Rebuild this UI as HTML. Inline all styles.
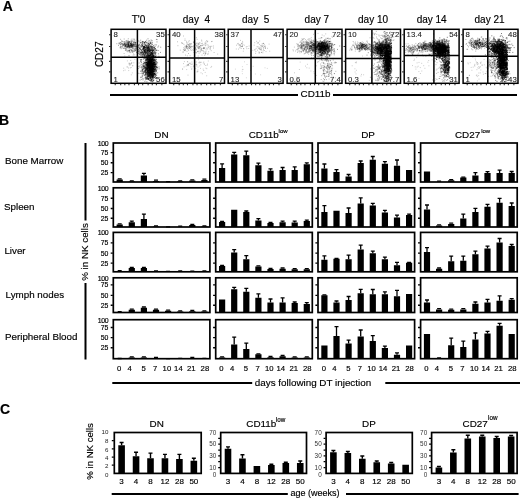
<!DOCTYPE html>
<html><head><meta charset="utf-8"><title>Figure</title>
<style>
html,body{margin:0;padding:0;background:#fff;}
body{width:520px;height:500px;overflow:hidden;}
svg{display:block;}
text{fill:#000;stroke:#000;stroke-width:.16px;}
</style></head><body>
<svg width="520" height="500" viewBox="0 0 520 500" style="font-family:'Liberation Sans',Arial,sans-serif">
<rect width="520" height="500" fill="#fff"/>
<text x="2.8" y="11.1" font-size="14" font-weight="bold">A</text>
<text x="-0.9" y="124.7" font-size="14" font-weight="bold">B</text>
<text x="0.1" y="413.6" font-size="14" font-weight="bold">C</text>
<text x="138.55" y="22.9" font-size="10" text-anchor="middle" style="white-space:pre">T'0</text>
<path transform="scale(.1)" stroke="#000" stroke-opacity="0.4" stroke-width="8" stroke-linecap="square" fill="none" d="M1279 459h0m2-18h0m-32 2h0m92 14h0m-3-4h0m-29-1h0m-93 15h0m98-8h0m-99-49h0m36 28h0m54 9h0m9-13h0m-9 23h0m-44 29h0m55-12h0m-53-42h0m13 14h0m43 7h0m-48-26h0m-3 48h0m-13-22h0m55-38h0m-17 62h0m-93-36h0m86-11h0m27 17h0m-88 19h0m96 3h0m35-13h0m-60-37h0m23 16h0m-48-15h0m-24 16h0m102-33h0m-124 50h0m131 8h0m-150-68h0m101 39h0m-66 38h0m100-19h0m-39 7h0m61 4h0m-49-2h0m-94 16h0m114-16h0m-132-26h0m127-26h0m-46 62h0m-51 13h0m84-38h0m-10 17h0m-10 11h0m-35-34h0m77 10h0m-87 20h0m106-31h0m-128 7h0m55-4h0m70-16h0m-6-5h0m-92 42h0m86 5h0m-35-16h0m-9 10h0m-15-7h0m34-6h0m8 12h0m56-5h0m-109-15h0m18 28h0m-14-12h0m98-64h0m-134 61h0m69 0h0m-37 9h0m32-25h0m96 19h0m-134-10h0m15 1h0m-113-10h0m168-15h0m-48 47h0m42 12h0m-116-41h0m62 22h0m64-73h0m0 27h0m-18-1h0m-23 59h0m-15-22h0m43-1h0m-40 31h0m51-40h0m77-19h0m-83 19h0m-35 22h0m4-2h0m-79-47h0m97 12h0m-74-11h0m103 48h0m9-37h0m-66-4h0m34 60h0m-74-1h0m84-38h0m-133 35h0m85-44h0m22 22h0m49-31h0m-16 55h0m14-37h0m-98 26h0m38-19h0m59-9h0m-167-3h0m20 27h0m97-31h0m-14 31h0m4 11h0m-7-6h0m70 12h0m-97-16h0m-54-43h0m-4 48h0m33-24h0m46-1h0m-18 6h0m108-4h0m-57 21h0m-33-50h0m-16 52h0m-49-37h0m119 30h0m-45 1h0m7-44h0m-77 12h0m112 2h0m-83-5h0m-28 14h0m16 11h0m-53-1h0m77-50h0m62 37h0m-133-13h0m113 9h0m22 26h0m-5-9h0m30 8h0m-40-61h0m20 75h0m-53-39h0m100-29h0m-66 92h0m-63-38h0m127-18h0m-60 23h0m-66-22h0m54 20h0m-15-22h0m-44-4h0m86 10h0m-78-21h0m158 44h0m-91-82h0m-1 68h0m48-2h0m-79 2h0m-84 12h0m102-38h0m45 55h0m-123-55h0m76 19h0m-31-25h0m113 44h0m-149-53h0m131 52h0m5-4h0m-121-12h0m-58-22h0m94 28h0m-30-15h0m54 11h0m8-3h0m-44 12h0m17-35h0m-30 18h0m23 3h0m5 1h0m-6-32h0m25 51h0m1-27h0m0-17h0m-105 22h0m43 15h0m-7-74h0m2 93h0m30-65h0m-17 41h0m56-7h0m45 12h0m-68-3h0m75 8h0m-28-45h0m-53 40h0m-6 8h0m40-4h0m-37 36h0m66-61h0m-52 62h0m-19-38h0m59-19h0m-97 4h0m69 21h0m19-24h0m3 11h0m-29-11h0m-20 14h0m-36-29h0m47-18h0m-20-12h0m-11 57h0m56-14h0m-35-30h0m92 42h0m-33-30h0m-57-21h0m43 61h0m-120-22h0m113-38h0m-110 16h0m54-8h0m29 36h0m28 10h0m39 11h0m-127-37h0m11-13h0m44 24h0m26-35h0m-78 34h0m47-6h0m6-10h0m35 25h0m-36-23h0m-4-45h0m-36 61h0m-24 3h0m75-34h0m-18 23h0m32 20h0m-23-32h0m-4 18h0m39 7h0m-66-36h0m16 14h0m-33 13h0m28 5h0m46-11h0m81 2h0m-55 10h0m0-55h0m-84 57h0m61 46h0m-12-23h0m19-7h0m-11-24h0m0-21h0m30 2h0m-42 69h0m-21-47h0m62 1h0m-88 5h0m62 10h0m-61 23h0m110-39h0m-63-9h0m52-7h0m-34 5h0m-61 27h0m91-16h0m-90 18h0m28-11h0m71 18h0m-92 25h0m23-33h0m-29-18h0m-50 40h0m140-66h0m-129-9h0m121 26h0m-56 3h0m-2-17h0m6-8h0m-4 39h0m24-12h0m-62 9h0m19 30h0m57-37h0m-56-12h0m-21 7h0m219 191h0m11-16h0m-52 171h0m8-126h0m-29-46h0m11 51h0m-16 70h0m36-97h0m-6 78h0m52-67h0m2 118h0m-6-77h0m-69 22h0m26-28h0m-36-27h0m52-39h0m1 153h0m-1-138h0m52-86h0m-80 150h0m8-158h0m20 183h0m-25 37h0m31-16h0m-49-70h0m76 118h0m-7-118h0m-28-37h0m23-4h0m-24-80h0m-40 225h0m38-91h0m-54-15h0m103-85h0m-108 78h0m45-3h0m-18-67h0m1 117h0m29 10h0m-25-13h0m15-30h0m34-3h0m-32-100h0m11 144h0m-17-50h0m-28-74h0m53 154h0m-18-174h0m-1 6h0m2 205h0m14-122h0m18-13h0m-17 34h0m3-98h0m6 138h0m-73-212h0m34 248h0m23-48h0m13 12h0m-30-86h0m25 70h0m5-16h0m-26 45h0m24-2h0m-74-3h0m2-48h0m44-5h0m4-25h0m17 38h0m-25-169h0m1 181h0m-2-7h0m12-81h0m38 154h0m-32-101h0m27-76h0m-46 146h0m44-96h0m-41 50h0m-16-51h0m29-116h0m21 191h0m11-130h0m-58 37h0m0 170h0m8-141h0m29 46h0m31-92h0m-14 74h0m-51 0h0m-6 87h0m17-36h0m50-97h0m-54 45h0m-4 46h0m30-99h0m-21 88h0m-19 58h0m17-113h0m-4 109h0m43-19h0m-4-73h0m26 35h0m-31-6h0m7-17h0m-22-112h0m55 17h0m-105 35h0m102 116h0m-63-57h0m14-135h0m-7 136h0m37-89h0m-85-22h0m64 99h0m-4 4h0m-13-91h0m20 105h0m3 52h0m-45-215h0m-14 268h0m22-104h0m23 20h0m80-75h0m-84-5h0m10 67h0m-30 48h0m53-52h0m-32-41h0m-38 53h0m17-69h0m49-25h0m-38 106h0m59-92h0m-18 2h0m-18 68h0m-38 33h0m73-59h0m-38-73h0m38 74h0"/>
<path transform="scale(.1)" stroke="#000" stroke-opacity="0.3" stroke-width="8" stroke-linecap="square" fill="none" d="M1334 514h0m13 35h0m-58-46h0m158-41h0m-149 45h0m30 5h0m-18-1h0m13 9h0m-87-36h0m85-4h0m-47 37h0m18 0h0m63-7h0m-11-9h0m-86 1h0m83-11h0m-24 28h0m-36-2h0m124-26h0m-77 9h0m62 10h0m-29-22h0m-41 15h0m-79 32h0m120-70h0m-7 35h0m-13 11h0m-87-13h0m134-8h0m-113-17h0m-9 37h0m131 2h0m-65 40h0m-34-64h0m47 27h0m-70-38h0m59 31h0m-72-9h0m35 14h0m19-12h0m-11 25h0m79-31h0m-25-9h0m-35 33h0m65-24h0m-71 12h0m-64-4h0m37 8h0m-21-51h0m53 49h0m-27 14h0m13-33h0m33-22h0m-51 35h0m68-4h0m-24-10h0m0 51h0m-45 15h0m2-52h0m37 23h0"/>
<path transform="scale(.1)" stroke="#000" stroke-opacity="0.25" stroke-width="8" stroke-linecap="square" fill="none" d="M1248 559h0m64 116h0m1 73h0m-15-95h0m26 5h0m25-65h0m-71-88h0m41 123h0m4 101h0m-32-96h0m-17-24h0m-5 60h0m23-23h0m-7 34h0m23-43h0m6 0h0m-63 64h0m56-96h0m22 52h0m-93 50h0m67-28h0m-5-42h0m-61 45h0m55-50h0m11 14h0m12-18h0m-25-71h0m-14 113h0m62-42h0m-51 78h0"/>
<path transform="scale(.1)" stroke="#000" stroke-opacity="0.5" stroke-width="8" stroke-linecap="square" fill="none" d="M1456 527h0m91-27h0m-21-30h0m-46 25h0m-4 48h0m103-72h0m-134 47h0m-21 0h0m73-31h0m-2-51h0m10 0h0m-65 40h0m13 56h0m22-50h0m20 79h0m-24-48h0m56-4h0m-114 89h0m157-179h0m-101 96h0m45 10h0m-55-69h0m17 83h0m-54-82h0m48-36h0m-11 60h0m32-11h0m-60 12h0m38-11h0m3 57h0m52 38h0m-88-85h0m-77 93h0m79-77h0m57-53h0m-3 53h0m-103 13h0m136-87h0m-18 83h0m-15 10h0m38-27h0m-20-7h0m-6-17h0m-38 102h0m25-75h0m-72-26h0m61 70h0m10-17h0m-21 33h0m-16-76h0m58 25h0m-53-26h0m1 48h0m28-73h0m3 55h0m-64 24h0m32-44h0m49 66h0m-67-35h0m-8 75h0m17-45h0m-7-16h0m129-134h0m-120 122h0m16-47h0m101 30h0m-171 31h0m-3 12h0m51-40h0m83-1h0m-120-73h0m116 98h0m-90 4h0m59-8h0m-124-38h0m143 41h0m-1-127h0m-32 118h0m107-58h0m-130 39h0m55-19h0m12-14h0m-40 11h0m-5-7h0m-79 72h0m86-66h0m-5 62h0m-53-44h0m68 25h0m-39-105h0m71 97h0m-55-24h0m11-6h0m-58-13h0m19 6h0m-25 49h0m-7 1h0m13-12h0m108-6h0m-95-6h0m40-71h0m-34 76h0m6-4h0m54 28h0m8-7h0m-54-25h0m1-12h0m4-56h0m-7 68h0m-29 0h0m67-6h0m70-97h0m-102 31h0m53 179h0m-157-101h0m136-17h0m2-78h0m13 105h0m-37-39h0m28 5h0m-19-1h0m-111 19h0m110 31h0m-48-31h0m67 7h0m28 74h0m-97-157h0m80 138h0m3-28h0m-70-62h0m68-7h0m-122-4h0m194 117h0m-143-106h0m41-1h0m49 27h0m-108 55h0m23-43h0m25-22h0m16-15h0m-98-60h0m26 58h0m56 32h0m26 3h0m-61-33h0m-59 21h0m117 28h0m-27-28h0m47 8h0m-9 22h0m-23 29h0m-36-66h0m-10-18h0m106 102h0m-69-47h0m52 9h0m1-83h0m-83 69h0m94-14h0m-104-18h0m9-20h0m98 9h0m-67 111h0m52-73h0m-81 3h0m101 9h0m-16-21h0m-34-12h0m-4 60h0m-83-55h0m75-20h0m-25 54h0m104-6h0m-75-87h0m72 65h0m-89-48h0m-1 1h0m6 63h0m-2-8h0m-39 46h0m9-130h0m21 42h0m-37 17h0m58-33h0m-19 104h0m37-63h0m-25 1h0m-8 34h0m-2-125h0m3 60h0m30 12h0m-22 111h0m-54-132h0m-17-51h0m-21 111h0m56-90h0m-38 100h0m32-40h0m50 69h0m72-13h0m-81-34h0m75 50h0m-95-39h0m27-16h0m-36-55h0m-1-9h0m79 83h0m-109 35h0m94-132h0m43 108h0m10-81h0m-69 66h0m-15-10h0m38-67h0m-103 4h0m31 32h0m42 35h0m-16-38h0m-21 65h0m54-34h0m-49 58h0m-12-36h0m79-37h0m-15-34h0m9 53h0m-117 19h0m31 24h0m9-58h0m44-6h0m-1-9h0m18 22h0m-21-110h0m43 111h0m-132 3h0m101 39h0m-70 19h0m42 34h0m0-69h0m-9-72h0m65 81h0m20-2h0m-95-100h0m-3 39h0m-8 50h0m52-34h0m-7 5h0m2 36h0m33-57h0m-111 84h0m73-13h0m-79-57h0m75-45h0m-24 87h0m72 35h0m-88-120h0m62 94h0m-14-90h0m26 84h0m-10-51h0m-11 51h0m-39-106h0m40 93h0m-14 17h0m-27-39h0m12 26h0m86-33h0m20 71h0m-56-38h0m44-30h0m-85-36h0m26 97h0m3-37h0m-33-10h0m-55 35h0m46-86h0m-16 11h0m72 75h0m-99-5h0m101-60h0m-107-7h0m38 44h0m13-95h0m27 20h0m30 13h0m-72 14h0m7 86h0m62-28h0m-24-86h0m-37 40h0m-21 42h0m11-48h0m-14-54h0m74 135h0m-19-92h0m-130 46h0m177 5h0m-13 47h0m9-77h0m-4 49h0m-116-47h0m5 12h0m90-39h0m-119 95h0m110 7h0m-77-17h0m153 38h0m-102-69h0m2 29h0m54-37h0m-108 27h0m40-5h0m33 40h0m39-83h0m-35 89h0m-40-54h0m78 33h0m-31-103h0m-80 63h0m74 92h0m-56-56h0m74-113h0m-72 74h0m15-13h0m43-26h0m0 7h0m-46 46h0m-1-10h0m98-10h0m-79 28h0m-9 14h0m-42-18h0m35-57h0m103-2h0m-1 60h0m-14-65h0m-11 97h0m-59-63h0m116 12h0m-130-32h0m39 38h0m-12 56h0m-23-50h0m81-59h0m-19 113h0m-108-117h0m14-30h0m67 0h0m2 132h0m-95-71h0m-13 44h0m53-42h0m35 33h0m-18-21h0m-9 4h0m-28-2h0m-34-23h0m173 23h0m-143 7h0m13-76h0m11 95h0m50-33h0m-59-39h0m103 53h0m-104-94h0m-19 183h0m10-102h0m61-3h0m-22-49h0m-34 123h0m13-34h0m-42-45h0m88 52h0m-63-17h0m68-54h0m4-6h0m-57 35h0m-86-3h0m77-55h0m26 90h0m1 20h0m-34-103h0m122 68h0m-27-49h0m-7 43h0m-7-9h0m25-27h0m-97-33h0m95 29h0m-99-8h0m27-13h0m7 26h0m-12-13h0m27 20h0m3 28h0m10-98h0m-39 56h0m59-31h0m-67 51h0m17 52h0m-5-1h0m-46-111h0m121 89h0m-33-12h0m0-54h0m21 28h0m1 25h0m-133-55h0m140 46h0m-69 15h0m-1-32h0m24 28h0m63-4h0m17 70h0m-8-30h0m-71-37h0m-12-34h0m3 3h0m77 47h0m-94-98h0m18 60h0m-47-28h0m-52 68h0m98 80h0m2-109h0m66 11h0m-57-20h0m-35 75h0m72 9h0m-61-68h0m-24 38h0m-23-16h0m112 33h0m-91-12h0m10-74h0m-28 76h0m134-70h0m-108 10h0m147 54h0m-137-112h0m-6 119h0m114-58h0m-115-9h0m-54 56h0m36 7h0m-28-94h0m90 20h0m22 31h0m-88 25h0m91-102h0m44 97h0m-48-94h0m-66 60h0m80-44h0m-88-23h0m29 95h0m-65-38h0m99 87h0m7-75h0m-83-25h0m23 43h0m28 61h0m15-110h0m56 81h0m-64-67h0m-89-12h0m125 9h0m-100 40h0m70 16h0m18 32h0m-67-17h0m-6-11h0m52-18h0m36-11h0m6 36h0m-44-58h0m-40 2h0m25 20h0m143 27h0m-99-60h0m-67 21h0m41-28h0m64 18h0m-24-70h0m-49 104h0m9 13h0m4-18h0m-98-35h0m-20 54h0m119-33h0m-51-15h0m120 92h0m-86-17h0m-68-129h0m49 42h0m-3 43h0m161-34h0m-134 37h0m-4 26h0m82-87h0m-73 39h0m7 281h0m-3-29h0m-14 42h0m87-41h0m-57 1h0m2 23h0m40-31h0m-20-16h0m21 34h0m-44 33h0m12-4h0m23 6h0m-37-32h0m23-5h0m23-10h0m-10 41h0m-59-46h0m21 8h0m26 8h0m-6-6h0m-4 19h0m17-26h0m-17 1h0m-2-14h0m23 42h0m-21-27h0m-7 1h0m-22 46h0m97-58h0m-89 37h0m35-43h0m-50 42h0m-2 17h0m30-26h0m10-13h0m-3 5h0m28 4h0m-26-9h0m-12-4h0m13 52h0m22-32h0m11 15h0m-29-23h0m-26 8h0m16-37h0m-20 71h0m30-29h0m0-19h0m5 31h0m-15-12h0m27-20h0m-18-5h0m9 8h0m11-8h0m11 9h0m-51-12h0m30 1h0m23 43h0m-26-54h0m-10 13h0m-36 24h0m80-20h0m-28 37h0m-35-33h0m24 16h0m-28-5h0m21 15h0m-30-30h0m22 5h0m24-7h0m41-1h0m-38 34h0m2-24h0m-36-1h0m30 7h0m-1 9h0m-30-30h0m47 9h0m-61 47h0m15-56h0"/>
<path transform="scale(.1)" stroke="#000" stroke-opacity="0.6" stroke-width="8" stroke-linecap="square" fill="none" d="M1516 563h0m-59-51h0m64 163h0m-13-166h0m-12 105h0m-30-11h0m60 95h0m-21-2h0m-16-28h0m18 31h0m-3-45h0m-2-33h0m67 75h0m-51 116h0m27-250h0m-20 155h0m34 32h0m-31-163h0m-46 94h0m38-83h0m-25 40h0m13 48h0m-10-102h0m43 184h0m-38-37h0m15-24h0m1-93h0m3 116h0m-41 62h0m84-10h0m-3-70h0m-65-87h0m-14 47h0m22 36h0m-56 106h0m121-152h0m-45 33h0m-11-45h0m-11-40h0m8 52h0m4-54h0m-8 59h0m16-72h0m-5 133h0m5-88h0m-31 9h0m34 116h0m-24-143h0m15 55h0m-36-61h0m22 92h0m-30-110h0m47-14h0m-11 103h0m-6-89h0m1 44h0m11-33h0m22-54h0m-36 110h0m32-41h0m-12 3h0m6 150h0m-32-84h0m-15 34h0m60-61h0m-66 24h0m64 45h0m-9-190h0m-42 211h0m-15-18h0m87-24h0m-22-72h0m-65 15h0m28 4h0m26-6h0m-15 37h0m-5 92h0m12-115h0m-18-46h0m44 51h0m-68-47h0m26 8h0m34-47h0m-16 85h0m-47-6h0m30 30h0m-10-13h0m-34-90h0m69 138h0m-22-107h0m30-97h0m-52 180h0m40-111h0m-71 161h0m57-152h0m-2 117h0m-75 13h0m94-207h0m1 19h0m10 142h0m31-66h0m-63 108h0m-18-114h0m8 41h0m-20 36h0m45-26h0m33-26h0m-11-15h0m-16-90h0m-15 115h0m-20-29h0m4-7h0m-51 8h0m46 5h0m-15 25h0m52-7h0m-36 104h0m41-28h0m5-81h0m-36 93h0m-12-80h0m27 32h0m-19 40h0m3-17h0m35-4h0m-9-118h0m-58 35h0m50 138h0m-47-78h0m10-68h0m16 93h0m14 32h0m-34-19h0m54-53h0m-13-42h0m-44 11h0m17 133h0m20-87h0m15-71h0m5 75h0m-68 15h0m57-10h0m29-56h0m-30 76h0m-39 29h0m-16-163h0m56 14h0m-18-36h0m5 33h0m8-26h0m3 83h0m-11 13h0m2-82h0m-76 88h0m46-32h0m38-99h0m-33 89h0m-9 61h0m26-74h0m-24 105h0m10-14h0m31-161h0m-43 123h0m40 51h0m12 16h0m-32-81h0m32-14h0m8-75h0m-12 92h0m-73 75h0m64-63h0m-39-31h0m72-24h0m-139-2h0m63 47h0m23-50h0m-13 127h0m-16 59h0m25-198h0m37 108h0m-51 12h0m-23-109h0m84 43h0m-68 50h0m62-34h0m-77-22h0m63 73h0m40-66h0m-66 14h0m48-59h0m3-118h0m-15 135h0m-9 89h0m-46-51h0m40 44h0m-33-102h0m21 50h0m-37 74h0m27 33h0m39-92h0m-4-73h0m-29 35h0m-27 38h0m32 92h0m-90-137h0m68 14h0m38 56h0m-11-57h0m13 54h0m-66-40h0m14-60h0m42 81h0m-1-61h0m-9-2h0m17 104h0m38 37h0m-72-112h0m-3 50h0m81 26h0m-117-128h0m26 115h0m36-14h0m50-73h0m-74 182h0m34-179h0m-67-48h0m-11 103h0m69 61h0m-5-110h0m-17 169h0m-28-113h0m50 29h0m-12-8h0m34-42h0m-36-2h0m-14-2h0m19 28h0m45 71h0m-49-46h0m20 11h0m-7-33h0m-14-68h0m37 135h0m-5-56h0m-12-57h0m-57 72h0m56-79h0m-33 119h0m-24 32h0m69 39h0m-38-155h0m6 11h0m8-59h0m36-2h0m-44 87h0m-1-64h0m25 4h0m-45 17h0m29 118h0m-25-48h0m9-86h0m13 41h0m33 96h0m-42-28h0m46-33h0m-49 6h0m18-36h0m-5 20h0m39 31h0m-37-9h0m47-126h0m0-26h0m-26 126h0m27-21h0m-55-70h0m-22 102h0m28-97h0m22-3h0m-27 20h0m58 125h0m-50-197h0m12 107h0m2 32h0m-19 23h0m32-46h0m-34-45h0m30-40h0m-23 22h0m-35 88h0m38-37h0m25-99h0m-26 116h0m25-90h0m-3 85h0m18 60h0m-23 66h0m-15-168h0m-10-33h0m9-61h0m-1 150h0m30-51h0m11-19h0m-43-80h0m-17 71h0m62 85h0m-71 0h0m43-49h0m-12-4h0m-16-94h0m13 195h0m41-100h0m-59 5h0m45 35h0m-41 1h0m10 10h0m-5-126h0m13 141h0m-32-55h0m54-17h0m-42 153h0m41-64h0m-49 38h0m-19-136h0m65 117h0m-45-126h0m30-80h0m12 157h0m-29-1h0m33-14h0m-7 76h0m-27-86h0m-1 55h0m3-35h0m15-26h0m43-9h0m-9 57h0m-2-62h0m-11 58h0m-42-31h0m14-19h0m38-43h0m-81-64h0m34 69h0m12 76h0m48-17h0m-35-65h0m3 131h0m20-208h0m-12 222h0m-2-193h0m-30 131h0m19-88h0m-35 111h0m-12 30h0m37-71h0m-37-56h0m55-55h0m37 4h0m-89 91h0m46 43h0m-23-59h0m4-23h0m-63 96h0m76-50h0m-24 6h0m17-21h0m30-103h0m-23 41h0m-16 161h0m-20-100h0m13 65h0m-10-164h0m40 83h0m-23 89h0m-15-90h0m28 49h0m-18 39h0m74-91h0m-10-106h0m-12 111h0m-34 0h0m-21-59h0m6 161h0m42-103h0m-45-22h0m-18 157h0m50-106h0m-31-71h0m48 113h0m-61 13h0m-4-22h0m4-66h0m39 53h0m14-79h0m15 136h0m-42-55h0m-21-39h0m-15 16h0m41 78h0m20-33h0m-35-65h0m1 28h0m-43 34h0m10-80h0m43 0h0m44 26h0m-3 79h0m-55-48h0m48-46h0m-33-14h0m0 13h0m0 85h0m35-55h0m-32 45h0m-13-119h0m38 8h0m-5-2h0m24-5h0m-26 159h0m-49-1h0m4-203h0m41 154h0m-24-202h0m4 139h0m-9 1h0m-38-17h0m96 132h0m-58-141h0m21 110h0m8-139h0m-15 82h0m35 66h0m-25 1h0m-25 20h0m0-71h0m36-82h0m-44-53h0m23 107h0m-13 34h0m-48-32h0m59-16h0m19 126h0m-33-168h0m-4 65h0m32-60h0m11-10h0m-5 91h0m-10 108h0m-19-145h0m20 64h0m-49-37h0m16 22h0m57-36h0m-40 8h0m-76 37h0m94-38h0m-26-56h0m6 122h0m2 8h0m-66-113h0m76 28h0m-52-40h0m79-40h0m-61 13h0m12 108h0m31-167h0m23 90h0m-55 141h0m14-181h0m-15 32h0m-10 24h0m51 43h0m-51-15h0m28 41h0m-10-20h0m66-22h0m-86 14h0m7-43h0m27 44h0m-13 32h0m3-134h0m29 58h0m9-18h0m-18 61h0m-87-113h0m42 181h0m-21-31h0m80-26h0m-11-62h0m-18 45h0m11 30h0m-17-88h0m-9 70h0m-30-104h0m34 43h0m4-131h0m-2 150h0m30-108h0m-29 154h0m21 45h0m15-141h0m-11 45h0m-39 117h0m5-149h0m6 0h0m38 77h0m11 2h0m-55 39h0m-1-94h0m13 31h0m37-40h0m-23 36h0m-43-66h0m28 93h0m15 5h0m-8-58h0m10-35h0m-47 42h0m-3-11h0m19-3h0m19-15h0m-10-57h0m15 52h0m7-122h0m-33 192h0m-44-38h0m69 29h0m-43 8h0m44-75h0m16 58h0m-19-25h0m14 34h0m16 22h0m-48-42h0m42-9h0m-15 56h0m-15-179h0m9 159h0m0-61h0m29 40h0m-50-37h0m27-24h0m-37 195h0m62-60h0m2-29h0m-83 38h0m80-44h0m-87 47h0m90-109h0m-34 80h0m-5 20h0m4-25h0m0-137h0m6 176h0m23 25h0m-16-146h0m-14-83h0m-6 178h0m-54-45h0m81 72h0m-47-125h0m-26-23h0m66 195h0m-46-44h0m43-118h0m48-128h0m-62 173h0m60 99h0m4-105h0m-35 78h0m-13-63h0m-19-49h0m-28 149h0m21-254h0m19 129h0m-2 117h0m-8-132h0m-17 16h0m8 14h0m97 12h0m-108 97h0m47-70h0m-5 0h0m-1 37h0m9-4h0m-41-85h0m-6 61h0m43-90h0m11-42h0m-37 111h0m2-16h0m33-3h0m-62 24h0m27-38h0m-12-95h0m-19 66h0m5-150h0m60 98h0m-51 108h0m-46 51h0m45-43h0m8-23h0m16-19h0m-53-93h0m49 182h0m-14-55h0m19-3h0m23-126h0m-20 84h0m-16-43h0m-12-11h0m67 66h0m-26-63h0m-96-53h0m80 206h0m-5-154h0m-6 0h0m-31 48h0m27-36h0m-13-8h0m30 147h0m-12 54h0m-38-125h0m12-27h0m35 45h0m28-70h0m-65 23h0m42-32h0m16 151h0m-63-84h0m67-145h0m-22 108h0m-45 97h0m45-113h0m6 71h0m9-4h0m-10-112h0m-22 83h0m-65 127h0m66-202h0m-40 83h0m51-53h0m-12-19h0m-9 50h0m2 49h0m14-35h0m15 73h0m5-67h0m-20-65h0m-5 94h0m15-68h0m-42-72h0m45 162h0m1-152h0m-16 101h0m-19 8h0m20-75h0m-29 104h0m44-107h0m-38 112h0m44-75h0m27 1h0m-72 87h0m24-47h0m6-85h0m-33 51h0m70-52h0m-1 78h0m-67 3h0m45-74h0m-73 80h0m28 5h0m-22-37h0m30-85h0m15 105h0m-8-86h0m21-36h0m9 142h0m31 25h0m-36-39h0m-9-101h0m39 117h0m-48-105h0m48 106h0m-72 8h0m84-43h0m-41-25h0m-28 94h0m101-61h0m-87 43h0m-5-4h0m31-110h0m-52 59h0m52 22h0m11-104h0m-21 48h0m-10 59h0m-29-34h0m-6 31h0m9-48h0m29-10h0m25 1h0m-8 58h0m-51-32h0m5-9h0m16 138h0m-4-16h0m23-181h0m-75 125h0m9 2h0m82-20h0m-34-41h0m13-3h0m-22-4h0m47-16h0m-22-33h0m-29-15h0m14 130h0m13-74h0m9 9h0m-7 39h0m5-173h0m-50 205h0m32 92h0m-3-176h0m46 70h0m11-3h0m-57 14h0m-15-74h0m6 14h0m36-16h0m-12-1h0m15-142h0m-30 184h0m-23 53h0m35 17h0m20-41h0m-30-108h0m-2 39h0m13 0h0m76-71h0m-51 70h0m-39 88h0m7-134h0m11 64h0m-67 24h0m27-59h0m42 66h0m-21 117h0m19-175h0m-5 31h0m-66-91h0m22 229h0m33-147h0m-10 79h0m16 45h0m20-4h0m-24-79h0m-9-35h0m-35-25h0m21-5h0m59 57h0m0 38h0m-8 9h0m-41-13h0m7-83h0m41 169h0m-58-27h0m48-162h0m-15 76h0m3-45h0m-45 24h0m58 47h0m-5 20h0m-45-72h0m36 66h0m-5-31h0m0 99h0m-63-133h0m126 17h0m-116-7h0m10-51h0m45 150h0m6-65h0m15-29h0m-50-19h0m32-11h0m-27-5h0m-22-42h0m38 41h0m3 111h0m7-90h0m-40-65h0m42 12h0m2-12h0m-8 62h0m23-20h0m-37 40h0m11 91h0m-8-140h0m-2 64h0m15 13h0m-43 112h0m87-157h0m-83 12h0m44-150h0m-11 48h0m12 178h0m16-180h0m9 151h0m-47-26h0m51-52h0m-41-14h0m31-100h0m7 74h0m-13-41h0m-50 65h0m47-64h0m-6 61h0m17 21h0m-20 8h0m35-12h0m-49 147h0m3-81h0m-22-31h0m-41-5h0m44-101h0m-21 165h0m49-166h0m38 51h0m-59 59h0m-21-116h0m11 175h0m46-173h0m6 101h0m-19 1h0m-2-66h0m-35 19h0m14 83h0m-23 61h0m16-137h0m36 64h0m-28-94h0m-18-33h0m58 168h0m19-37h0m-41 16h0m17-63h0m-17 151h0m-55-223h0m20 135h0m58-68h0m-14 18h0m-10-31h0m-9 34h0m31 140h0m-79-107h0m49 28h0m29-12h0m-7-108h0m-68 163h0m79-164h0m2 102h0m-101 14h0m39 17h0m9-120h0m-24 33h0m69-28h0m-77 176h0m100-91h0m-64-119h0m-30 111h0m79-101h0m-35 49h0m-7 48h0m63-71h0m-33 108h0m-31-77h0m-28 77h0m22-109h0m16-13h0m-30 35h0m68 6h0m-26-79h0m-67 206h0m42-210h0m8 134h0m-44-93h0m54-3h0m15 118h0m-10-87h0m-13-13h0m-3 60h0m-4 41h0m78-95h0m-61 86h0m8-67h0m-30 78h0m30-31h0m-39 8h0m43-52h0m-4 148h0m-68-98h0m19-124h0m26 120h0m7-107h0m-40 38h0m39-17h0m-41 162h0m18-120h0m8-27h0m16 18h0m16-55h0m-57 197h0m38-75h0m34-13h0m-31-133h0m-44 160h0m61-26h0m-63-170h0m16 60h0m33 10h0m39 25h0m-58 93h0m24-111h0m13 178h0m-55-137h0m4-106h0m46 166h0m9-17h0m-81-29h0m37-72h0m-12 122h0m22 76h0m21-244h0m11 199h0m-23-156h0m47-6h0m-50-37h0m-32 13h0m64 182h0m-41-161h0m9 110h0m-40-97h0m39 118h0m5-17h0m-36-186h0m43 100h0m-12 34h0m16-25h0m26 51h0m-25 38h0m14-14h0m-76-66h0m99 70h0m-36 0h0m-33-73h0m0 117h0m28 39h0m4 7h0m-1-195h0m35 96h0m-15-7h0m-42-3h0m-22-87h0m7 43h0m-13 26h0m45 136h0m43-132h0m-27-11h0m-13 12h0m-26 7h0m-26 23h0m33-97h0m-2 104h0m-9-5h0m35 70h0m-46-107h0m44 103h0m-7-48h0m-47-85h0m86 19h0m14-29h0m-68-55h0m26 119h0m38-6h0m-63-101h0m5 151h0m22 18h0m4-82h0m-7 14h0m-54 99h0m47-177h0m1 85h0m17 75h0m-112-57h0m126-97h0m-93 79h0m60 5h0m-40-53h0m36 78h0m56-29h0m-78-171h0m47 144h0m-33-56h0m23-51h0m-17 123h0m5 76h0m-11-78h0m27-106h0m-32 104h0m35-56h0m-5 77h0m-63-120h0m1 104h0m46 38h0m17-83h0m7 89h0m-17-22h0m-49-8h0m7-100h0m19 86h0m9-30h0m-27 33h0m7-103h0m24 185h0m-14-163h0m50 180h0m-47-125h0m12 78h0m8-182h0m-43 38h0m43 87h0m38-24h0m-41 22h0m-5 145h0m4-55h0m28-134h0m-17 14h0m-16 35h0m-2-40h0m42 13h0m-23 126h0m-3-43h0m22 5h0m9-164h0m7 95h0m-104-44h0m10 41h0m-3-64h0m50 75h0m-30-25h0m19 20h0m3-19h0m25-90h0m-39 113h0m3-45h0m-1 50h0m47-26h0m-42 35h0m0-149h0m15 101h0m-24 66h0m17-78h0m-62-75h0m61 104h0m12 22h0m-25-96h0m-18 73h0m-1 58h0m-5-165h0m32 1h0m51 51h0m-47 48h0m-22-99h0m-29 171h0m81 85h0m-70-105h0m41 19h0m-14-8h0m39-8h0m16-50h0m2-35h0m4-133h0m-47 127h0m0 119h0m20-61h0m28-102h0m-71 194h0m32-233h0m1 58h0m31 151h0m-56 10h0m-8-24h0m39-68h0m-56-10h0m-24-19h0m12 116h0m25-237h0m43 182h0m-30 114h0m36-134h0m-40-196h0m31 254h0m-30-154h0m16-17h0m1 159h0m42-33h0m-36 32h0m33-70h0m-73-30h0m-1-7h0m32 80h0m7-17h0m-14 23h0m35 21h0m17-68h0m-49 129h0m13-83h0m-15 36h0m-2-128h0m9 36h0m25 4h0m-20 11h0m7-27h0m21-52h0m-42 47h0m29 49h0m-4-24h0m-34-52h0m11 38h0m17 58h0m19-30h0m-48-62h0m23 92h0m53-11h0m-6 110h0m-78-43h0m61 8h0m-32-25h0m-13-67h0m14 121h0m-7-54h0m8-108h0m5 89h0m-27-2h0m0-98h0m26 42h0m-34-91h0m29 122h0m-14-4h0m-30 14h0m55-8h0m-29-13h0m21 65h0m4-54h0m-28 40h0m53-88h0m-15 52h0m-19-104h0m50-37h0m-41 97h0m24-3h0m-31 67h0m12-74h0m6 59h0m9-58h0m-29 8h0m-22 42h0m34 75h0m-20-67h0m41-32h0m-30 16h0m-21-73h0m50 75h0m-33-92h0m5 157h0m-35-134h0m63 151h0m12-129h0m-26-13h0m-2 25h0m-10 111h0m4-103h0m-7 33h0m-16-4h0m31 88h0m-74-178h0m23 134h0m102-44h0m-65 61h0m-71-86h0m-19 22h0m73-41h0m23-7h0m22 38h0m-43 60h0m-11 21h0m50-72h0m1 95h0m10-104h0m-40 71h0m-39-110h0m54 76h0m39 76h0m-43-85h0m-46-40h0m44-3h0m-5 54h0m-28-76h0m-23 111h0m20-184h0m50 96h0m6-10h0m32 70h0m-55-39h0m-10 45h0m61-79h0m-85 65h0m60-134h0m-49 32h0m35 96h0m-36-104h0m39-60h0m-1 122h0m35 74h0m-69-82h0m8-29h0m10 109h0m-44-77h0m83 63h0m-63-100h0m-2-51h0m56 107h0m-51-96h0m8 59h0m58 4h0m-44 98h0m15-81h0m-78 102h0m76-118h0m-18-33h0m-23-34h0m39 128h0m-9 17h0m10-42h0m-39 30h0m57 2h0m1-70h0m-61 110h0m11-64h0m11-15h0m-2-35h0m-42 156h0m55-245h0m-31 51h0m5-91h0m36 268h0m-23-58h0m24-126h0m16-28h0m-49 84h0m50 31h0m-37-59h0m5 54h0m18 86h0m0-88h0m-24 101h0m10-103h0m43 101h0m-33-107h0m-33 75h0m5-7h0m-9-54h0m32 2h0m-5 15h0m-37-95h0m27 186h0m1-174h0m-15 61h0m50-38h0m-17 48h0m-25-72h0m6 14h0m19-66h0m16 160h0m-15 47h0m0-203h0m-15 137h0m-20-101h0m31 104h0m-24-47h0m-2-21h0m12 104h0m-42-90h0m88 42h0m-40 33h0m-31-130h0m-18-15h0m52 146h0m-18-97h0m22 82h0m-4-160h0m-22-39h0m22 106h0m-25 149h0m54-64h0m-28-20h0m-24-14h0m68-52h0m-70 65h0m42 43h0m-50-61h0m19-70h0m9 48h0m23 57h0m-46-22h0m11-45h0m-3 107h0m2-175h0m-10 159h0m80-118h0m-69 46h0m-28 46h0m37-7h0m62-35h0m-39 70h0m-39-90h0m59 82h0m-38-114h0m20 102h0m36 60h0m-38-76h0m-20-52h0m6 50h0m10 54h0m-10-103h0m14 132h0m-45-71h0m38 7h0m-1-40h0m-17 113h0m50-196h0m-116 117h0m51-61h0m-25 55h0m42-56h0m25 188h0m16-80h0m-51-32h0m10 31h0m17-75h0m-1-43h0m7 140h0m-32-60h0m-35 24h0m69-123h0m23 71h0m-94-93h0m71 69h0m6-81h0m-33 160h0m-15-19h0m8-21h0m19 119h0m-43-92h0m70-120h0m-34 217h0m27-333h0m-35 79h0m14 62h0m-23-7h0m23 24h0m-33 15h0m36-40h0m19-51h0m-19 80h0m32-16h0m-61-44h0m72 124h0m-84-60h0m4 117h0m37-225h0m-5 187h0m-6-28h0m-3-17h0m9-58h0m3 55h0m-10-53h0m-27 59h0m50-169h0m-37 239h0"/>
<rect x="111.1" y="29.3" width="54.9" height="54" fill="none" stroke="#000" stroke-width="1.5"/>
<path d="M137.4 29.3V83.3M111.1 57.3H166" stroke="#000" stroke-width="1.5"/>
<path d="M110.5 71.9h-1.5M110.5 61.4h-1.5M110.5 46.5h-1.5M110.5 34.7h-1.5M115.23 83.9v1.3M120.69 83.9v1.3M124.82 83.9v1.3M128.96 83.9v1.3M134.42 83.9v1.3M138.55 83.9v1.3M142.68 83.9v1.3M148.14 83.9v1.3M152.27 83.9v1.3M156.41 83.9v1.3M161.87 83.9v1.3" stroke="#000" stroke-width="1.1" stroke-opacity=".8"/>
<text x="113.5" y="36.8" font-size="7.8" style="stroke:#222;stroke-width:.08px;fill:#222">8</text>
<text x="164.8" y="36.8" font-size="7.8" text-anchor="end" style="stroke:#222;stroke-width:.08px;fill:#222">35</text>
<text x="113.5" y="81.6" font-size="7.8" style="stroke:#222;stroke-width:.08px;fill:#222">1</text>
<text x="164.8" y="81.6" font-size="7.8" text-anchor="end" style="stroke:#222;stroke-width:.08px;fill:#222">56</text>
<text x="196.45" y="22.9" font-size="10" text-anchor="middle" style="white-space:pre">day  4</text>
<path transform="scale(.1)" stroke="#000" stroke-opacity="0.3" stroke-width="8" stroke-linecap="square" fill="none" d="M1944 423h0m-92 77h0m3 51h0m46 6h0m1-92h0m-38-10h0m7 7h0m64-43h0m-85-29h0m121 70h0m-76 1h0m51 13h0m-7-17h0m-49 4h0m-87 40h0m14-73h0m113 37h0m7 58h0m52-12h0m-104 24h0m-33-75h0m94-4h0m-56-5h0m74-74h0m-4 123h0m-68-17h0m-44 19h0m201-71h0m-83 30h0m-87-15h0m8-27h0m-59 102h0m67-39h0m17-2h0m-92-50h0m108 68h0m-89-55h0m4 43h0m70-22h0m-49 11h0m34-38h0m15 3h0m31 45h0m-82-1h0m37-46h0m-49-33h0m-11 70h0m117-34h0m-52 34h0m31 4h0m22 11h0m-99-13h0m-79-20h0m118 26h0m-16 9h0m81-58h0m-93 38h0m52-4h0m17-46h0m-3 82h0m17-26h0m-68-1h0m8-70h0m-26 55h0m4-32h0m14 20h0m15 11h0m6 37h0m-2-21h0m-68-117h0m41 127h0m3-46h0m-45 53h0m36-22h0m83 10h0m55-24h0m-64 29h0m-81-22h0m5-38h0m43 9h0m69 1h0m-111 29h0m1-1h0m-4-52h0m-91 5h0m197 61h0m-68-32h0m-15 26h0m-62-38h0m24 72h0m-8-3h0m30 54h0m19-94h0m72 30h0m-21-68h0m10 96h0m-62-76h0m-50 53h0m70-36h0m-77 57h0m106-58h0m30-32h0m-30-2h0m27 25h0m-10-5h0m-41 55h0m-65-37h0m3 27h0m12-43h0m20 54h0m98-32h0m42-18h0m-27 13h0m59-48h0m2 13h0m-13 121h0m-59-82h0m43 36h0m-13-96h0m-69 68h0m112 31h0m-47-14h0m-32 22h0m60-69h0m15 85h0m-62-104h0m-10 3h0m58 52h0m-7-5h0m81-17h0m-146-70h0m90 56h0m-30 38h0m43-69h0m-85 58h0m48 37h0m-21-112h0m100 15h0m-128 71h0m-6 73h0m78-68h0m-40 59h0m58-103h0m43-34h0m-110 69h0m43-44h0m87 86h0m-151-39h0m18-28h0m97 19h0m-66 0h0m-63 39h0m25 3h0m18-62h0m116 23h0m-127-26h0m74 84h0m1-79h0m-104-10h0m60 33h0m-32 36h0m-18-70h0m87 42h0m-53 17h0m-61 23h0m215 11h0m-124 1h0m-4-22h0m-15-40h0m43-68h0m-43 121h0m-163-47h0m230-2h0m-43 38h0m8-115h0m-77 56h0m66-6h0m-15 74h0m-170-18h0m232-19h0m-55-19h0m21 6h0m-65 19h0m-7-28h0m29-39h0m57 38h0m-106-1h0m-13 53h0m114 19h0m-65-44h0m-24-55h0m53 44h0m60-23h0m11 43h0m-118-40h0m-3 66h0m22-29h0m88-40h0m-84 21h0m-17-56h0m-12 56h0m69 49h0m-120-43h0m40 22h0m111-36h0m46-17h0m-120-24h0m-7 41h0m79 41h0m-56-70h0"/>
<path transform="scale(.1)" stroke="#000" stroke-opacity="0.25" stroke-width="8" stroke-linecap="square" fill="none" d="M1883 646h0m-6 1h0m-16 14h0m15-5h0m-35 13h0m78 20h0m-45-71h0m-30-2h0m26 35h0m-44 39h0m9-54h0m32 60h0m102-47h0m-84-2h0m3 9h0m106-36h0m-102 12h0m18 10h0m9-22h0m61 51h0m-154 20h0m51-74h0m36 26h0m12-2h0m7 28h0m-22 0h0m-28-20h0m32 42h0m-34 60h0m83-133h0m-24 42h0m-34-28h0m56-2h0m-68 4h0m79 79h0m-11-68h0m83 1h0m-35-25h0m29-1h0m29 138h0m-57-30h0m34-91h0m-35-12h0m23 66h0m40-39h0m-105 8h0m142 14h0m-86-93h0m-18 103h0m-26 32h0m19-87h0m-1 30h0m78-18h0m-137 19h0m114 64h0m-81-3h0m88-40h0m-71-53h0m-9 72h0m58 5h0m79-41h0m-92 74h0m-62-92h0m46 2h0m25-18h0m50-20h0m-97-13h0m-29 89h0m100-31h0m11 32h0"/>
<rect x="169.6" y="29.3" width="54.9" height="54" fill="none" stroke="#000" stroke-width="1.5"/>
<path d="M194.6 29.3V83.3M169.6 58H224.5" stroke="#000" stroke-width="1.5"/>
<path d="M169 71.9h-1.5M169 61.4h-1.5M169 46.5h-1.5M169 34.7h-1.5M173.73 83.9v1.3M179.19 83.9v1.3M183.32 83.9v1.3M187.46 83.9v1.3M192.92 83.9v1.3M197.05 83.9v1.3M201.18 83.9v1.3M206.64 83.9v1.3M210.77 83.9v1.3M214.91 83.9v1.3M220.37 83.9v1.3" stroke="#000" stroke-width="1.1" stroke-opacity=".8"/>
<text x="172" y="36.8" font-size="7.8" style="stroke:#222;stroke-width:.08px;fill:#222">40</text>
<text x="223.3" y="36.8" font-size="7.8" text-anchor="end" style="stroke:#222;stroke-width:.08px;fill:#222">38</text>
<text x="172" y="81.6" font-size="7.8" style="stroke:#222;stroke-width:.08px;fill:#222">15</text>
<text x="223.3" y="81.6" font-size="7.8" text-anchor="end" style="stroke:#222;stroke-width:.08px;fill:#222">7</text>
<text x="255.65" y="22.9" font-size="10" text-anchor="middle" style="white-space:pre">day  5</text>
<path transform="scale(.1)" stroke="#000" stroke-opacity="0.28" stroke-width="8" stroke-linecap="square" fill="none" d="M2405 452h0m28 60h0m-24-48h0m29 25h0m-3-4h0m-44-40h0m-26 7h0m126 8h0m-66 1h0m1-47h0m-24 34h0m25-20h0m-8 4h0m-36 2h0m15 44h0m64-8h0m-46-33h0m-40 1h0m92 49h0m-39-41h0m-7 20h0m0 0h0m-23-11h0m13 30h0m-27 6h0m34-53h0m4 19h0m-8 9h0m-10-62h0m38 48h0m28 13h0m-108 25h0m39-21h0m85 16h0m-97-34h0m159 48h0m85-66h0m-4 77h0m14-63h0m-59-17h0m-24 56h0m53 38h0m9-63h0m-67 72h0m62-61h0m-45-40h0m64 3h0m-2 63h0m-38-88h0m31 118h0m-48-104h0m75 55h0m-67 42h0m13-30h0m-5-47h0m25-4h0m-79 12h0m118 64h0m37-4h0m-22-29h0m-80 8h0m-20 11h0m19-19h0m-15-15h0m71-3h0m-64 19h0m61-18h0m-81-53h0m-7 102h0m50-23h0m45-8h0m-23-30h0m-82 44h0m59-2h0m-38-28h0m121-27h0m-75 83h0m-13-46h0m-75 25h0m67 20h0m13-64h0m21 5h0m-37 69h0m59-55h0m-7 27h0m-9-30h0m-20 14h0m19-2h0m-44-16h0m40-35h0m-18 67h0m7-40h0m-8-8h0m40 4h0m-104-32h0"/>
<path transform="scale(.1)" stroke="#000" stroke-opacity="0.2" stroke-width="8" stroke-linecap="square" fill="none" d="M2505 706h0m-60-88h0m25 27h0m-39 49h0m-9 18h0m2-45h0m40 111h0m142-30h0m-182-54h0m130 46h0m-200-49h0m70 46h0m108-74h0m118 15h0m23 6h0"/>
<rect x="228.2" y="29.3" width="54.9" height="54" fill="none" stroke="#000" stroke-width="1.5"/>
<path d="M251 29.3V83.3M228.2 57.6H283.1" stroke="#000" stroke-width="1.5"/>
<path d="M227.6 71.9h-1.5M227.6 61.4h-1.5M227.6 46.5h-1.5M227.6 34.7h-1.5M232.33 83.9v1.3M237.79 83.9v1.3M241.92 83.9v1.3M246.06 83.9v1.3M251.52 83.9v1.3M255.65 83.9v1.3M259.78 83.9v1.3M265.24 83.9v1.3M269.38 83.9v1.3M273.51 83.9v1.3M278.97 83.9v1.3" stroke="#000" stroke-width="1.1" stroke-opacity=".8"/>
<text x="230.6" y="36.8" font-size="7.8" style="stroke:#222;stroke-width:.08px;fill:#222">37</text>
<text x="281.9" y="36.8" font-size="7.8" text-anchor="end" style="stroke:#222;stroke-width:.08px;fill:#222">47</text>
<text x="230.6" y="81.6" font-size="7.8" style="stroke:#222;stroke-width:.08px;fill:#222">13</text>
<text x="281.9" y="81.6" font-size="7.8" text-anchor="end" style="stroke:#222;stroke-width:.08px;fill:#222">3</text>
<text x="316.85" y="22.9" font-size="10" text-anchor="middle" style="white-space:pre">day 7</text>
<path transform="scale(.1)" stroke="#000" stroke-opacity="0.3" stroke-width="8" stroke-linecap="square" fill="none" d="M3057 527h0m-22-73h0m98 13h0m-49-37h0m65 69h0m-71-9h0m-41-36h0m-53 26h0m138 15h0m-16-5h0m-90-61h0m76 45h0m17-14h0m-91 22h0m16-64h0m-3 24h0m-25 10h0m101 88h0m39-84h0m-29 10h0m-36-18h0m-24-31h0m92 28h0m-59 6h0m-16-18h0m-31 63h0m47-87h0m13 20h0m-28 55h0m-45-25h0m19 22h0m57 29h0m-29 19h0m-62-6h0m33-31h0m7-21h0m-39 9h0m144-7h0m-100-4h0m36-7h0m-35 13h0m64 22h0m-116-48h0m53 45h0m46-32h0m57 2h0m-35 48h0m9-37h0m-50-53h0m-115 28h0m122 51h0m-40-1h0m33 15h0m-106-72h0m31-6h0m128 3h0m-122 16h0m84-1h0m-7 30h0m-67-88h0m-14 34h0m125 16h0m-132 33h0m55-40h0m51 56h0m-40-51h0m-57-39h0m62 74h0m-64-11h0m206-35h0m-245 53h0m63-34h0m51 12h0m19 19h0m8-12h0m-163 38h0m23-10h0m95-74h0m-9 69h0m-53-25h0m14-32h0m6 69h0m64-39h0m-38 4h0m18 2h0m-98 22h0m42-107h0m76 43h0m-41 34h0m-22 19h0m16-25h0m-34 0h0m-4 10h0m116 29h0m-44-72h0m29 70h0m51-97h0m-100 58h0m52-23h0m-72 104h0m68-131h0m-48 102h0m-31-24h0m35-62h0m-36 79h0m89-53h0m-3-3h0m-43 21h0m-73 10h0m42-93h0m-22 57h0m0-4h0m7-44h0m78 76h0m-31-10h0m-10 0h0m-57-38h0m58 77h0m8 18h0m-79-57h0m37 46h0m113-54h0m-47 9h0m-85 4h0m-2 51h0m80-12h0m-11-110h0m21 77h0m-156 0h0m167 49h0m-100-28h0m66-29h0m-30 21h0m42 4h0m-48-60h0m85 80h0m-93-41h0m68-53h0m-15 128h0m-12-95h0m87 21h0m-90-13h0m-1-42h0m-72 10h0m107 42h0m13-59h0m-86 107h0m-10-102h0m2 47h0m36 50h0m66 8h0m-36-63h0m-53-30h0m87 83h0m-59-65h0m29 42h0m-25-51h0m4 19h0m24 35h0m-14-31h0m53 37h0m-13 2h0m-29-14h0m-86-68h0m7 75h0m91-13h0m-41 50h0m-24-111h0m-56 45h0m110 33h0m-45 2h0m9-47h0m-17 45h0m66-57h0m-96 38h0m153-40h0m-165 49h0m86-32h0m-26 34h0m-85-16h0m115 29h0m28-30h0m-128 43h0m109-60h0m13 51h0m-58-104h0m-16 49h0m-18 21h0m-12 14h0m146-48h0m-42 20h0m-24 12h0m36-18h0m-27-2h0m-25 24h0m42-48h0m-119 91h0m85 9h0m-69-46h0m80 48h0m-33-68h0m38 11h0m-72 26h0m-56-54h0m160 16h0m-83 26h0m71 5h0m-102-33h0m98 13h0m-82 31h0m87 40h0m-109-89h0m19 33h0m11 23h0m-108-4h0m100-38h0m59 14h0m-77 40h0m77-61h0m-18-19h0m-70 25h0m78 12h0m-56-45h0m-44 91h0m100-74h0m40 42h0m-78-36h0m76 29h0m24 1h0m-109-29h0m-5 26h0m46 11h0m10-51h0m-32 3h0m34-11h0m-52 14h0m-2 18h0m104 0h0m-144-1h0m106 26h0m-24 44h0m42-58h0m5-44h0m-67 14h0m17 77h0m-33-1h0m-26-5h0m-32-70h0m131 23h0m-42 3h0m2-5h0m-57-4h0m53-19h0m18 82h0m-103-71h0m66 18h0m19-23h0m-7 22h0m-2 47h0m10-92h0m-82 63h0m59-37h0m-49 10h0m62-12h0m-13 48h0m55-10h0m-46-59h0m46 88h0m24-10h0m-49-24h0m-14 26h0m-12 28h0m51-76h0m-38-39h0m-36 40h0m155-16h0m-74 27h0m-59 17h0m-83 10h0m191-20h0m-97-4h0m35-20h0m-26 30h0m-23-3h0m33 10h0m-64-38h0m27 53h0m33-88h0m-74 111h0m78-100h0m-60 44h0m113 46h0m-87-59h0m111-21h0m-17 40h0m-71 30h0m18-66h0m-97 26h0m99 42h0m-152-1h0m306-27h0m-127-85h0m30 31h0m137-49h0m-39-20h0m-177 49h0m259-34h0m-174-45h0m215 18h0m-251 30h0m176 8h0m-99-1h0m70-2h0m-56-1h0m-102 42h0m33-80h0m21 41h0m101-45h0m-168 49h0m133-38h0m-122 38h0m80-54h0m-59 94h0m-15-13h0m-38 13h0m252-64h0m-184 38h0m-45-2h0m198-9h0m-72-13h0"/>
<path transform="scale(.1)" stroke="#000" stroke-opacity="0.35" stroke-width="8" stroke-linecap="square" fill="none" d="M3169 507h0m5-38h0m-10 5h0m-31-14h0m22-10h0m-47-29h0m58 57h0m-12-49h0m22 23h0m-85 56h0m17 20h0m59-78h0m-84-7h0m111 59h0m-35-88h0m-19 41h0m24 4h0m-3-43h0m-29 89h0m-23-15h0m109-8h0m-107 17h0m-14-26h0m42 26h0m46-31h0m18 23h0m-66-56h0m86 16h0m-60 9h0m-26-43h0m10 43h0m33-12h0m-75-16h0m45 38h0m22-18h0m-5 15h0m33-6h0m-45 18h0m32-43h0m-50 19h0m-48 46h0m93-37h0m67 36h0m-39 8h0m-33-86h0m19 53h0m-80-10h0m57 26h0m-17-43h0m17-7h0m-24 44h0m-40-11h0m-15-38h0m21 24h0m57 2h0m6 4h0m-33 11h0m-1-10h0m37-20h0m4-16h0m-40-18h0m-9 96h0m25-9h0m-53-66h0m57 53h0m10-72h0m-9 46h0m-11 16h0m-12-63h0m-23 7h0m-7 38h0m76-17h0m-60-12h0m-28 35h0m36-9h0m-14 21h0m-7 2h0m16 7h0m-7-10h0m39-15h0m35 7h0m-74 15h0m2-36h0m24 21h0m50-56h0m-58 84h0m3-24h0m50-45h0m-44 59h0m-18-74h0m-12 57h0m35 47h0m33-98h0m-9 72h0m17-31h0m-63 8h0m61 14h0m5 5h0m-67-52h0m71-15h0m-64 35h0m-17-8h0m27 86h0m-2-84h0m6 42h0m-28-39h0m-27 32h0m71 24h0m-55 19h0m61-71h0m-37-1h0m-24 31h0m17-43h0m33 24h0m-32-10h0m3 46h0m43-60h0m-30 61h0m-7 12h0m21-33h0m-74 6h0m71-8h0m4-2h0m-29 11h0m17-56h0m-32 35h0m40-69h0m-70 95h0m60 52h0m-45-90h0m27 23h0m59 31h0m-71-11h0m-6-27h0m41 9h0m-28 21h0m21-40h0m-6-30h0m29 41h0m-8 44h0m-38-62h0m25 33h0m-5 2h0m18-78h0m-33-8h0m12 47h0m25 17h0m-19 32h0m19-73h0m-37 46h0m107 209h0m44-9h0m-5 25h0m-90-81h0m87 22h0m-35 18h0m86 0h0m-75-17h0m-18 66h0m6 29h0m64-23h0m4-45h0m-94 2h0m81-102h0m-63 181h0m56 17h0m8-87h0m-8 53h0m-16-72h0m12-8h0m70-30h0m-131-36h0m86 60h0m-30 13h0m4-84h0m-7 60h0m34 82h0m-79-109h0m62 148h0m6-92h0m12-151h0m-56 94h0m-16 106h0m44-20h0m-14 23h0m31-81h0m5-25h0m28-25h0m-69 15h0m11 164h0m-27 32h0m73-96h0m-67 36h0m-77-114h0m129 49h0m51-43h0m-128 31h0m64 132h0m-79-106h0m102-57h0m-58-37h0m41 140h0m-6-40h0m14-25h0m-9 64h0m19-21h0m-41 14h0m-55-170h0m107 130h0m-90-49h0m30 45h0m-20 63h0m-11 46h0m59-230h0m-64 120h0m51-33h0m-9 40h0m-39-7h0m116-48h0m-112 90h0m80 26h0m-67-77h0m28-9h0m7 89h0m5-76h0m-25 124h0m-36 15h0m68-132h0m-51 120h0m67-63h0m30-187h0m-68 103h0m-28 26h0m43 31h0m-23-127h0m24 133h0m53 22h0m-72-143h0m93 32h0m-87 99h0m11 40h0m-53-140h0m41-37h0m-27 181h0m32-103h0m-30 10h0m18-77h0m29-14h0m17 65h0m-123-84h0m88 47h0m53 156h0m10-34h0m-26-104h0m-2 12h0m-46-64h0m3 122h0m-4-105h0m34 140h0m-35-9h0m38-122h0m-36-61h0m-34 159h0m5-3h0m43-170h0m-29 248h0m17-96h0m-25-120h0m18 51h0m10-75h0m45 254h0m-75-97h0m-5 38h0m2-70h0m75 46h0m-57-142h0m-44 190h0m73-80h0m26 6h0m-69-17h0m22 6h0m90 41h0m-77-57h0m-33-52h0m-42 37h0m12-97h0m21-12h0m80 228h0m-81 56h0m57-319h0m-23 106h0m-61 52h0m101 49h0m-92-77h0m25 126h0m23-148h0m-29-70h0m3 201h0m-38-50h0m63 44h0m-36 7h0m-17-66h0m50 11h0m-27 51h0m117 45h0m-116-145h0m59 49h0m-52 78h0m45-15h0m-25 18h0m-10-168h0m16-20h0m44 149h0m-103-39h0m89-37h0m-15-16h0m-17 35h0m19-62h0m-56 91h0m21 13h0m1-128h0m43 111h0m0-43h0m-38 113h0m-47 33h0m77-126h0m-15 46h0"/>
<path transform="scale(.1)" stroke="#000" stroke-opacity="0.5" stroke-width="8" stroke-linecap="square" fill="none" d="M3306 462h0m-82 14h0m41-11h0m-21-10h0m-37-12h0m53 8h0m-5 30h0m19-96h0m-85 45h0m35 63h0m118 23h0m-51-36h0m-77 5h0m-79 12h0m96-10h0m-45-53h0m17 33h0m43-10h0m0 32h0m-66-24h0m-17-14h0m108-5h0m42 38h0m-43-13h0m-1 31h0m-33-50h0m-29 76h0m16-74h0m-23-38h0m9 62h0m1-34h0m39 38h0m-37-4h0m-24 17h0m0-37h0m49-3h0m-56 78h0m117-119h0m-62 15h0m9-2h0m12 58h0m49 21h0m-95-9h0m0-33h0m-2-51h0m49-8h0m-37 79h0m15-65h0m-34 70h0m77 29h0m-128-36h0m59 10h0m-53-28h0m105-16h0m-47-11h0m65-10h0m-89 31h0m26 76h0m26-92h0m14 37h0m-14-13h0m8-35h0m-73 24h0m4 35h0m134 17h0m-65-28h0m-50-51h0m54-6h0m-11 42h0m20 6h0m-28-20h0m-81 7h0m107 44h0m30-64h0m-102 53h0m21 58h0m34-127h0m-38 96h0m-56-44h0m19 45h0m41-82h0m-55 10h0m-37 7h0m208 18h0m-108-39h0m27 21h0m-52 58h0m56-71h0m46 26h0m-43 7h0m30 14h0m-67 3h0m-2-18h0m89-37h0m-118 21h0m24 53h0m-48 31h0m140-86h0m-62 3h0m22 32h0m3 3h0m52-29h0m-54-1h0m-29 13h0m-4 4h0m-35-16h0m10-31h0m-4 20h0m24-33h0m-4 14h0m-25 41h0m85 3h0m-71-23h0m81-37h0m-9 4h0m-78 48h0m18 51h0m32-53h0m20 2h0m-77 34h0m101 5h0m-118 20h0m34-36h0m71 50h0m-124-106h0m123 47h0m-66-106h0m33 85h0m-134 90h0m5-101h0m110 24h0m33-15h0m-73-3h0m-53-24h0m180 14h0m-91 80h0m50-55h0m-14-12h0m-72 39h0m46 19h0m-18-62h0m27 6h0m-29-22h0m25 38h0m70-11h0m-158 16h0m178-29h0m-136 9h0m-91-5h0m118-37h0m33 20h0m-107 4h0m110 83h0m27-54h0m-78-14h0m66-8h0m-25 46h0m-58-48h0m60 18h0m-25-17h0m2 75h0m63-109h0m-58 54h0m0-46h0m-8 48h0m-24 5h0m-78-57h0m112 59h0m-11-26h0m15 48h0m32-36h0m-61 35h0m45-5h0m-36-55h0m20 7h0m43 47h0m-147-6h0m155 12h0m-80-60h0m64 59h0m-40-68h0m-70 44h0m31-29h0m56 54h0m-111-54h0m148 20h0m-72 21h0m-35-58h0m51 87h0m44-49h0m0-13h0m-97-39h0m64 80h0m4-29h0m-34 35h0m16-79h0m63 25h0m-44 20h0m30 8h0m7-1h0m-74-23h0m49-10h0m12 18h0m-82-19h0m35 82h0m40-54h0m-74 59h0m28-60h0m-7 42h0m27-56h0m0-17h0m-55 26h0m-80 42h0m215-72h0m-94-14h0m14 56h0m25-49h0m-60 22h0m16 92h0m2-73h0m-13 26h0m135 11h0m-45-70h0m-21 35h0m8 32h0m-26-86h0m-23 37h0m14 17h0m26-51h0m-79 48h0m47-11h0m-15 15h0m47-6h0m-35-53h0m-127 11h0m132-26h0m2 69h0m-18-20h0m-19 49h0m35-27h0m-38 8h0m75-8h0m-69-36h0m20 8h0m-68 56h0m36-91h0m-4 122h0m27-100h0m-44 65h0m67-16h0m-27 8h0m77 0h0m-75-59h0m27 93h0m9-89h0m-21 81h0m-36-25h0m82 35h0m-124-106h0m87 77h0m-33-23h0m-2 39h0m-80-30h0m41-29h0m-11-8h0m67 30h0m80-8h0m-64 18h0m-4 35h0m-5-41h0m-11-5h0m3 31h0m3-29h0m-3 22h0m-19 6h0m-4-8h0m110-15h0m-89-44h0m37 37h0m7-21h0m-17 78h0m-5-67h0m-76 10h0m87 19h0m-79-51h0m7 0h0m31 40h0m97-2h0m-20-58h0m3 77h0m-48 1h0m7 34h0m9-115h0m-114 106h0m74-9h0m-11-63h0m0 31h0m23-30h0m16 39h0m-65-54h0m-46 25h0m87-12h0m-27 18h0m28 22h0m36-4h0m13-45h0m-23 43h0m-73-33h0m66 23h0m-76-19h0m124 44h0m-64 16h0m-44-48h0m83-6h0m-93 30h0m121-99h0m-64 40h0m-20-5h0m129 23h0m-114 0h0m-46 8h0m53 69h0m4-5h0m-60-48h0m28-52h0m185 42h0m-155-16h0m-37-9h0m72 20h0m-52 19h0m-49 1h0m47 7h0m-9-13h0m40 30h0m-54 0h0m-13-37h0m50 11h0m-117-36h0m103 60h0m-23 19h0m-49-46h0m104-1h0m-12 29h0m-48-11h0m83-26h0m-150-31h0m65 5h0m57 8h0m91 43h0m-168-27h0m126 31h0m-113 11h0m24 37h0m-4-51h0m50-33h0m-32 51h0m29-39h0m-2 57h0m21-40h0m-26-64h0m-9 34h0m27-4h0m-13-14h0m20 10h0m-41 41h0m-13-18h0m61 56h0m-127-85h0m110 59h0m-51-27h0m12 69h0m0-110h0m-60-2h0m127 28h0m29 32h0m-70 0h0m18 9h0m-78-47h0m19 21h0m13-42h0m-20 95h0m125-83h0m-77 26h0m-55 24h0m35 30h0m23-63h0m-138 7h0m156-20h0m1 45h0m-118-28h0m93 30h0m-7-24h0m-22-9h0m15-25h0m29 24h0m-6-6h0m-5 20h0m22 11h0m1-20h0m-43-3h0m-54 4h0m104 28h0m-86-15h0m71-52h0m-17 53h0m17-2h0m-110-72h0m165 52h0m-31 52h0m-53-76h0m57 35h0m-38 16h0m19 17h0m-105-76h0m69 44h0m29-4h0m-43 68h0m69-27h0m-15-62h0m-50 23h0m-45-25h0m56-11h0m17 53h0m-34-26h0m37 26h0m-11-54h0m-88 104h0m43-77h0m-52-13h0m48 50h0m-84-69h0m99 29h0m-16 1h0m-36 22h0m123-3h0m-77 35h0m46-72h0m-47 13h0m23 57h0m-29-43h0m36-32h0m-26 56h0m71-78h0m-19 50h0m26 29h0m31-10h0m-106-36h0m-46 43h0m87 9h0m-7-73h0m-34 39h0m25 32h0m56-15h0m-155-41h0m-3 8h0m42 32h0m43 27h0m58-49h0m-6 14h0m-22 42h0m-71-44h0m119-22h0m-58 28h0m-28-45h0m-13 10h0m79 39h0m-17-45h0m-9 42h0m25-28h0m-11 66h0m44-72h0m-130-17h0m93 65h0m-28-46h0m41 77h0m-58-54h0m55 20h0m7-29h0m-45 2h0m-40 2h0m12 25h0m0-14h0m-23-40h0m100 7h0m17 60h0m-183-49h0m83 21h0m11-20h0m64 15h0m-13-17h0m-74 63h0m19-76h0m4 67h0m1-55h0m35 53h0m-37-41h0m-7 95h0m8-30h0m1-42h0m-83-7h0m92-16h0m-20-33h0m-48 48h0m38-8h0m20-13h0m-24 74h0m-17-74h0m36-20h0m-30 63h0m84-23h0m103 22h0m-89-51h0m-7 78h0m-65 4h0m-19-92h0m34 10h0m30-10h0m-24-26h0m-5 94h0m-11-23h0m61-44h0m-105 37h0m68-11h0m-55 46h0m-9-46h0m50 31h0m-18-49h0m110 0h0m-54 21h0m-57 4h0m10 11h0m-102-11h0m116-29h0m-20 103h0m99-53h0m-72-30h0m52-4h0m-98 36h0m-7-47h0m107-25h0m-67 54h0m15-49h0m-22 35h0m96 41h0m-119-4h0m62-31h0m-40-5h0m-57-11h0m110 65h0m41-57h0m-55-63h0m-40 36h0m49-13h0m-83 18h0m64 60h0m-59 30h0m48-82h0m9 26h0m21 11h0m60 26h0m-125-12h0m62-56h0m-67 6h0m-76 45h0m100 18h0m-16-36h0m57 28h0m-18-62h0m84 59h0m-37 24h0m2-38h0m-42 7h0m-88 5h0m24-12h0m-2 9h0m24 56h0m30-62h0m-49-25h0m38 0h0m-17-18h0m53 15h0m-70 23h0m0-16h0m14-24h0m12 3h0m-45 37h0m42-57h0m-4 52h0m36 6h0m-7 7h0m-34-44h0m50 12h0m-27 33h0m41 18h0m-72-50h0m55-33h0m-80 64h0m28-48h0m63 46h0m5-27h0m-53-1h0m26-52h0m-44 85h0m-4-24h0m40 18h0m-27-51h0m132 13h0m-35-33h0m-71 49h0m79 70h0m-40-96h0m-79 9h0m13 31h0m-12-16h0m100 53h0m-148-75h0m66 70h0m2 19h0m31-14h0m-55-55h0m84 28h0m-128-27h0m90 29h0m-36 34h0m35-9h0m11-42h0m-32-39h0m53 60h0m3-36h0m-86 0h0m31 12h0m57-28h0m-65 49h0m61 48h0m-16-95h0m-69 2h0m49 32h0m-6-27h0m-6 17h0m35 5h0m-62-39h0m101 33h0m-73 2h0m57-9h0m-42 3h0m18-24h0m-16 63h0m43-13h0m-39 30h0m18-6h0"/>
<path transform="scale(.1)" stroke="#000" stroke-opacity="0.4" stroke-width="8" stroke-linecap="square" fill="none" d="M3163 476h0m98 28h0m-61-23h0m94-8h0m-67-7h0m-14 123h0m128-93h0m-169 72h0m8-115h0m59 24h0m-88 74h0m35-74h0m44 30h0m47 9h0m23 36h0m9-1h0m-84-19h0m-2-72h0m-59 78h0m-58-53h0m53 26h0m12 11h0m41-25h0m-32-59h0m45 31h0m-18 57h0m66 11h0m21-72h0m-39 101h0m-14-90h0m0 20h0m-51 53h0m23-74h0m-24 105h0m-9-44h0m50 17h0m-22-72h0m-18-3h0m159 42h0m-143 36h0m48-49h0m-2 15h0m25 47h0m-71-57h0m7 42h0m28-14h0m25-48h0m-38 68h0m39-19h0m-59-40h0m-28 3h0m39-39h0m60 22h0m-45 46h0m-39-81h0m74 75h0m-60 24h0m57-70h0m-48-28h0m-9 108h0m-28-20h0m-33-38h0m120 68h0m-24-32h0m62-109h0m-168 147h0m204-44h0m-117-11h0m-2-30h0m-2 17h0m33 27h0m16-3h0m-95 27h0m-83-43h0m146-22h0m75-19h0m-148 20h0m77 44h0m-15-4h0m-39-43h0m40-25h0m3 32h0m24-21h0m-59 15h0m8-15h0m5-12h0m39 69h0m-27-29h0m-42-26h0m32 2h0m-46 36h0m56-20h0m-39 12h0m6-12h0m43 38h0m28-44h0m21-19h0m-67 83h0m124-40h0m-133-17h0m-41 8h0m38-20h0m79-1h0m24 55h0m-51-49h0m-56-47h0m38 58h0m6-14h0m4-28h0m-129 67h0m158-122h0m10 94h0m-70-40h0m-41 76h0m13-25h0m28 68h0m51-112h0m-66 6h0m-44 16h0m120 25h0m-21-6h0m-53 7h0m17 62h0m91-52h0m-58-80h0m-35 148h0m-33-53h0m98-41h0m-70-2h0m49 16h0m34 39h0m-73 48h0m-14-109h0m3-9h0m-9 28h0m64-51h0m-111 27h0m53 41h0m-23 36h0m12-58h0m28 47h0m12-39h0m-40 5h0m45-18h0m-20-50h0m-25 102h0m94-42h0m-173 64h0m96 25h0m-11-53h0m-10 13h0m85-83h0m7 133h0m-73-138h0m24 27h0m-86-22h0m84-16h0m41 67h0m-61 33h0m-36-25h0m-21-34h0m96-7h0m-36 40h0m79 22h0m-51-53h0m-92 67h0m160-131h0m-49 72h0m-7 12h0m-44-11h0m8 40h0m-11-58h0m44 40h0m-11-12h0m50 28h0m-60-45h0m21-57h0m-57 40h0m34 11h0m110 38h0m-99 52h0m-20-88h0m60 39h0m-15 13h0m-62-63h0m-17 26h0m83-40h0m-74-9h0m122 72h0m-86-68h0m-60 19h0m51-21h0m-12 85h0m11-39h0m-101-12h0m93-15h0m-59 22h0m17-17h0m-27 16h0m120-26h0m-28-23h0m12 71h0m-46 11h0m-24-28h0m123-3h0m-135 40h0m80-48h0m-113-55h0m14 115h0m88-80h0m41 79h0m-96-34h0m-39-3h0m167-61h0m-85 26h0m-7 25h0m18 27h0m11 6h0m24 2h0m-81-24h0m15-43h0m111 39h0m-91-82h0m-14 98h0m2-45h0m80 8h0m-87 8h0m5 39h0m39-38h0m-45-6h0m99-2h0m-50-44h0m-16 78h0m45-13h0m-33 0h0m24 59h0m-42-98h0m19 24h0m2 30h0m-23-41h0m7-28h0m-1 13h0m8 34h0m-32-45h0m13 18h0m-9 47h0m52-68h0m-1 91h0m9-38h0m-58 50h0m-11-111h0m20 62h0m-54-52h0m144 46h0m-57-24h0m-110 14h0m137-17h0m-150 17h0m72 7h0m-36-12h0m23 41h0m34 0h0m-10-103h0m-91 91h0m135 12h0m-45-91h0m-20 75h0m89-26h0m-92-14h0m75 56h0m-136 11h0m43-91h0m-32 25h0m187 112h0m-170-110h0m67 37h0m-30-68h0m3 31h0m-66 28h0m15-64h0m143 91h0m-3-28h0m-89-7h0m-46 28h0m78-35h0m-102 6h0m167 54h0m-36-62h0m-35 31h0m3 17h0m-41-115h0m-84 48h0m49 54h0m118-23h0m-26 3h0m-17-19h0m-28 57h0m7-42h0m70 35h0m-76-25h0"/>
<path transform="scale(.1)" stroke="#000" stroke-opacity="0.25" stroke-width="8" stroke-linecap="square" fill="none" d="M2994 695h0m-18-170h0m116 156h0m45 37h0m5 18h0m-176 35h0m375-143h0m-396 100h0m219 26h0m62-192h0m-117 148h0m88-109h0m-123 42h0m-19 18h0m1-130h0m12 147h0m-35-290h0m-31 233h0m-18 181h0m180-144h0"/>
<rect x="287.1" y="29.3" width="54.9" height="54" fill="none" stroke="#000" stroke-width="1.5"/>
<path d="M315.3 29.3V83.3M287.1 58.4H342" stroke="#000" stroke-width="1.5"/>
<path d="M286.5 71.9h-1.5M286.5 61.4h-1.5M286.5 46.5h-1.5M286.5 34.7h-1.5M291.23 83.9v1.3M296.69 83.9v1.3M300.83 83.9v1.3M304.96 83.9v1.3M310.42 83.9v1.3M314.55 83.9v1.3M318.68 83.9v1.3M324.14 83.9v1.3M328.28 83.9v1.3M332.41 83.9v1.3M337.87 83.9v1.3" stroke="#000" stroke-width="1.1" stroke-opacity=".8"/>
<text x="289.5" y="36.8" font-size="7.8" style="stroke:#222;stroke-width:.08px;fill:#222">20</text>
<text x="340.8" y="36.8" font-size="7.8" text-anchor="end" style="stroke:#222;stroke-width:.08px;fill:#222">72</text>
<text x="289.5" y="81.6" font-size="7.8" style="stroke:#222;stroke-width:.08px;fill:#222">0.6</text>
<text x="340.8" y="81.6" font-size="7.8" text-anchor="end" style="stroke:#222;stroke-width:.08px;fill:#222">7.4</text>
<text x="373.05" y="22.9" font-size="10" text-anchor="middle" style="white-space:pre">day 10</text>
<path transform="scale(.1)" stroke="#000" stroke-opacity="0.33" stroke-width="8" stroke-linecap="square" fill="none" d="M3671 452h0m27 16h0m-87-33h0m-5 38h0m76-37h0m-62 18h0m-48 14h0m20 17h0m-88-2h0m36-54h0m110 32h0m-18-12h0m-53 4h0m45-2h0m-17 0h0m30-6h0m-105-30h0m93 55h0m45-17h0m-95-15h0m85 17h0m11 11h0m-57-35h0m-19 53h0m3-2h0m-46 6h0m200 2h0m-111-47h0m-39 12h0m32-28h0m-47 57h0m46-1h0m32-38h0m-100 32h0m63-7h0m-39 18h0m59 3h0m-38-9h0m13-33h0m-1-14h0m-4 37h0m39-25h0m-91 6h0m-34 2h0m212 16h0m-152-17h0m114-9h0m-85 21h0m-28-12h0m-43-3h0m135 45h0m-72-14h0m34-12h0m-27 22h0m32-29h0m-37 24h0m-16-33h0m15 4h0m69 17h0m-61-18h0m68 20h0m30 9h0m-104-29h0m-3 15h0m49 6h0m35-41h0m-70 3h0m-47 16h0m17-7h0m-40 42h0m55-4h0m-36-66h0m23 65h0m2-10h0m-24 20h0m69-7h0m-33 5h0m16-36h0m-32 11h0m-12-25h0m47 38h0m-19 3h0m85-42h0m-60 6h0m-41 23h0m-78 8h0m145-1h0m-9 25h0m-46-14h0m82-12h0m-146-13h0m68-29h0m10 47h0m-9-19h0m78-8h0m-109 13h0m94 11h0m-48-22h0m53 28h0m-134-11h0m-31 23h0m137-43h0m-86 7h0m-21 17h0m56-46h0m22 59h0m-56-31h0m139 11h0m-107 0h0m60-24h0m-39-13h0m-68 2h0m110 37h0m-5 18h0m-31-19h0m16 4h0m-66-15h0m41 7h0m-27-4h0m47 7h0m14 12h0m-2 3h0m13 9h0m-10-40h0m77 35h0m-49-8h0m-54-38h0m18 16h0m-38-36h0m88 20h0m-120 32h0m76-25h0m-26 21h0m7 6h0m28-18h0m-108 50h0m56-63h0m51 32h0m-62 35h0m-78-21h0m104-20h0m16-11h0m0-21h0m-32 63h0m-98-12h0m15-42h0m141 9h0m-66-22h0m21 26h0m-24-27h0m36 39h0m44 2h0m18 14h0m-197 9h0m123-54h0m25 40h0m-90-44h0m101 14h0m35 15h0m-91-31h0m52-8h0m-86 9h0m136 60h0m-87-42h0m42 33h0m-69 19h0m28-21h0m-98-24h0m75 41h0m22-66h0m98 12h0m-88-11h0m31 29h0m-44-12h0m-13-6h0m-38 38h0m104-52h0m-93 36h0m155-12h0m-116-1h0m25 1h0m38 24h0m-24 12h0m-36-43h0m145-28h0m-205-8h0m87 26h0m32-21h0m-54 34h0m-43 30h0m31-13h0m-6-6h0m4-2h0m15-15h0m25 10h0m-64-17h0m64 48h0m-79-35h0m79 29h0m12-45h0m-30 42h0m9-23h0m-64 8h0m50-2h0m71 23h0m-104-19h0m22-3h0m88 16h0m-72-31h0m-9 20h0m-16 15h0m24-46h0m91-34h0m-104 56h0m57 24h0m21 9h0m-52-29h0m32-3h0m-103-8h0m87 21h0m-80 12h0m64-54h0m7 50h0m3-26h0m-60 28h0m46-22h0m-28-21h0m-67 14h0m135 22h0m-81 16h0m21-51h0m54 48h0m-62-53h0m15-24h0m5 80h0m10-46h0m20 5h0m25 3h0m35 0h0m-83-12h0m-67 26h0m74-27h0m9 12h0m-50 7h0m43 16h0m38-7h0m-89-22h0m50-10h0m-25 16h0m4 12h0m51 29h0m-7-13h0m-88 1h0m107-48h0m55 16h0m-222 46h0m111-51h0m-29 37h0m38-29h0m40-11h0m-90 8h0m4 25h0m24-35h0m-11-19h0m28 42h0m21-7h0m-10-14h0m-17 22h0m-56 9h0m61-11h0m-28 39h0m22-55h0m-38 27h0m29-28h0m-24 35h0m37 2h0m-5-45h0m40 30h0m-69-12h0m-14 23h0m25-7h0m31-15h0m5 0h0m-70-3h0m0 23h0m82-27h0m-1 17h0m16-24h0m-43-1h0m-32 47h0m-60-45h0m113 34h0m-57-57h0m-42 48h0m127 11h0m-83 9h0m25-15h0m-1 20h0m-14-75h0m9 47h0"/>
<path transform="scale(.1)" stroke="#000" stroke-opacity="0.55" stroke-width="8" stroke-linecap="square" fill="none" d="M3830 466h0m-26-16h0m0 46h0m24 59h0m-112-42h0m122-64h0m-18 44h0m-54 27h0m145-1h0m-56 14h0m-45-3h0m-34-30h0m75 43h0m-49-61h0m37 8h0m-16 33h0m-45 3h0m57-43h0m-81-14h0m60 60h0m-96-9h0m108-70h0m33 58h0m-21-52h0m-77 71h0m125-20h0m-80-31h0m-75 54h0m80 10h0m-31-7h0m0-18h0m104-49h0m-23 27h0m-92 8h0m79-35h0m-45 6h0m-25 13h0m79-11h0m21 5h0m-96 54h0m104-65h0m-41-19h0m-49 30h0m55-33h0m-60 21h0m30-20h0m-71 152h0m77-163h0m30 7h0m-134 113h0m155-95h0m-116 50h0m142 5h0m-134-47h0m49 17h0m-34 24h0m-5-39h0m-47-29h0m62 61h0m116-4h0m-148 2h0m76-5h0m76-3h0m-124 39h0m-7-51h0m-11-31h0m65 41h0m-29 19h0m-2 9h0m98-13h0m-102 49h0m48-124h0m31 70h0m-24-51h0m-84 19h0m69-18h0m-62 78h0m3-32h0m-12-68h0m40 59h0m-67 41h0m111-3h0m-65-76h0m21 49h0m-5-28h0m-40-6h0m45 10h0m86 8h0m-60-7h0m-31-19h0m-15-20h0m-78 106h0m50-34h0m46-37h0m42 0h0m-15 7h0m27 50h0m-45 5h0m22 17h0m-31-116h0m16 67h0m-28-17h0m5-39h0m97 18h0m-137-30h0m12 58h0m113 23h0m-108-68h0m-19 43h0m97-15h0m36 90h0m-70-153h0m45 77h0m-20 41h0m-82-35h0m58-30h0m25 23h0m-54 75h0m28-9h0m-16-22h0m-29-34h0m90-86h0m-27 71h0m27 17h0m-57-55h0m94 20h0m-94 66h0m50-23h0m-46-48h0m25 76h0m32-76h0m-16 59h0m-29 43h0m-59-49h0m77-42h0m-163 56h0m111 10h0m-5-72h0m-9-1h0m67-13h0m-41-7h0m-6 13h0m44 65h0m-32-23h0m11-52h0m-84 53h0m101 1h0m-27-19h0m43-22h0m57 17h0m-135 35h0m-40 7h0m0-12h0m161-18h0m-165-1h0m16 7h0m-37 41h0m168-47h0m-87-2h0m-83-29h0m109 101h0m-6-6h0m-11-10h0m15-60h0m31-29h0m-31 72h0m-79-54h0m85 34h0m0 41h0m-78-17h0m63-73h0m-17 25h0m-32-24h0m62 91h0m80 22h0m-194-103h0m91 2h0m9-29h0m-47 92h0m60-97h0m21 154h0m19-119h0m50-32h0m-81 81h0m-42-26h0m34 60h0m62-55h0m-134 27h0m63 10h0m5-36h0m29-34h0m-64 112h0m-10-50h0m76-5h0m33-80h0m-20-27h0m-44 89h0m48 28h0m-96-50h0m38-16h0m-32 1h0m95 75h0m-19 12h0m-32-103h0m-36 48h0m81 38h0m-93-10h0m17-13h0m71 33h0m-70-46h0m46-25h0m-16 38h0m-85-46h0m170 41h0m-63-52h0m-46 42h0m12 70h0m-15 3h0m79-154h0m-23 105h0m-11-59h0m-22 36h0m-62-18h0m71 39h0m-30-46h0m44-58h0m-46 85h0m-15-24h0m100 51h0m-99-48h0m38 72h0m39-79h0m-70 4h0m-34 25h0m41 38h0m9-52h0m52 30h0m0 11h0m-96-67h0m109-5h0m-48 15h0m77-44h0m-159 24h0m28 26h0m82 50h0m-51-103h0m67 38h0m-2 16h0m7 17h0m-135-22h0m84 26h0m-7-33h0m45-15h0m1 74h0m-35-62h0m11 23h0m24 45h0m-70-87h0m60 34h0m30 25h0m-90 18h0m-52 17h0m65 9h0m-20-70h0m70-2h0m-43 39h0m-13-80h0m6 70h0m-20-33h0m-32 2h0m84 17h0m27-69h0m-12 83h0m-115 18h0m40 57h0m136-44h0m-27-27h0m15-29h0m-39-7h0m56-5h0m-81-61h0m-4 121h0m-3-86h0m38 29h0m-75 27h0m13 70h0m8 4h0m29-128h0m-22 49h0m70 46h0m27-73h0m-46 9h0m-124 77h0m106-113h0m-37 70h0m21 9h0m7 19h0m-37-22h0m48-49h0m-27 25h0m-19-3h0m1 0h0m-57 13h0m34-17h0m105-80h0m-26 6h0m2 75h0m-97-5h0m57-11h0m1 63h0m-155-73h0m145 35h0m-76 47h0m128-24h0m-127-69h0m45 89h0m124-76h0m-130 77h0m29-104h0m-13 24h0m12-2h0m13 52h0m-32-25h0m21 39h0m-28-3h0m96-35h0m-108-5h0m-40-9h0m29 15h0m40 26h0m24-4h0m-8-5h0m-53 14h0m119 17h0m-130-26h0m-14 13h0m70-46h0m-26 8h0m36-28h0m3 47h0m23-12h0m-26 90h0m50-76h0m-118 12h0m96-125h0m-36 116h0m10-11h0m-9 49h0m26-64h0m-30 90h0m-31-99h0m58 26h0m-1 45h0m41-35h0m-54-18h0m-13 40h0m-51-77h0m40 2h0m-14 82h0m-74-23h0m46-31h0m36-29h0m-45 41h0m-72-84h0m126 123h0m111-53h0m-131 0h0m62 47h0m-70-18h0m46 25h0m-19-51h0m-22-42h0m56 77h0m42-17h0m-78-45h0m-35 8h0m74 30h0m-130-7h0m99-36h0m13 60h0m-50-71h0m35 61h0m4 49h0m20-97h0m31 13h0m-5 29h0m27-42h0m-25 54h0m-80 11h0m137-13h0m-93-4h0m-104-48h0m86-36h0m71 34h0m-12 52h0m-85-31h0m49 33h0m45-56h0m-66 83h0m36-56h0m-44-5h0m99-18h0m-27 26h0m-91 10h0m-30 78h0m160-99h0m-159 27h0m117-26h0m34-11h0m-88 68h0m-1-56h0m10 46h0m87 27h0m7-53h0m-176-1h0m62-36h0m-5 35h0m28 38h0m-48 9h0m48-16h0m60-75h0m17 20h0m-59 68h0m26-100h0m-38 102h0m-14-46h0m9 65h0m-30-98h0m-28 16h0m43 33h0m8-78h0m-75 91h0m115-78h0m10-40h0m47 114h0m-79-83h0m40 90h0m15 4h0m-95-2h0m13 38h0m-14-94h0m25 1h0m24-25h0m-15-3h0m70 47h0m-142 16h0m28-24h0m6 77h0m85-154h0m-77 49h0m-39 77h0m-9-109h0m70 36h0m-2 48h0m13-50h0m-23 47h0m-94-6h0m93 60h0m18-118h0m-35 40h0m1-29h0m89 36h0m-125 74h0m34-89h0m15 6h0m56 91h0m-127-57h0m100 26h0m-5 26h0m-48-90h0m15 39h0m45 39h0m-28-39h0m-32 10h0m90-30h0m-159 61h0m100-99h0m-19 57h0m61 19h0m-47-49h0m-16 17h0m-6-24h0m-7-36h0m3 78h0m71-9h0m-95-60h0m153 127h0m-47-98h0m-113 5h0m49 46h0m13-75h0m-49 62h0m101 10h0m-50-7h0m-69-31h0m19 2h0m33-28h0m59 32h0m31 6h0m-82-38h0m-20 56h0m41 46h0m22-90h0m-77 6h0m106 62h0m-205-68h0m241-21h0m-93 62h0m11-35h0m-21-5h0m7 10h0m91 52h0m-140-44h0m140-8h0m-74 71h0m-54-31h0m28-3h0m1 4h0m51 43h0m-84-38h0m74-87h0m40 131h0m19-108h0m-132 93h0m37-70h0m-48 48h0m-61-66h0m141-45h0m21 66h0m-42 3h0m3-15h0m-60 16h0m118 24h0m-56-50h0m-5 91h0m-12-66h0m-33 86h0m35-54h0m-92-7h0m117-59h0m-24 27h0m50 23h0m-62-31h0m112 36h0m-87-8h0m10-4h0m-32 41h0m-8-75h0m-22 23h0m24-6h0m20 8h0m31-11h0m-60 4h0m-7 18h0m-18-61h0m131-34h0m-137 98h0m36 12h0m-109-30h0m212 27h0m-108 24h0m22 14h0m-35-59h0m38 0h0m94 47h0m-45-29h0m-51-28h0m38-2h0m21 1h0m-110-17h0m108 51h0m-50-91h0m-7 10h0m43 85h0m-50-29h0m16-17h0m-38 6h0m100 92h0m-123-122h0m8 12h0m64 20h0m-38 28h0m-16-40h0m73 9h0m-45 97h0m3-124h0m-47 84h0m105 5h0m-35 19h0m86-30h0m-92-44h0m53 77h0m-43-100h0m4-19h0m-20 106h0m-25-47h0m71-60h0m-45 89h0m-22-73h0m17 79h0m24-51h0m-22 49h0m101-55h0m-117-5h0m24 36h0m-166-20h0m206-8h0m14-27h0m35 72h0m-116 67h0m92-44h0m-132-64h0m84 44h0m-20-88h0m57 42h0m-39-6h0m-28-39h0m40 28h0m-123 39h0m87 21h0m43-82h0m-50 45h0m13-39h0m0 76h0m58 18h0m-24-149h0m-52 74h0m-132 78h0m192-58h0m-28 19h0m-29 33h0m103-21h0m-120-21h0m77 18h0m-83 8h0m70-14h0m-57-23h0m-75 0h0m74-10h0m8-1h0m18 16h0m-35-9h0m26 24h0m27-32h0m-63-48h0m-22 77h0m17 45h0m38-75h0m0-6h0m-24 23h0m-41 2h0m68-39h0m57 48h0m2-39h0m-116-19h0m-17-27h0m158 54h0m-69-3h0m-17 80h0m-80-97h0m94 3h0m28 83h0m10-20h0m-53 9h0m-32-82h0m27 35h0m74-28h0m-4 8h0m-120-34h0m61 9h0m13 56h0m-31-74h0m-6 89h0m-63 9h0m90-46h0m9 45h0m-11-54h0m40 4h0m-21 62h0m48 23h0m-15-54h0m-61 1h0m36 105h0m7-143h0m43-28h0m-26 11h0m-105 29h0m41-31h0m45 46h0m36-34h0m-158 64h0m80 11h0m-106-84h0m122 121h0m-67-145h0m39 124h0m102-104h0m-110-18h0m-11 33h0m63 79h0m78-56h0m-111 40h0m29-47h0m-14-5h0m-75 111h0m119-50h0m-60 27h0m82-40h0m-75 72h0m-29-45h0m125-34h0m-19-48h0m6 55h0m-102-6h0m82-53h0m-68 48h0m1-23h0m11 23h0m38 44h0m-55 55h0m0-44h0m10-121h0m-16 41h0m76-63h0m-86 71h0m65 20h0m10-21h0m-55 52h0m98-32h0m-78-46h0m80 47h0m-85-41h0m66 11h0m21 36h0m-48 52h0m-100-104h0m92 36h0m-32-11h0m5 20h0m-31-24h0m36-31h0m10-41h0m10 78h0m-91 55h0m1 27h0m22-32h0m33 15h0m-8-22h0m-5-109h0m36 88h0m0 45h0m-57-117h0m50 28h0m-18 26h0m-36 41h0m35 27h0m19-28h0m-27-65h0m-12-8h0m49 38h0m-77-63h0m11-11h0m-1 12h0m79 14h0m-64 39h0m31 20h0m36 8h0m-55 23h0m36-74h0m56-17h0m-51 91h0m-18-34h0m0 12h0m5-25h0m24-71h0m-22 60h0m85 22h0m-130 14h0m13-70h0m5 64h0m73 21h0m-47-46h0m-2 52h0m-16-2h0m-33-44h0m78 27h0m-29-46h0m-99 3h0m47 1h0m120-14h0m-36 28h0m-96 5h0m91-49h0m-94 31h0m93-8h0m-15 39h0m-20 0h0m62-24h0m-47-33h0m-51 36h0m75-21h0m-108 60h0m161-132h0m-176 130h0m53-21h0m-12-8h0m38 61h0m-37-22h0m33-25h0m25-82h0m-36 14h0m46 90h0m17-98h0m-103 29h0m67 40h0m-3-17h0m-6 44h0m-23-94h0m101-9h0m-82 93h0m37-4h0m59 34h0m-108-57h0m49-16h0m-28-11h0m-8 46h0m-36-27h0m-31-19h0m75 46h0m-54-24h0m5 16h0m58 5h0m-23-70h0m-17 3h0m-6 48h0m86-22h0m-91 32h0m-63 67h0m26-37h0m123-2h0m-53-9h0m-12 9h0m-15-67h0m51 14h0m14-15h0m-20-5h0m-18 118h0m-47-127h0m-26 38h0m157-9h0m-34 10h0m-76 82h0m84-144h0m-100 84h0m79-23h0m-17 28h0m-32 17h0m-24-9h0m86-20h0m-62-9h0m-91 11h0m39-85h0m106 41h0m-20 36h0m-102-36h0m72 52h0m17-65h0m-30 51h0m-36-20h0m36-63h0m110 112h0m-106 2h0m-29 22h0m33-52h0m-10-2h0m44-2h0m-56 27h0m67-28h0m24-28h0m11 22h0m12-11h0m-86 25h0m65 46h0m-75-81h0m59 73h0m-3-58h0m28 11h0m-54 24h0m-35-108h0m38 112h0m10-7h0m-13 19h0m-2 17h0m-3-26h0m-30-19h0m48-6h0m54-3h0m-21 11h0m-1-47h0m-71 70h0"/>
<path transform="scale(.1)" stroke="#000" stroke-opacity="0.62" stroke-width="8" stroke-linecap="square" fill="none" d="M3859 642h0m29-20h0m-3 34h0m-14-12h0m-5-85h0m-22 34h0m-3 13h0m39-110h0m-3 136h0m-8-119h0m5 130h0m21 151h0m-59-157h0m49-97h0m-2 269h0m-5-71h0m20-179h0m-69 158h0m78-287h0m-35 104h0m8 75h0m19-64h0m16-110h0m-41 230h0m20-96h0m-57 55h0m54-222h0m-25 256h0m-39-74h0m17-113h0m40 244h0m16-177h0m-14-110h0m-40 229h0m22-155h0m-30 78h0m72-176h0m-46 86h0m21 54h0m-25 75h0m27-165h0m-1 151h0m8 102h0m-15-195h0m21 155h0m-41-134h0m14 162h0m7 90h0m-28-75h0m10-129h0m8 168h0m37-315h0m-22 233h0m2-26h0m-36 66h0m49-171h0m-12 144h0m-1-13h0m-33-117h0m30 124h0m16-157h0m-39 34h0m4 213h0m41-147h0m-1-53h0m-24 47h0m-2-70h0m-30 130h0m19-141h0m-11-129h0m-2 222h0m4-207h0m-2-24h0m29-35h0m-10 396h0m3-102h0m-31 155h0m23-120h0m34-209h0m-52 275h0m26-143h0m14 29h0m-15 163h0m-41-134h0m19-57h0m17 19h0m-47 43h0m89-110h0m-76 108h0m41-37h0m-2 10h0m-4-198h0m9 156h0m-18-168h0m15 207h0m33-59h0m-25 49h0m-19-78h0m-4 73h0m31 41h0m-59-114h0m59 53h0m4 53h0m-14 22h0m20-105h0m-44-91h0m24 264h0m-1-153h0m1-70h0m-1 217h0m-1-188h0m0 160h0m-1 3h0m-2-115h0m-18 30h0m27 86h0m8-152h0m-52-19h0m65-146h0m-42 256h0m32-122h0m-16 30h0m-6-11h0m4 86h0m-21 42h0m-13-276h0m2 253h0m8-4h0m17-42h0m-1 150h0m11-305h0m-30 182h0m26 32h0m22-71h0m-49 72h0m3-66h0m-1 48h0m55-177h0m-42 232h0m22-20h0m7-79h0m-26-4h0m17 92h0m-32-82h0m36 16h0m-24 8h0m-6-79h0m-20 10h0m57 42h0m-54-172h0m14-16h0m7 116h0m22-94h0m-62 174h0m83 47h0m-71-113h0m48 149h0m-6-99h0m8-22h0m-24 41h0m33-71h0m-13-14h0m-25 80h0m-13-101h0m3 25h0m38 66h0m-41-240h0m37 171h0m13 24h0m-49-24h0m-5-76h0m47 86h0m-1-3h0m-19 1h0m-7-10h0m43 59h0m-72 171h0m67-56h0m-28-125h0m-8 27h0m20-12h0m-27-94h0m52 259h0m-61-227h0m25 120h0m-2-34h0m10 88h0m-34-5h0m36-54h0m-41-75h0m26 85h0m20 4h0m-41 56h0m28-32h0m-1-159h0m26 132h0m-33 11h0m-7-58h0m24-220h0m-15 105h0m31-100h0m-13 334h0m-7-234h0m-7 15h0m24 130h0m-2 3h0m-4-155h0m-18 174h0m-22-112h0m34 8h0m-33 58h0m12 22h0m-10 39h0m26-1h0m-55-123h0m30 50h0m44 16h0m-31 15h0m-23-19h0m9 109h0m15-158h0m29 64h0m-45-115h0m24 169h0m-7-189h0m-11 85h0m-2-70h0m52 86h0m-15-281h0m11 223h0m-47 71h0m10-116h0m1 145h0m-21-142h0m27 40h0m7 194h0m22 15h0m-3-214h0m-29 190h0m4-220h0m-19-17h0m48 15h0m-44-16h0m35 23h0m-29 7h0m28 160h0m-13 129h0m-15-153h0m-9-97h0m45 36h0m-14 56h0m4 24h0m-37-90h0m7-81h0m24-41h0m-15 325h0m17-174h0m17 30h0m3-299h0m3 372h0m-6-97h0m-26-115h0m22-14h0m-45 110h0m22 33h0m-30-65h0m35 145h0m6-73h0m-22-91h0m-5 42h0m22-39h0m15-46h0m-32 241h0m36-34h0m-19-101h0m4 44h0m19-125h0m-52 230h0m44-154h0m-32 17h0m33-96h0m3 67h0m-38-32h0m-36 68h0m16-83h0m9 75h0m34-19h0m-11 35h0m29 16h0m-1-60h0m-25-56h0m5-19h0m-3 21h0m-17 175h0m11-41h0m-8-251h0m35 159h0m-44 107h0m-10-160h0m48 5h0m-1 37h0m-28 35h0m-6 95h0m34-95h0m-11 45h0m23-201h0m-14 236h0m-28-85h0m-1 115h0m-16-59h0m50-3h0m-36-98h0m-35-53h0m68 7h0m-58 66h0m3 67h0m13 46h0m16-223h0m-14 73h0m-1 177h0m-3-82h0m8 21h0m-17-203h0m40 282h0m-39-164h0m18-58h0m31 92h0m-49-25h0m57-46h0m-39-11h0m14 25h0m15-26h0m-49 121h0m-36-132h0m73 113h0m-18-65h0m-5 25h0m7 69h0m10 0h0m34-78h0m-40 61h0m45-69h0m-21-61h0m5 83h0m-26 15h0m-11-39h0m25-14h0m3-12h0m-2-88h0m13 95h0m-35 113h0m11-14h0m-7 37h0m7-94h0m-26 9h0m43 131h0m-9 30h0m12 21h0m-25-139h0m12 14h0m4 9h0m8-82h0m-48 122h0m36-85h0m5-84h0m-7 122h0m-8-332h0m-25 369h0m13-78h0m6 68h0m8 94h0m17-125h0m-18-79h0m29-5h0m-36-22h0m20 237h0m-8-187h0m2-58h0m19 124h0m8 45h0m-23-176h0m5 163h0m-15-123h0m-3-21h0m-6 91h0m32 18h0m-37 149h0m42-300h0m-58 80h0m18 109h0m-9-129h0m-18 98h0m73-78h0m-23-55h0m2 98h0m-49-32h0m31-221h0m8 138h0m20 122h0m-43 138h0m42-246h0m-17-90h0m-28 146h0m59-39h0m-92-75h0m77 265h0m-39-165h0m37 121h0m-10-140h0m28-129h0m-60 138h0m18 80h0m33-251h0m-53 209h0m46 39h0m-79-195h0m86 213h0m9 19h0m-47-210h0m16 240h0m-18-78h0m6-7h0m-9-279h0m-5 231h0m8 21h0m10-148h0m18 212h0m7 49h0m16-89h0m-32-75h0m-40 27h0m73-47h0m-21 206h0m-31-104h0m-36 30h0m80-37h0m-74-73h0m26 66h0m22-51h0m-13-38h0m19 97h0m-5-67h0m3 19h0m-4 14h0m-20-90h0m-25-26h0m4 53h0m31-34h0m13 312h0m-68-312h0m85 0h0m-28 51h0m18-79h0m-9 161h0m5 20h0m-9-212h0m-10 80h0m18 68h0m-8 129h0m-5 56h0m20-305h0m-30 260h0m1-2h0m-1-127h0m34-140h0m-20 108h0m2 208h0m6-295h0m10 87h0m-17 155h0m-10-19h0m11-180h0m-11-43h0m32 146h0m-5-123h0m-2-8h0m-12 114h0m-18 31h0m13-113h0m-17-43h0m45 141h0m-37 52h0m-10-179h0m25 265h0m-1-138h0m31-164h0m-8 43h0m-52 55h0m-26-1h0m71 30h0m-14 141h0m-42-35h0m60-149h0m-3 126h0m-5 29h0m-5-226h0m-25 148h0m51-97h0m-46 87h0m-2-93h0m-7 150h0m14-5h0m-13-152h0m-17 168h0m20-71h0m9 128h0m-12-250h0m14 29h0m4-38h0m-3 184h0m-29-190h0m66 82h0m-25-64h0m-11 204h0m10-145h0m-37 74h0m36-8h0m2 165h0m-10-212h0m17 197h0m-55-260h0m35 60h0m5-112h0m32 219h0m-61-35h0m-1-71h0m64 123h0m-47-86h0m-5 6h0m-16 67h0m30-125h0m-9 13h0m-3-2h0m39 114h0m-18-30h0m-33-271h0m56 305h0m-27-43h0m-1-25h0m-9-219h0m17 222h0m9 25h0m-27 29h0m10-102h0m-12 2h0m2-2h0m4 152h0m-8-124h0m-6-117h0m-2 82h0m21 17h0m-28-3h0m57-50h0m-31 184h0m-18-153h0m50 175h0m-25-76h0m30-23h0m-85-115h0m50-39h0m-10 279h0m12-210h0m-2 166h0m-39-224h0m22 79h0m12-13h0m4 65h0m-26-70h0m-2 89h0m31 36h0m-23-116h0m-29 53h0m13 33h0m57 9h0m-10-21h0m-5 69h0m19 105h0m-33-115h0m24-40h0m-12-164h0m17 37h0m-37 3h0m26-11h0m-2 149h0m-8-88h0m10 160h0m-22-229h0m-3 17h0m8 70h0m-43 157h0m31-184h0m-24-149h0m20 213h0m39-198h0m-13 323h0m-11-58h0m13-179h0m14 31h0m-14 20h0m-12 54h0m33-178h0m-51 173h0m43-28h0m-24 69h0m37-139h0m-66 61h0m49-101h0m8 219h0m-7-173h0m-44 146h0m32 3h0m-33-354h0m51 384h0m-29-98h0m15 73h0m-13-122h0m-16 149h0m27-154h0m-34 5h0m0 6h0m16 93h0m-10-225h0m8 43h0m29 113h0m-51-65h0m34 81h0m-38-9h0m45 109h0m17-108h0m-50-24h0m41-53h0m12-4h0m-50 173h0m22-49h0m-4-28h0m-6 180h0m26-195h0m-4 93h0m-21-64h0m15-72h0m-20 35h0m10-20h0m-35 47h0m55 0h0m22 76h0m-43-148h0m17 29h0m-44 48h0m28-34h0m19 41h0m22-91h0m-7 114h0m-14 158h0m18-285h0m-26-86h0m4 86h0m-11 69h0m-7-86h0m45 85h0m-68 63h0m6-117h0m40 75h0m-17 152h0m28-227h0m-24-71h0m8 203h0m-41-143h0m3 157h0m19 0h0m20 15h0m-20-113h0m11 17h0m-4-86h0m18 61h0m16 56h0m-60 103h0m17-221h0m-6-35h0m10 186h0m-9-165h0m28 125h0m-20 0h0m-13-33h0m11 175h0m9-197h0m-53-142h0m6-1h0m50 250h0m-9-5h0m16 0h0m-47-66h0m39-27h0m2-114h0m-3 154h0m7-53h0m-7 126h0m15-316h0m20 133h0m-22 5h0m1 118h0m-7 13h0m5 28h0m5-40h0m-7-85h0m-51 48h0m75 27h0m-39-23h0m34-106h0m2 265h0m-41-204h0m42 82h0m-35-92h0m30 90h0m-34 58h0m25-181h0m6 200h0m-29-232h0m28 94h0m-27 6h0m-2 107h0m-17-29h0m47 50h0m-9-75h0m-19-37h0m-14 171h0m16-256h0m19 240h0m-11-174h0m-29 92h0m18-125h0m18-60h0m2-109h0m-28 96h0m8 212h0m-22 54h0m13-176h0m35-23h0m9 50h0m-32-73h0m26 86h0m-34-84h0m-3 81h0m-2 85h0m14-135h0m11 195h0m-53-102h0m66-21h0m-6-159h0m-32 242h0m13-90h0m15 29h0m-3-82h0m-16 172h0m-4-262h0m3 222h0m44-71h0m-49 44h0m19 54h0m4-40h0m0-32h0m-29-55h0m51 142h0m-13-89h0m-22-5h0m-4 70h0m0-175h0m-27 220h0m18-229h0m24 252h0m5-202h0m-2-47h0m-17 81h0m6 71h0m10 105h0m7-206h0m-12-53h0m-18 48h0m33-33h0m-52-31h0m7 79h0m18-93h0m-10 71h0m25 97h0m19-82h0m-15 31h0m-35-67h0m61 45h0m-18-253h0m-22 21h0m-21 343h0m7-260h0m7-17h0m-12 333h0m-24-298h0m31 270h0m36-254h0m-27 77h0m14 126h0m-13-94h0m-3-22h0m12 119h0m-38-124h0m46 24h0m22 125h0m-76-221h0m38 68h0m-8 106h0m-6-29h0m45-188h0m-9 140h0m16-149h0m-38 77h0m-23-29h0m12 220h0m23-65h0m-5-113h0m-12-19h0m3 21h0m31 157h0m-28-9h0m-23-41h0m49-125h0m-46 140h0m12-73h0m0 161h0m35-180h0m-22-18h0m-8 87h0m5-89h0m14-71h0m-11 14h0m-4 154h0m-3-36h0m-33-12h0m50 104h0m-26-98h0m21 146h0m-3-80h0m2-80h0m-27-17h0m35 61h0m-18-31h0m19-5h0m-47 220h0m37-158h0m-25-26h0m6 105h0m33-152h0m-1 58h0m-7-111h0m2 113h0m-12 64h0m-16 44h0m12-166h0m25 177h0m2-271h0m-12 262h0m14-70h0m-21 120h0m6-281h0m-21-145h0m32 148h0m-39 27h0m10 13h0m-4 61h0m35 70h0m-39-50h0m30-57h0m-41-2h0m26-183h0m-16 420h0m51-337h0m-32 163h0m23 48h0m-6-48h0m-43 93h0m53-82h0m-15-68h0m-45 116h0m14 88h0m29-184h0m-27 12h0m-8-45h0m53 7h0m5 19h0m-29-79h0m-14 46h0m-22 226h0m40-192h0m-34 11h0m0-95h0m18 297h0m-32-152h0m25-329h0m-18 263h0m30-59h0m35 123h0m-49-207h0m16 92h0m18-35h0m3 55h0m-20 18h0m8 135h0m-23-195h0m49 177h0m1 0h0m-36 65h0m-17-197h0m6 106h0m-10-82h0m1-5h0m40 128h0m-38-62h0m5-255h0m-14 329h0m21-92h0m28-23h0m-38-61h0m-6 111h0m9-4h0m-21-90h0m66 76h0m-51-24h0m5-101h0m-9 40h0m10 48h0m31-10h0m-42 181h0m10 1h0m1-147h0m-6-60h0m37-7h0m-11-95h0m-15 189h0m-8-82h0m13-102h0m6 304h0m17-193h0m-1 2h0m0 33h0m-51 167h0m-25-215h0m64 120h0m-4-81h0m-8-28h0m5 130h0m10-140h0m19 39h0m-37-56h0m42-36h0m-2 15h0m-67 28h0m52 146h0m-33-29h0m9-34h0m16-196h0m12 165h0m1 11h0m-37 93h0m8 105h0m21-212h0m-13 160h0m-34-21h0m24-97h0m-4-34h0m24 87h0m-28-130h0m24 141h0m-34-71h0m17-87h0m14 51h0m1-153h0m2 224h0m-28 138h0m-11-129h0m33-68h0m0 127h0m-45-76h0m54-199h0m13 128h0m-9 59h0m0 55h0m-27-110h0m30 55h0m-36-126h0m-14 97h0m18-174h0m0 180h0m15-52h0m0 84h0m-28-141h0m44 149h0m-49-140h0m59 141h0m-33 26h0m32 37h0m-57-259h0m18 120h0m3 28h0m38 81h0m-10-105h0m13 44h0m-29-46h0m-43 208h0m38-120h0m34-104h0m-52-138h0m17 161h0m-22 104h0m45-133h0m-39 76h0m14-65h0m43-116h0m-22 132h0m4 133h0m-4-228h0m-4 67h0m-7 118h0m-20-73h0m44-99h0m-35 149h0m0 28h0m-17-241h0m29 130h0m-1 105h0m15-125h0m-30-151h0m-12 208h0m25-165h0m12 137h0m6-29h0m-3-72h0m-58 28h0m53 116h0m-54-25h0m53 146h0m3-111h0m-49-13h0m-8-64h0m33-64h0m-14 79h0m33-48h0m-5 129h0m-7 114h0m-6-251h0m-33 171h0m53-119h0m-7 5h0m11 11h0m-13-6h0m-23-203h0m30 92h0m-3 179h0m30-131h0m-36 160h0m-17-145h0m24 251h0m13-105h0m-43-28h0m44-183h0m-23 102h0m13-147h0m1 165h0m-20-200h0m-38 149h0m57 92h0m2-202h0m-11 289h0m-37-66h0m17-10h0m17-206h0m-23 275h0m19-3h0m9-33h0m-15-64h0m1 65h0m-5 19h0m45-220h0m-36 167h0m40 57h0m-35-273h0m16 109h0m-14 93h0m-33 63h0m48-46h0m-6-21h0m-42-82h0m46 17h0m-16 66h0m1-10h0m8-25h0m-33-25h0m43-39h0m-10 93h0m-28-295h0m18 193h0m-13 162h0m-3-56h0m19-14h0m22-205h0m-48 290h0m26-57h0m16-46h0m-11-118h0m-6 231h0m-15-131h0m-33 91h0m-14 24h0m58-150h0m30-23h0m-41 98h0m6-78h0m-5 69h0m-35 121h0m26-204h0m-2-30h0m9 50h0m21 182h0m31-220h0m-56 93h0m12-22h0m-31 20h0m46-13h0m-2 118h0m-49-272h0m51 196h0m-46-16h0m57 1h0m-25-119h0m8 136h0m-1-154h0m-33 83h0m33-65h0m-33 269h0m63-89h0m-57-49h0m19 53h0m34-6h0m-17-59h0m-12 5h0m-40-20h0m36-119h0m23 105h0m-25 83h0m-12-139h0m36 149h0m14-125h0m-15-45h0m-48 91h0m40 125h0m-26-129h0m5 2h0m7-40h0m-1 50h0m-2-22h0m11-6h0m4-62h0m12 54h0m1 142h0m-17 66h0m-18-172h0m3-49h0m12 79h0m2 29h0m11 17h0m-39-45h0m-3-90h0m12-26h0m25 30h0m-8 59h0m37-126h0m-70 216h0m-11-193h0m60 36h0m-19 154h0m27-133h0m-26 48h0m-33 134h0m3-64h0m72-229h0m-42 25h0m15-38h0m17 205h0m-33-100h0m-7 148h0m11-50h0m13 42h0m24-75h0m-52 25h0m15 47h0m-27-179h0m-3 159h0m-4-148h0m29-88h0m24 183h0m11 111h0m-5 70h0m-32-147h0m3-109h0m-11 142h0m-2-171h0m-2-62h0m48 124h0m-51 80h0m-1 103h0m-8-199h0m45-96h0m3 68h0m-31-125h0m-25 211h0m37 44h0m18-159h0m12 69h0m-29 83h0m14-96h0m0 151h0m-19-234h0m41 179h0m-43-130h0m30 24h0m-21 12h0m-13 200h0m-1-299h0m11 120h0m6-1h0m-3 108h0m-10-85h0m-1 24h0m0 55h0m39 39h0m-15-105h0m3-77h0m0 35h0m-43 15h0m-26 184h0m21-67h0m12-107h0m46-183h0m1 200h0m-27-132h0m-29 209h0m41 5h0m0 95h0m-8-288h0m1-24h0m-15 61h0m13-82h0m12 141h0m-46 102h0m28 70h0m9-219h0m-9-33h0m-1 174h0m8-232h0m-29 241h0m29-162h0m12-30h0m-44-58h0m32 258h0m-6-126h0m-19 96h0m-4-42h0m29-79h0m-8-38h0m23 136h0m-4 24h0m-5 15h0m-38-48h0m22-94h0m17-32h0m7 132h0m-33-119h0m12-20h0m22-127h0"/>
<path transform="scale(.1)" stroke="#000" stroke-opacity="0.35" stroke-width="8" stroke-linecap="square" fill="none" d="M3845 352h0m-74 32h0m36-6h0m3-24h0m57 41h0m28-33h0m29-10h0m-173-18h0m-20 40h0m107-12h0m12-3h0m-29-6h0m17-27h0m74 88h0m-74 24h0m-59-45h0m-39-10h0m52 13h0m51-2h0m29-14h0m-52 36h0m37-37h0m64-24h0m18 44h0m-98-84h0m67 38h0m-66 14h0m50 17h0m-163-43h0m128 28h0m26 13h0m49-43h0m-19 37h0m-59 10h0m-38 1h0m8 0h0m-33 15h0m-45-61h0m87 30h0m-44-21h0m62 48h0m62-51h0m-81 6h0m-86-5h0m157-29h0m35 50h0m-238 9h0m230-34h0m-19 44h0m-28 0h0m-12-3h0m36-8h0m-33 0h0m-29-43h0m-114-4h0m32-16h0m114 38h0m34 115h0m-29-119h0m-23 8h0m-6 76h0m78-27h0m-78 17h0m32-29h0m-117-50h0m78 13h0m-54 4h0m63-32h0m-26 95h0m-3-60h0m85 7h0m6 4h0m-11 34h0m21-38h0m-53 123h0m-109-123h0"/>
<path transform="scale(.1)" stroke="#000" stroke-opacity="0.4" stroke-width="8" stroke-linecap="square" fill="none" d="M3835 660h0m14 33h0m-1 22h0m-68 53h0m115-8h0m-68-163h0m2 104h0m-44-116h0m49 178h0m-92-38h0m73 66h0m0-147h0m-1 86h0m-26-75h0m39 102h0m-20-24h0m-10-51h0m27 81h0m55-67h0m-30-15h0m-16-66h0m-99 41h0m54-36h0m69 55h0m-37 33h0m-12-77h0m84-50h0m-77 165h0m-6-49h0m20 21h0m-26 52h0m33 26h0m-16-216h0m-68 92h0m82-70h0m-40 179h0m36-122h0m-18 51h0m-12-26h0m-8 33h0m87 76h0m-67-176h0m-54 95h0m68-48h0m-41 26h0m42 55h0m11-189h0m-45 164h0m38 33h0m-72 47h0m11-109h0m28-17h0m-12 80h0m61-29h0m-80-60h0m47 63h0m-19-41h0m124 20h0m-114-156h0m-18 253h0m63-174h0m-3 84h0m-61 39h0m7-68h0m24 32h0m-17 5h0m17-6h0m15-52h0m-68 35h0m101 25h0m-40-66h0m-53-32h0m9 54h0m-24 16h0m-1 48h0m60-149h0m-21 123h0m36 33h0m-28-57h0m5 43h0m-18-44h0m32-11h0m-47 105h0m61-140h0m57 9h0m-110 25h0m54 115h0m33-58h0m-51 6h0m-33-84h0m51 56h0m-11-75h0m0-27h0m27 90h0m-61-30h0m-2 114h0m-86-15h0m113-54h0m-37-97h0m46 54h0m10 93h0m-24-32h0m12-19h0m-27 0h0m37-10h0m-35-95h0m-24 187h0m81-78h0m-28-28h0m15 69h0m-36-40h0m47-117h0m-74 62h0m-8 8h0m12 3h0m51-48h0m-14 158h0m3-161h0m-31 148h0m14-111h0m40-6h0m-73 82h0m43-78h0m18 109h0m24-62h0m-25 24h0m-74 72h0m31-137h0m-6-25h0m74 60h0m-64-114h0m28 110h0m-46-3h0m-31 47h0m24-10h0m51-162h0m-47 91h0m73 77h0m-6 67h0m-35-135h0m-62-32h0m94 11h0m-55 112h0m-61 27h0m145-197h0m-32 110h0m17-20h0m-40 108h0m-18-62h0m47-32h0m10 39h0m-2-138h0m-72 124h0m85 70h0m-45-135h0m-42-74h0m23 156h0m16-127h0m-1 95h0m-25 87h0m46-22h0m-13-129h0m37 129h0m-64-151h0m54 48h0m-76 29h0m66-41h0m-20 108h0m28-158h0m-2 207h0m8-116h0m-21-92h0m-37 65h0m103 33h0m-118 104h0m85-207h0m-55-2h0m48-36h0m31 75h0m-51 88h0m13-84h0m0 44h0m-13 32h0m33-94h0m-106 120h0m144-7h0m-98 8h0m-39-36h0m-19 2h0m93 98h0m-47-48h0m70-122h0m-62-50h0m-23 142h0m-44-46h0"/>
<path transform="scale(.1)" stroke="#000" stroke-opacity="0.25" stroke-width="8" stroke-linecap="square" fill="none" d="M3693 804h0m-102-286h0m-31 221h0m76 9h0m-21-4h0m-52-125h0m62-59h0m107 115h0m-169-47h0m1 75h0m46 57h0m-61-72h0m-27-30h0m220 27h0m-36 4h0m-152-63h0m-3 94h0m214 39h0"/>
<rect x="345.6" y="29.3" width="54.9" height="54" fill="none" stroke="#000" stroke-width="1.5"/>
<path d="M371.9 29.3V83.3M345.6 58.4H400.5" stroke="#000" stroke-width="1.5"/>
<path d="M345 71.9h-1.5M345 61.4h-1.5M345 46.5h-1.5M345 34.7h-1.5M349.73 83.9v1.3M355.19 83.9v1.3M359.33 83.9v1.3M363.46 83.9v1.3M368.92 83.9v1.3M373.05 83.9v1.3M377.18 83.9v1.3M382.64 83.9v1.3M386.78 83.9v1.3M390.91 83.9v1.3M396.37 83.9v1.3" stroke="#000" stroke-width="1.1" stroke-opacity=".8"/>
<text x="348" y="36.8" font-size="7.8" style="stroke:#222;stroke-width:.08px;fill:#222">10</text>
<text x="399.3" y="36.8" font-size="7.8" text-anchor="end" style="stroke:#222;stroke-width:.08px;fill:#222">72</text>
<text x="348" y="81.6" font-size="7.8" style="stroke:#222;stroke-width:.08px;fill:#222">0.3</text>
<text x="399.3" y="81.6" font-size="7.8" text-anchor="end" style="stroke:#222;stroke-width:.08px;fill:#222">17.7</text>
<text x="431.65" y="22.9" font-size="10" text-anchor="middle" style="white-space:pre">day 14</text>
<path transform="scale(.1)" stroke="#000" stroke-opacity="0.3" stroke-width="8" stroke-linecap="square" fill="none" d="M4076 496h0m4 47h0m8-25h0m-30-9h0m6-26h0m67 13h0m-11-4h0m-38-1h0m38-17h0m30 23h0m-63 24h0m9-68h0m87 32h0m10 17h0m-113 15h0m65-4h0m-20 13h0m42-40h0m-41-14h0m-12 53h0m-14-8h0m-22-44h0m90 17h0m-35 25h0m68-48h0m-50 31h0m-21 33h0m-19-50h0m36-31h0m-7 24h0m-2 3h0m9 11h0m-58 17h0m70-46h0m-98 29h0m44 33h0m94-18h0m-24-17h0m-118 14h0m78 18h0m-43-59h0m21 45h0m-1-22h0m14 7h0m63-24h0m-53-4h0m-15 42h0m18-3h0m-52-37h0m81 23h0m-111 40h0m101-92h0m88 62h0m-108 24h0m-15-62h0m-8 26h0m21 5h0m13-22h0m-53 15h0m46-25h0m-19 87h0m4-30h0m-2-15h0m15 4h0m-75-13h0m145 33h0m-128-50h0m32 43h0m52-35h0m27 26h0m-42-2h0m60 11h0m-19-47h0m-94 24h0m23-1h0m122-3h0m-130 2h0m-7-28h0m70 31h0m-36 0h0m-55-35h0m24 45h0m8 5h0m-32-22h0m45 4h0m1 33h0m-29-28h0m-11 9h0m42-28h0m-59-9h0m35 28h0m-10-5h0m30 52h0m50-1h0m-50-44h0m87 3h0m-62-19h0m-58 28h0m-2-31h0m24 26h0m-37-38h0m94 27h0m-15-25h0m-100-30h0m77 75h0m49 17h0m-89-55h0m15 0h0m16 1h0m-4-12h0m-18 21h0m-6 5h0m-39-26h0m21 44h0m-5-36h0m140 15h0m-113-14h0m89 30h0m-58 23h0m-70-70h0m110 45h0m-78 8h0m21 25h0m-57-34h0m108 11h0m-64-27h0m-4 23h0m2-18h0m68 1h0m-37-1h0m-12-44h0m-45 55h0m14-21h0m34 62h0m-39-69h0m33 2h0m-17 39h0m69-13h0"/>
<path transform="scale(.1)" stroke="#000" stroke-opacity="0.38" stroke-width="8" stroke-linecap="square" fill="none" d="M4292 490h0m-70-5h0m27-1h0m5 29h0m-66-37h0m7 41h0m25-57h0m21 7h0m75 0h0m-63 24h0m54-43h0m-52-8h0m8 58h0m-44-36h0m75 15h0m-17-19h0m-49 2h0m82-24h0m-90 65h0m19-56h0m13 18h0m-15 16h0m39-43h0m-25 64h0m-67-34h0m8 16h0m13-21h0m19 17h0m-39-40h0m65 59h0m-30-20h0m33-7h0m-12-14h0m-10 38h0m30 1h0m-51-24h0m4-31h0m67 22h0m-29-24h0m-21 27h0m-6 25h0m37-19h0m-10-13h0m-41 4h0m-13 2h0m39 28h0m-14 28h0m-4-49h0m22-16h0m-2-25h0m51 26h0m-49-27h0m25 11h0m35 6h0m-91 36h0m87-57h0m-128 78h0m92-68h0m-38 48h0m2 17h0m-14-28h0m81 28h0m-40-19h0m-25-14h0m-10 9h0m61-30h0m-87 23h0m137 4h0m-81-6h0m-78-14h0m138-30h0m12 19h0m11 83h0m-24-60h0m-39-9h0m-45 16h0m-116 8h0m122-35h0m2 37h0m-22-6h0m-24-6h0m8 15h0m5-4h0m-41-9h0m133-22h0m-45-1h0m18 35h0m29 13h0m7-45h0m-51 27h0m3-39h0m79 83h0m-85-111h0m76 52h0m19-19h0m-75 40h0m-84-24h0m83 21h0m-5-71h0m-119 65h0m171-41h0m-51 53h0m-60-54h0m54 24h0m-16 6h0m0 11h0m-18-8h0m-2-18h0m40 1h0m8 17h0m23 14h0m-133-14h0m115 3h0m-27 21h0m28-52h0m-25 51h0m2-50h0m27 41h0m16-9h0m-45 15h0m-52 18h0m65-32h0m15 12h0m-127 3h0m90-37h0m43 37h0m-22-34h0m-12-7h0m104 7h0m-71 49h0m-75-47h0m-59 7h0m39 8h0m48-3h0m11-10h0m3 8h0m-35-5h0m6-21h0m23-13h0m24 40h0m-15 26h0m34-35h0m-27 36h0m-21-18h0m25-31h0m-6 14h0m-24 18h0m40-29h0m-39 16h0m-31 12h0m33-23h0m49 13h0m-91 0h0m42 8h0m106 6h0m-35-16h0m-42 15h0m-25-6h0m-15 10h0m-20 22h0m-121-67h0m155 38h0m12-43h0m12 16h0m-10 10h0m-20-24h0m-45 21h0m11 17h0m-15 0h0m84-21h0m-65 8h0m75 38h0m59-28h0m-66 2h0m-27-27h0m-15 47h0m75-37h0m-129 54h0m71-31h0m-9-49h0m21 18h0m-26 7h0m1 66h0m76-95h0m-131 32h0m38 28h0m96-33h0m-43 11h0m-110 31h0m161-44h0m-48 7h0m-32 1h0m-2 11h0m-20 5h0m-29 12h0m14-59h0m77 33h0m-59 28h0m22 22h0m20-73h0m-40 16h0m9 52h0m130 0h0m-98-25h0m-12-60h0m52 91h0m-82-44h0m-8-4h0m-7-20h0m89-18h0m-7 18h0m-56-19h0m39 22h0m80 2h0m-97 34h0m-53-32h0m-4 30h0m59 10h0m-75-42h0m57 10h0m19 34h0m-8-42h0m-7 2h0m-27 57h0m58-1h0m-39-42h0m-45 7h0m86 10h0m-82-13h0m90-12h0m-9-1h0m-31-2h0m-64-5h0m72 12h0m-8-7h0m38 9h0m-21-6h0m40 8h0m-38 50h0m0-82h0m-47 41h0m-28-39h0m51-3h0m52 44h0m-60 17h0m-16-52h0m69 26h0m-49 22h0m4-8h0m15 11h0"/>
<path transform="scale(.1)" stroke="#000" stroke-opacity="0.45" stroke-width="8" stroke-linecap="square" fill="none" d="M4347 448h0m28 2h0m7-20h0m-49-21h0m14 78h0m-27-19h0m5 21h0m16-23h0m22-41h0m-11 36h0m17-2h0m-20-2h0m-46-10h0m24-18h0m3 19h0m54 5h0m-49 7h0m17-37h0m-70 70h0m26-54h0m57 25h0m-56 10h0m-10 19h0m24-28h0m9 35h0m-28-44h0m89-43h0m-75 51h0m8 4h0m39-35h0m-52 54h0m75-87h0m-41 80h0m-35-41h0m-13 15h0m0 19h0m13-4h0m-25 8h0m64 2h0m-11 29h0m20-49h0m18-9h0m-42 44h0m-17-36h0m20 4h0m-14 18h0m69-30h0m-104-2h0m2-18h0m10 51h0m34-8h0m-7 7h0m-9 6h0m37-23h0m-67-29h0m49 1h0m-12 19h0m45-11h0m-36 5h0m-26 20h0m50-41h0m15 80h0m-39-38h0m-34-20h0m39 7h0m31-17h0m-47 30h0m5-16h0m-1 14h0m-52 48h0m76-80h0m-47-2h0m39-15h0m57 28h0m-110 57h0m40-34h0m-5-17h0m64-37h0m-52 27h0m-17 15h0m-43 15h0m59-2h0m-23 4h0m4 1h0m52-3h0m-80-12h0m11 40h0m36-70h0m-50 57h0m15-20h0m20-12h0m-4 3h0m59-19h0m-31 30h0m-34-35h0m-6 37h0m30 9h0m6-19h0m-10 2h0m0 10h0m-26 8h0m72-25h0m-31-23h0m-13-6h0m26 32h0m2 24h0m-52-7h0m66 30h0m-48-36h0m-15 2h0m35 17h0m-21-30h0m18-5h0m46-44h0m-109 37h0m69 12h0m-8-34h0m5 45h0m30 6h0m-65-34h0m-14 6h0m29 37h0m51-25h0m-31-5h0m-54 15h0m16-47h0m-3 67h0m-9-2h0m-6-31h0m54-7h0m-43 8h0m76 14h0m-42-2h0m28 17h0m-42-48h0m-20 20h0m20-1h0m-10 54h0m-2-23h0m-5-48h0m-9-6h0m-13 5h0m40 33h0m-44-5h0m48-10h0m-59 11h0m81 14h0m-27 2h0m10-47h0m13 41h0m-8-22h0m-14 16h0m-45-8h0m15-18h0m43 38h0m-6-47h0m79 27h0m-157-9h0m57-11h0m52 59h0m-28-75h0m22 31h0m-37 3h0m-21-1h0m43 22h0m48-39h0m-47-4h0m-7 42h0m15-31h0m33 25h0m-16-17h0m3-5h0m-14 4h0m-25-34h0m29 46h0m-47-11h0m36 12h0m-78 18h0m30 9h0m63-38h0m-27 3h0m-18 27h0m-7-44h0m12-23h0m37 9h0m14 46h0m15-34h0m-68 3h0m32-9h0m-32-31h0m11 55h0m56-23h0m-30 30h0m-2-36h0m-127 14h0m129 14h0m15 43h0m-63-56h0m65-27h0m-118 42h0"/>
<path transform="scale(.1)" stroke="#000" stroke-opacity="0.65" stroke-width="8" stroke-linecap="square" fill="none" d="M4426 555h0m16-58h0m-53-67h0m45 45h0m-37 35h0m-69-15h0m59 78h0m20-32h0m-35-102h0m77 46h0m-92 54h0m76-105h0m-30 139h0m14-126h0m-39 104h0m97-27h0m-125 6h0m28-51h0m14 60h0m41-19h0m-39-41h0m63-4h0m-56 44h0m4 17h0m31-13h0m42-45h0m-4 1h0m-3 7h0m-81 24h0m-40-92h0m135 41h0m-149-119h0m62 84h0m51 39h0m-9 10h0m-8-11h0m-3 106h0m-1-122h0m-48 57h0m66-52h0m-72-15h0m112 73h0m-60-28h0m62 39h0m-171-41h0m112 61h0m62-14h0m-50-59h0m-23 10h0m21-44h0m-28 55h0m-17 63h0m42-91h0m-42-1h0m-12 24h0m56 88h0m-61-84h0m24 44h0m-13-36h0m-13 14h0m7 13h0m105-2h0m-76-114h0m-27 116h0m-17-105h0m-14 70h0m87 32h0m-87-5h0m8 26h0m68-66h0m-36 21h0m-5 48h0m37-67h0m6-31h0m-12 40h0m-30 11h0m33-55h0m6 171h0m17-137h0m-18 87h0m-59 0h0m30 9h0m-20-33h0m11 9h0m60-36h0m-71 27h0m50-82h0m7 35h0m-27-31h0m13 71h0m-43-2h0m-40-27h0m85-41h0m-4-14h0m70 66h0m-32-51h0m-137 33h0m147-3h0m-7 21h0m-34 26h0m-38-57h0m69 34h0m-67-60h0m83-83h0m-24 119h0m-89 22h0m72 72h0m-8-186h0m-49 127h0m18-31h0m16 57h0m17-61h0m-40 45h0m-2-23h0m45 13h0m15-18h0m48 19h0m-110-65h0m2 86h0m-16 10h0m61-84h0m-57 19h0m71 1h0m-2 9h0m26-25h0m-60-25h0m-7 5h0m-48 30h0m87-78h0m-78 33h0m66 76h0m-2-29h0m-43 14h0m-4-16h0m50-1h0m32-74h0m-111 123h0m41-57h0m0 16h0m16 16h0m43 58h0m-121-76h0m49 12h0m-5-5h0m51-5h0m-2 27h0m-51-27h0m84 38h0m-3-68h0m-65 70h0m26-27h0m-14 24h0m21-73h0m8 24h0m-25 36h0m16-44h0m-52 5h0m41-29h0m-19 136h0m-1-88h0m-23-15h0m58 19h0m-77-5h0m29 41h0m34 19h0m18-106h0m24 26h0m-42 23h0m-47 41h0m57-85h0m-60 58h0m102-2h0m-36-32h0m31 37h0m-74-45h0m-54 68h0m162-49h0m-91 32h0m63-56h0m-66 23h0m49-94h0m-27 131h0m71-26h0m-35 62h0m-62-104h0m26 132h0m-43-43h0m12-81h0m69 22h0m-45 34h0m47-18h0m17-35h0m-82 52h0m46-93h0m-38 94h0m6 42h0m-56-61h0m29-69h0m24 59h0m-7-22h0m50-16h0m-58-14h0m70-2h0m22 21h0m-70 98h0m-40-12h0m-9-68h0m73 30h0m-9-1h0m49-74h0m-89 96h0m-31-60h0m138 78h0m-29-12h0m-80 8h0m-16-64h0m-32 8h0m18 44h0m-15-78h0m102 62h0m-18-19h0m-55-12h0m55 31h0m17 56h0m-67-91h0m-1-2h0m25 18h0m71-6h0m-69-75h0m26 88h0m-8 15h0m10 13h0m13-81h0m-36 1h0m86 9h0m-34 76h0m31-62h0m-114 9h0m68 28h0m-15-8h0m-4-52h0m-53 88h0m5 32h0m42-51h0m16 68h0m2-110h0m-11 13h0m-25-36h0m23 91h0m0-5h0m-9-86h0m74-7h0m-61 71h0m27-22h0m-7 13h0m3 15h0m-40 57h0m16-121h0m-28 30h0m89 30h0m-38-7h0m-32 7h0m4 0h0m22-37h0m-46-12h0m90-11h0m-8 13h0m-23-7h0m-26 35h0m42-89h0m-134 121h0m107-57h0m-26-48h0m-19 42h0m51 35h0m-42 35h0m-20-15h0m17-12h0m-2 36h0m-6 24h0m49-109h0m-49 83h0m76-98h0m-52 71h0m69 1h0m-132 13h0m39 19h0m60-55h0m34 8h0m-94 56h0m18-86h0m-24 82h0m5-100h0m35 53h0m-45 19h0m-20-99h0m29 18h0m-38 36h0m69 13h0m-55-15h0m63-10h0m-38 45h0m-25-80h0m77 78h0m-63-78h0m32 33h0m-11-18h0m29 25h0m29-56h0m-70 57h0m-3 45h0m42-46h0m-54 35h0m-31-31h0m96 17h0m13 17h0m-87-75h0m40 31h0m12 22h0m12 50h0m-46-80h0m7-8h0m5 68h0m-4-22h0m12-31h0m-78-19h0m114-23h0m0 128h0m0-61h0m-40 55h0m39-60h0m-64 3h0m34-5h0m31-13h0m4 82h0m-44-130h0m43 37h0m-100 58h0m36-28h0m-3-28h0m41-50h0m-3 63h0m-47 1h0m76 22h0m33-6h0m-60 20h0m16-45h0m-46-30h0m13 41h0m27 80h0m-43-48h0m16-21h0m-7-63h0m54 56h0m-72-76h0m66 50h0m20 20h0m-101-7h0m67 55h0m-90-37h0m38-11h0m53 10h0m0 35h0m30-37h0m-110 46h0m72 27h0m41-45h0m3-42h0m-52 45h0m10-54h0m29 11h0m15 53h0m-59-92h0m44 58h0m-133 3h0m130 18h0m-72 20h0m0-33h0m-17-5h0m88 3h0m-37 23h0m-20-7h0m-22 19h0m54 50h0m20-78h0m-40-70h0m-3 84h0m3-65h0m40-42h0m5 124h0m-30 3h0m41-82h0m-20 9h0m-38 70h0m-22-10h0m32-10h0m-15-38h0m18 28h0m-11-37h0m-3 95h0m-35-80h0m23 46h0m31-75h0m10 53h0m-32-59h0m42 30h0m-36-26h0m-4 96h0m0-35h0m-29-11h0m116 43h0m-88-41h0m30 4h0m32 2h0m-98-80h0m44 127h0m6-81h0m9 37h0m39-70h0m-19 57h0m2 34h0m-122-6h0m109-66h0m-25 71h0m-55-6h0m92 33h0m-66-91h0m74 13h0m-24-90h0m59 29h0m-61-3h0m-26 111h0m78-72h0m-89 94h0m56-37h0m-63-39h0m87 17h0m-102-40h0m55 50h0m43 0h0m-23-7h0m-69-6h0m32-19h0m-35 15h0m75 82h0m45-118h0m-12 49h0m-32-29h0m-54 86h0m-31-83h0m41-28h0m35 1h0m-23 38h0m-90 15h0m26-4h0m-32-22h0m126 31h0m13 53h0m-16-71h0m-34 32h0m-45-65h0m49 108h0m-44-58h0m16 18h0m43-29h0m22-8h0m-103 91h0m62-69h0m36-44h0m-50 2h0m42 45h0m-15-66h0m-41-6h0m-22 28h0m66 48h0m-83 5h0m86 37h0m20-120h0m-15 68h0m-6-38h0m44 32h0m-81-74h0m13 17h0m-48 117h0m56-26h0m47-9h0m-62-74h0m11 50h0m1-16h0m11-45h0m37 10h0m-38 12h0m50 13h0m-91 7h0m72-34h0m-88 28h0m83-94h0m7 203h0m-44-52h0m1-109h0m-12 96h0m-27-35h0m18 27h0m104-13h0m-24-33h0m-31 42h0m-40 3h0m77 22h0m-81-39h0m-39-7h0m86-29h0m-20 45h0m-46-35h0m75 24h0m17 16h0m-59-41h0m6 50h0m35-65h0m-37 76h0m6-27h0m35-65h0m-50 89h0m45-45h0m-58-68h0m3 144h0m-23 34h0m64-78h0m-29-52h0m-67 53h0m96 3h0m-39-42h0m-5 27h0m-12-50h0m111 62h0m-38-32h0m-25-20h0m61-24h0m-102 75h0m68 53h0m25-97h0m-27 8h0m9 38h0m14-21h0m-24-47h0m-73 70h0m43 15h0m69-59h0m-81-11h0m-46-32h0m133 112h0m-68-46h0m-66 33h0m63 56h0m-4-112h0m4-5h0m-9 14h0m15-22h0m-18 21h0m-36 13h0m69 32h0m-16-34h0m26-6h0m-11-58h0m-77 40h0m96 18h0m-28-33h0m-80 155h0m129-42h0m-67-96h0m10 17h0m-29-88h0m28 10h0m-30 27h0m96 10h0m-55 81h0m53 17h0m-176-5h0m140-18h0m-68-49h0m24-7h0m80 44h0m-106 44h0m62-39h0m-111-17h0m43-25h0m-28-41h0m49 80h0m-3-22h0m24 61h0m-27-49h0m92-6h0m-102-38h0m-74 51h0m179-19h0m-123-68h0m59 117h0m-40-58h0m-13-13h0m89 7h0m-86 46h0m54-26h0m57 14h0m-66-43h0m-19 15h0m-32 3h0m41-6h0m59-5h0m-31 22h0m-30-69h0m42 68h0m-72 72h0m35-89h0m-22-2h0m34 3h0m-13-21h0m24 62h0m14-112h0m-19 86h0m32-34h0m-53 43h0m-2-53h0m22 92h0m56-2h0m-81-163h0m35 158h0m49-62h0m-32 51h0m-87-43h0m42 41h0m-3 1h0m35-32h0m7 109h0m-24-97h0m-50 23h0m-4-94h0m52 61h0m3-22h0m-69-20h0m98 78h0m1-49h0m-85-34h0m33 64h0m10-22h0m46-11h0m-65 12h0m-22-2h0m33-5h0m-1 60h0m21-101h0m65 70h0m-153-98h0m100 52h0m-23 76h0m-21-45h0m-39-47h0m87 94h0m-53-53h0m42-10h0m-11 1h0m23-4h0m-46-34h0m-13-5h0m27 99h0m-49-74h0m22 52h0m20-31h0m-28 2h0m26-21h0m76 51h0m-68-7h0m79 12h0m-62-14h0m-52-25h0m92 28h0m-105-16h0m59 5h0m-6-5h0m-40 0h0m76-33h0m-20 52h0m-1-42h0m-45 5h0m18 54h0m-15-59h0m9 56h0m87-115h0m-62 20h0m-55 106h0m-8-142h0m58 102h0m-66-6h0m20 97h0m65-41h0m54-140h0m-124 128h0m82-5h0m17 14h0m-62-52h0m62-4h0m9-60h0m-95 46h0m17-19h0m22 42h0m7-86h0m-19 38h0m31 17h0m-34 94h0m54-97h0m-97 23h0m23 35h0m85-5h0m-38-54h0m-33-26h0m10 37h0m-44 39h0m60-22h0m16 20h0m-16-36h0m-41 14h0m20-31h0m8 84h0m72-94h0m-130 35h0m124-15h0m-112-16h0m94 76h0m-45 13h0m34-29h0m-107-23h0m148-6h0m-56-22h0m11 57h0m-50-66h0m46 61h0m-61-100h0m-9 99h0m103-54h0m-79-4h0m39 11h0m57 54h0m-80-39h0m52 1h0m-60 19h0m61 51h0m-60-103h0m-24 41h0m67-95h0m0 118h0m-19-74h0m-4 38h0m-45 43h0m94-16h0m-29 31h0m-23-55h0m62-7h0m-76 37h0m-5-50h0m64 36h0m-76-22h0m55 54h0m-17 13h0m-9 17h0m39-106h0m-42 57h0m3-50h0m21 35h0m-83-47h0m47 85h0m15-28h0m41-16h0m-39 6h0m38-23h0m-23-2h0m-12 70h0m-37-24h0m37-10h0m18-5h0m-1 66h0m-50-111h0m61 57h0m34-39h0m-106 66h0m39 12h0m-55-64h0m84 19h0m-39 36h0m-5-11h0m-39-33h0m30 26h0m-29-50h0m49-30h0m33 77h0m-72-70h0m100 12h0m-104 4h0m40 79h0m-18-23h0m44 68h0m16-101h0m-51 6h0m32-25h0m2 4h0m-82 17h0m-11-42h0m70 4h0m-28 67h0m-42-4h0m110-14h0m-41-23h0m18-17h0m11 15h0m-11-55h0m-37 118h0m41-134h0m-96 54h0m157-28h0m-133 78h0m41-25h0m-69-28h0m58 33h0m-7 84h0m18-70h0m3 40h0m37-10h0m-87-32h0m57 18h0m-21-19h0m-13-19h0m55-6h0m-49 14h0m48 22h0m-62-33h0m0-22h0m113 85h0m-68-23h0m7-38h0m-28-10h0m45 21h0m-44 5h0m68 43h0m-40-65h0m18 20h0m-33 29h0m8 23h0m77-46h0m-34-92h0m-55 71h0m8 36h0m57-41h0m-67-42h0m15-37h0m16 133h0m-73-24h0m25-9h0m7 52h0m95-19h0m-32-12h0m-19-38h0m-48 14h0m73 37h0m-9-57h0m-3 6h0m-69-52h0m67 124h0m-38-18h0m64 27h0m-66-27h0m34-69h0m-74 9h0m61-17h0m12 22h0m-17 18h0m14-42h0m-2 26h0m43 51h0m-90-19h0m61-58h0m-18 90h0m-25-55h0m-45 0h0m91 82h0m-73-41h0m20 3h0m59-42h0m-73 11h0m3 11h0m107-39h0m-66-58h0m-60 1h0m35 162h0m26-139h0m-79 70h0m91-22h0m34 17h0m8 23h0m-45-32h0m-36 6h0m8-24h0m28 34h0m23 49h0m12-93h0m-71-10h0m22 62h0m8-16h0m-27 39h0m60-26h0m-85-21h0m74 18h0m3-68h0m-50 19h0m43 88h0m6-35h0m-57-3h0m51-9h0m-78-30h0m68-30h0m5 44h0m-42 39h0m34-9h0m-63-24h0m23 64h0m6-149h0m-40 71h0m-25-35h0m39 114h0m-33-68h0m79-28h0m-45 8h0m59 55h0m16-42h0m7 52h0m-101-33h0m93 24h0m-88-17h0m-1-8h0m74-9h0m16 13h0m-29-5h0m-9-79h0m28 73h0m-17 35h0m7-37h0m-56 31h0m50 3h0m-29-88h0m36-1h0m-30 74h0m74-12h0m-43-63h0m-53 33h0m78 36h0m-17 9h0m-22-71h0m60 3h0m-82-41h0m57 139h0m-76-87h0m72 67h0m19-65h0m11 6h0m-27 43h0m-1-65h0m-84 53h0m15 20h0m2 11h0m9-46h0m49 59h0m-73-67h0m5 15h0m74 5h0m-70-6h0m6-13h0m17 25h0m-13 29h0m-29-79h0m89 54h0m-33 32h0m67-90h0m-24 30h0m-62 4h0m12-15h0m-24 20h0m-13 6h0m79-29h0m-34 3h0m-54 28h0m35 37h0m40-33h0m-55 47h0m-27-79h0m83 43h0m-5-23h0m5 52h0m-108-24h0m118-58h0m-78 52h0m63-15h0m-91 9h0m62-22h0m46-66h0m-38 58h0m20 10h0m46 19h0m-91-68h0m10 59h0m75 16h0m-56-48h0m1-2h0m-66 53h0m39-67h0m64 95h0m-28-106h0m-52 25h0m44 162h0m27-130h0m-71-48h0m5 58h0m19 13h0m32-61h0m12 43h0m31-6h0m-79 0h0m64 24h0m-2 19h0m-34 48h0m-17-95h0m49-34h0m-32 80h0m-49-108h0m-22 113h0m133-75h0m-64 20h0m-26-58h0m-28 133h0m0-3h0m21-16h0m11-55h0m49 31h0m-89 5h0m133-45h0m-83 4h0m23 25h0m34-44h0m-107 31h0m41-7h0m-77 25h0m156 0h0m-18 9h0m-40-8h0m34 3h0m-18-20h0m-56 16h0m13 8h0m-74 44h0m144-9h0m-37-96h0m-32-4h0m33 44h0m-10-69h0m-68-13h0m119 100h0m-55-32h0m-76 0h0m56-18h0m58-44h0m-34 106h0m27-86h0m-148 107h0m173-57h0m-69 18h0m55-8h0m-58 4h0m30 68h0m-15-111h0m78 90h0m-18-91h0m-85-16h0m19 101h0m44-48h0m-29 17h0m-15-58h0m-23 101h0m-10-104h0m62 30h0m-37 19h0m8-68h0m45 70h0m32 23h0m-95-48h0m-5-66h0m59 57h0m11 32h0m-46 54h0m-34 5h0m24 15h0m63-100h0m25 36h0m-58-31h0m-17-1h0m-11 46h0m47 16h0m17-49h0m-19-6h0m-7 32h0m-8-53h0m-65 94h0m16-87h0m49 9h0m2 65h0m-82-47h0m89-56h0m6 107h0m-29-37h0m-14 19h0m-9-37h0m-6-27h0m75 25h0m-11-57h0m-86 26h0m128 77h0m0-60h0m-71 49h0m7-6h0m31 3h0m-20-54h0m17-41h0m-118 32h0m74 86h0m-1-55h0m35 1h0m-107-6h0m52 11h0m95-8h0m-75 9h0m-43 94h0m46-119h0m-12 8h0m-93 18h0m153 3h0m-30-11h0m-91 24h0m101-60h0m-75 17h0m-8-71h0m38 70h0m21 67h0m-42-103h0m33 83h0m64 10h0m-54-33h0m-77 24h0m104-29h0m-45 19h0m31 4h0m-1-77h0m-41-4h0m56 157h0m-65-101h0m43-21h0m60 34h0m-4 77h0m-123 1h0m12-111h0m25 106h0m-7-100h0m13 50h0m-34 49h0m-5-104h0m51 11h0m-57-26h0m131 83h0m1-32h0m-20-105h0m-21 100h0m-68-4h0m25-37h0m-33 40h0m52-52h0m-73 98h0m-58-7h0m135-32h0m-42-87h0m65 86h0m-45-71h0m-51 41h0m98-17h0m-59 54h0m-18 43h0m64-89h0m-14 133h0m28-92h0m-93 19h0m115-18h0m-33-8h0m-95 17h0m89 29h0m2-49h0m-30 11h0m25-61h0m3 9h0m-31 35h0m42-10h0m-84-45h0m19 77h0m38-87h0m30 47h0m-62 59h0m-26-70h0m80-15h0m-29 113h0m14-137h0m21 93h0m-9-52h0m-19 39h0m-9-18h0m-23 44h0m48 2h0m-23-52h0m-27 65h0m-11-83h0m31 68h0m52-53h0m-55 60h0m52-9h0m16-53h0m20 22h0m-44 5h0m-36-8h0m46-2h0m21 6h0m-55-4h0m2 17h0m-38 12h0m95-9h0m-80 33h0m-63-43h0m81 86h0m-13-148h0m-49 31h0m129 33h0m-60 23h0m-26-100h0m22 103h0m6-38h0m-97 59h0m73-103h0m-6 50h0m16-40h0m78 80h0m-142-34h0m22-21h0m39-18h0m-11-10h0m90 22h0m-42-10h0m-48 44h0m18-9h0m3 28h0m-45-112h0m-3-16h0m120 65h0m-83 37h0m-31-31h0m43 19h0m23-9h0m-61-45h0m-43 63h0m84-24h0m37-85h0m-24 56h0m-41 35h0m-17-2h0m43 99h0m-11-62h0m34-61h0m-14 20h0m17-7h0m7-12h0m-64 65h0m62 1h0m35 6h0m-94-3h0m-77-22h0m130 5h0m-84-29h0m86-22h0m-68-15h0m-1 78h0m37-11h0m56-32h0m-1 63h0m-97-28h0m46-52h0m-39-30h0m18 41h0m63 64h0m-82-67h0m80 4h0m-22 17h0m31-94h0"/>
<path transform="scale(.1)" stroke="#000" stroke-opacity="0.5" stroke-width="8" stroke-linecap="square" fill="none" d="M4469 691h0m-26-28h0m10-26h0m19 22h0m5 32h0m-8-121h0m8 158h0m18-91h0m-36-10h0m16-18h0m-46-62h0m15 124h0m49 16h0m-47-121h0m33 117h0m-19 7h0m14-7h0m16-130h0m-43 64h0m-7 159h0m29-98h0m10-42h0m1 2h0m-2 48h0m12-132h0m-49 48h0m2 73h0m39-47h0m3 79h0m-37-14h0m45-73h0m-80 66h0m55 4h0m5-42h0m-12-48h0m25 150h0m-31-57h0m-1-146h0m6 123h0m-15 48h0m4 40h0m-2-97h0m3-18h0m-3-161h0m17 211h0m-16-63h0m34 73h0m-7 40h0m-29-91h0m39-44h0m-13-65h0m-11 156h0m-5 29h0m5-108h0m1 45h0m16-154h0m-40 95h0m6 72h0m17-23h0m4 72h0m-19 2h0m29-24h0m1-72h0m-13 20h0m20-33h0m6 29h0m-22-34h0m1 2h0m18-50h0m-39-17h0m-4 208h0m47-149h0m-35 1h0m-21 103h0m4-103h0m27 51h0m-44 6h0m53-16h0m6-5h0m4-3h0m-13-70h0m-14 61h0m37 124h0m-4-74h0m2-59h0m-61-18h0m35-6h0m10 89h0m-25-70h0m-4 91h0m-2 21h0m42-109h0m-20-15h0m29-35h0m-31 88h0m-17 16h0m27-22h0m-2-70h0m-28 10h0m38 175h0m-75-62h0m43-115h0m45 189h0m-51-101h0m14-92h0m24 86h0m8-7h0m1-54h0m-3 18h0m-54-8h0m46 37h0m-46 9h0m55-77h0m-61 221h0m26-177h0m-11 9h0m-6 60h0m43-141h0m8 61h0m-5 83h0m-8-97h0m-6 37h0m-20-26h0m-2 5h0m0 17h0m41-59h0m-14 139h0m1 70h0m-8-170h0m13 102h0m-19-41h0m3-17h0m5-43h0m8 50h0m8-4h0m-85-57h0m87-2h0m-6 131h0m3-85h0m-28-36h0m18-77h0m9 82h0m-53 120h0m2-50h0m29-89h0m-37-3h0m54 41h0m-30 68h0m14-58h0m-20-95h0m9 109h0m1 1h0m3-36h0m5 38h0m-48-23h0m44-28h0m26 103h0m4-27h0m-15-39h0m6-51h0m-19 63h0m0-101h0m1 53h0m-12 67h0m37-34h0m-48-17h0m21-57h0m-10 77h0m1 19h0m-16 14h0m13-34h0m16-41h0m23-82h0m-19 156h0m-10-45h0m-19 1h0m28-36h0m-3 15h0m-23 18h0m5 62h0m0 33h0m17-91h0m-16 29h0m-6-127h0m32-35h0m16 100h0m9 49h0m-5-109h0m-10 150h0m-9-8h0m8 68h0m8-139h0m3-72h0m-42 136h0m27 74h0m-24-52h0m29-127h0m11 89h0m-9 22h0m-20 69h0m-23-142h0m24-112h0m-32 191h0m61 80h0m-3-85h0m-36-26h0m23 28h0m1 17h0m6-68h0m-35 16h0m41 9h0m-56 32h0m21-4h0m-24-157h0m-5 142h0m62-22h0m-23-23h0m1-58h0m23 117h0m-6-57h0m-3 68h0m8 6h0m-35-61h0m9-4h0m17 56h0m-24 15h0m4-89h0m32-15h0m-35 27h0m27-12h0m-19 119h0m-17-96h0m38 74h0m10-98h0m-78 79h0m67-29h0m-4-91h0m-7-48h0m-26 265h0m50-135h0m-31-10h0m7 65h0m-36-35h0m41-76h0m4 90h0m7-86h0m-6 120h0m-30-59h0m30-9h0m-19 37h0m-24 38h0m11-76h0m-10-63h0m43 75h0m-26 15h0m32-207h0m-10 116h0m-1-16h0m-24 112h0m28-129h0m-6 54h0m18 40h0m-50-49h0m18 136h0m1-141h0m-11 87h0m2 57h0m27-101h0m-18-31h0m-55 96h0m87-88h0m-28-73h0m-11 98h0m3-8h0m24 41h0m-4-81h0m-30 36h0m-24-91h0m43 92h0m-5 75h0m-50-50h0m43-109h0m20 173h0m-48-87h0m55 0h0m-32 59h0m-29-64h0m24-2h0m-13 16h0m56 17h0m-57-61h0m12-62h0m33 126h0m-20 62h0m20-131h0m-15 29h0m-1 92h0m28-145h0m3-40h0m-19 89h0m-25-5h0m28 56h0m-25-131h0m21 146h0m18-70h0m4-225h0m-10 282h0m-39 71h0m9-164h0m-7-51h0m-13 101h0m30 29h0m17 21h0m-4-166h0m-26 127h0m34-47h0m-54-13h0m36 205h0m-34-186h0m12 105h0m29-82h0m-6 111h0m-13-172h0m7-7h0m4 134h0m-13 3h0m35 59h0m-35-80h0m26 14h0m4-20h0m-6 27h0m-5-21h0m-4-41h0m-48-1h0m42-30h0m-11 115h0m4-223h0m-6 135h0m40 27h0m-16-53h0m-25-67h0m27 103h0m-30 2h0m41 55h0m-7 14h0m-12-73h0m-6 31h0m-38-13h0m39-74h0m-13 130h0m3-80h0m43-55h0m-35 35h0m-10 15h0m24-6h0m8 64h0m-45-43h0m20-86h0m-36 146h0m47 14h0m25-29h0m-63-89h0m39 55h0m-38-16h0m37 58h0m23-89h0m-16 112h0m-15-62h0m22-10h0m-18 98h0m-2-143h0m33 5h0m-32 138h0m-11-83h0m30 5h0m-55 7h0m1-214h0m26 251h0m-34-167h0m74 39h0m-53 46h0m41-2h0m-26 84h0m-17-53h0m41-68h0m-21-27h0m36 8h0m-10-22h0m-34 27h0m16 87h0m-25 48h0m34-116h0m-24-39h0m44-1h0m-36 31h0m9 45h0m-12 22h0m-1-26h0m30 56h0m-23-36h0m28-93h0m-73 86h0m5-69h0m43 80h0m-13-61h0m-25 3h0m15 43h0m39-16h0m-46 45h0m52-7h0m-37-44h0m3-42h0m27 47h0m11 95h0m0-99h0m-46 88h0m29-189h0m-2 167h0m10 2h0m-25 9h0m-29-197h0m40 221h0m-34-38h0m19-2h0m-6 104h0m-41-135h0m68 0h0m-5-20h0m-21-5h0m29 75h0m3-115h0m-5 64h0m12-10h0m-36 57h0m25-40h0m-4-62h0m21-80h0m-41 82h0m-2 62h0m12 47h0m25-29h0m-46 41h0m1-56h0m0 31h0m11 11h0m-36-31h0m58-149h0m-68 154h0m78 13h0"/>
<path transform="scale(.1)" stroke="#000" stroke-opacity="0.35" stroke-width="8" stroke-linecap="square" fill="none" d="M4489 712h0m-90 53h0m71-42h0m-66-77h0m-13 139h0m33-94h0m-15 72h0m0-21h0m-49-95h0m74-10h0m55-63h0m-53 149h0m2-34h0m-7-32h0m-104 143h0m94-3h0m0-41h0m49-96h0m-129 101h0m148-155h0m-85 82h0m9 40h0m5-1h0m-24-126h0m92 107h0m-50-82h0m2 64h0m1 10h0m20 74h0m-49-103h0m37-62h0m-50 63h0m-48 132h0m64-124h0m-32 44h0m25-100h0m28 157h0m-64-90h0m128-10h0m-101 104h0m33-38h0m50-17h0m-47 74h0m-63-177h0m44 30h0m2-73h0m-50 150h0m49-17h0m-7-25h0m-39 103h0m90-180h0m-53 99h0m1-24h0m22-104h0m19 134h0m-60-38h0m31-4h0m5-73h0m0 112h0"/>
<path transform="scale(.1)" stroke="#000" stroke-opacity="0.25" stroke-width="8" stroke-linecap="square" fill="none" d="M4249 683h0m-67-21h0m107-4h0m-52-1h0m22-91h0m-41 144h0m-59-19h0m31-67h0m-46-32h0m160-38h0m-72 7h0m131 140h0m-196-125h0m36 100h0m135 76h0m-185-83h0m134-64h0m-98 111h0m-64-60h0m92-23h0m7-90h0m55 79h0m80 165h0m-169-3h0m131-186h0m-117 137h0m-33-106h0m-31-24h0m31 66h0"/>
<rect x="404.2" y="29.3" width="54.9" height="54" fill="none" stroke="#000" stroke-width="1.5"/>
<path d="M433.9 29.3V83.3M404.2 55.6H459.1" stroke="#000" stroke-width="1.5"/>
<path d="M403.6 71.9h-1.5M403.6 61.4h-1.5M403.6 46.5h-1.5M403.6 34.7h-1.5M408.33 83.9v1.3M413.79 83.9v1.3M417.93 83.9v1.3M422.06 83.9v1.3M427.52 83.9v1.3M431.65 83.9v1.3M435.78 83.9v1.3M441.24 83.9v1.3M445.38 83.9v1.3M449.51 83.9v1.3M454.97 83.9v1.3" stroke="#000" stroke-width="1.1" stroke-opacity=".8"/>
<text x="406.6" y="36.8" font-size="7.8" style="stroke:#222;stroke-width:.08px;fill:#222">13.4</text>
<text x="457.9" y="36.8" font-size="7.8" text-anchor="end" style="stroke:#222;stroke-width:.08px;fill:#222">54</text>
<text x="406.6" y="81.6" font-size="7.8" style="stroke:#222;stroke-width:.08px;fill:#222">1.6</text>
<text x="457.9" y="81.6" font-size="7.8" text-anchor="end" style="stroke:#222;stroke-width:.08px;fill:#222">31</text>
<text x="489.55" y="22.9" font-size="10" text-anchor="middle" style="white-space:pre">day 21</text>
<path transform="scale(.1)" stroke="#000" stroke-opacity="0.4" stroke-width="8" stroke-linecap="square" fill="none" d="M4794 428h0m-81 17h0m99-8h0m38-11h0m-27 19h0m24 37h0m-124-93h0m109 58h0m-34-21h0m-54 45h0m61-48h0m-22 23h0m-67-25h0m90 21h0m-94 4h0m168 9h0m-165-29h0m35-9h0m-10 5h0m37-18h0m50 43h0m51 14h0m-49-9h0m-53-43h0m38 32h0m-65 8h0m48-28h0m56 4h0m-66 42h0m-32-37h0m49-1h0m-48-21h0m36 20h0m30 38h0m-42-7h0m-34 23h0m8-47h0m9-10h0m58 13h0m-84 21h0m46-5h0m9-28h0m-101 4h0m46 41h0m33 7h0m125-8h0m5-57h0m-144-3h0m-41-6h0m110 13h0m-60 37h0m-4 26h0m79-22h0m24-5h0m-73 15h0m42-66h0m3 64h0m-167 27h0m120-17h0m-66-32h0m24-28h0m48-16h0m-15 57h0m-36-48h0m65 54h0m18-39h0m-66 51h0m64-28h0m-32-13h0m19 24h0m-28-12h0m-71-11h0m147 10h0m-146-19h0m72 51h0m101-39h0m-113 4h0m-47 32h0m-5-16h0m37-47h0m39 73h0m-77-39h0m26 23h0m-39-63h0m54-1h0m68-5h0m-46 26h0m46 0h0m-58 59h0m41-11h0m39-21h0m-55-58h0m-101 34h0m100 41h0m-53-39h0m141-21h0m-112 27h0m-25 43h0m-45-48h0m-4-11h0m160-35h0m-160 54h0m101-20h0m4 15h0m-41 7h0m80-34h0m-18 39h0m-53-27h0m27 41h0m-63-1h0m48 2h0m12-27h0m-3 22h0m-83-17h0m-48 5h0m96-5h0m73 25h0m22 0h0m-81-47h0m138 4h0m-146 29h0m-22-7h0m51-19h0m-62 16h0m72-28h0m-14 30h0m-51 8h0m-24 13h0m33 3h0m40-26h0m-71 19h0m12 39h0m76-54h0m-20 13h0m21-8h0m20-14h0m37-37h0m-161 56h0m80-56h0m-59 22h0m123 36h0m-145-53h0m89 3h0m-37 17h0m33 31h0m-38-29h0m48 57h0m8-53h0m26 6h0m-115 21h0m149-47h0m-43-3h0m-42 30h0m-13 0h0m51-11h0m-45 6h0m25-10h0m25 26h0m-68-43h0m16 62h0m45-27h0m68 41h0m-74-4h0m-38-47h0m23-41h0m-9 37h0m65 29h0m11-27h0m-4 16h0m-47 7h0m-89 13h0m40-7h0m20-44h0m-13 34h0m1 38h0m74-43h0m-78 37h0m20-8h0m-69-85h0m105 78h0m-46-29h0m31 19h0m-26-14h0m15 29h0m24-99h0m-18 61h0m36 28h0m-80-22h0m-89-1h0m61 7h0m19 30h0m99-43h0m-108 45h0m-22-45h0m48 16h0m21-31h0m41 35h0m-27 32h0m77-36h0m-114-14h0m15-21h0m-29 15h0m60 34h0m-148-64h0m92 15h0m29-19h0m-10 53h0m31-17h0m1 32h0m-38-49h0m-8 36h0m39-53h0m-88 2h0m164 55h0m-81-43h0m-114 86h0m136-121h0m49 77h0m-82-4h0m47-60h0m-31 19h0m-34 29h0m-1-15h0m30 10h0m4 31h0m-55-26h0m0 27h0m78 6h0m17-24h0m-102-24h0m109 24h0m-20-19h0m-51 67h0m60-94h0m-83 46h0m86 22h0m-9 7h0m-8-10h0m-78-55h0m18 67h0m92-64h0m-81 31h0m43 7h0m45-2h0m-85-13h0m65 0h0m-28-5h0m-84-46h0m44 36h0m54 11h0m-86 30h0m25 37h0m-1-55h0m-16 40h0m53-48h0m-19-50h0m67 57h0m-5-23h0m14 5h0m-70 72h0m-27-54h0m17 2h0m16-7h0m14-7h0m44 30h0m-122-33h0m40 40h0m-80 4h0m-1-46h0m55 7h0m81 34h0m-44-30h0m-43 37h0m24 41h0m-54-91h0m112 68h0m-49-38h0m-15-6h0m-75 12h0m79-6h0m20-38h0m-71 0h0m75 46h0m58 6h0m46 1h0m-13-5h0m-73-68h0m32 43h0m-67-33h0m82 36h0m-84-21h0m17 33h0m34-9h0m-19-1h0m-32 29h0m14-46h0m93-10h0m-108 29h0m13-6h0m57 29h0m-114 24h0m8-78h0m92 0h0m-94 50h0m85-12h0m45 17h0m-93-40h0m44 1h0m-8 35h0m0-62h0m69 37h0m-65-43h0m-19 10h0m81 22h0m-148 9h0m23 5h0m-1-48h0m38 38h0m-31 27h0m82-21h0"/>
<path transform="scale(.1)" stroke="#000" stroke-opacity="0.62" stroke-width="8" stroke-linecap="square" fill="none" d="M4977 492h0m50-7h0m-102 17h0m174 0h0m-102-44h0m-92 39h0m105-2h0m-21 30h0m-13-115h0m-2 75h0m46 14h0m-4-4h0m-20-59h0m-31 79h0m97-133h0m-88 81h0m50-56h0m-71 78h0m-12-70h0m132 54h0m-89 32h0m91-48h0m-102 13h0m55 47h0m32-51h0m-139-7h0m-35 36h0m-7 3h0m50 0h0m125-20h0m-80 6h0m-24 11h0m18-7h0m-28 14h0m57-51h0m-20-19h0m-67 10h0m91 26h0m-23 24h0m-11-16h0m-15 85h0m-12-56h0m28 43h0m-44-69h0m76-14h0m86 27h0m-85-71h0m0 17h0m7 58h0m-34-34h0m-34-3h0m117-6h0m-92 44h0m-52-30h0m124 24h0m-29 17h0m-29-112h0m39 107h0m-156-28h0m189-35h0m-24 95h0m-52-63h0m-45 34h0m62-3h0m-15-19h0m-27 37h0m23 7h0m52-73h0m-100 65h0m75-51h0m32-60h0m-23 60h0m8-8h0m-60 46h0m42-77h0m7 78h0m-108-60h0m26-1h0m22 104h0m-16-103h0m38 82h0m-8-13h0m71-50h0m-31 51h0m-8 23h0m8-1h0m-69-49h0m-70-60h0m91 37h0m17 33h0m-61-81h0m110 73h0m9 20h0m-31-50h0m9-15h0m-90 22h0m176-23h0m-44 29h0m19-12h0m-145-5h0m49 44h0m-26-13h0m153-7h0m-84 95h0m-71-96h0m21 10h0m-23-21h0m76 11h0m-132 42h0m114 28h0m-60-57h0m-3 16h0m16 18h0m34-126h0m-62 103h0m94 13h0m-12-54h0m-19 19h0m-6 35h0m-47-48h0m112 6h0m-38-14h0m-24 66h0m76-45h0m-111 53h0m-63-62h0m131 93h0m16-91h0m-55 3h0m-45-13h0m64-47h0m-56-46h0m86 112h0m-129-58h0m48 114h0m59-101h0m-50-19h0m-22-3h0m137 89h0m-25-9h0m-102 19h0m61-62h0m-106 25h0m22-10h0m-41-56h0m149 87h0m-40-30h0m2-25h0m29 93h0m-69-115h0m31-6h0m98 59h0m-78 10h0m-46-34h0m-28 101h0m57-34h0m71-50h0m-100-4h0m44-22h0m29 28h0m-86 34h0m110-58h0m-81 26h0m36 36h0m-33-63h0m-24 66h0m123-26h0m-134 86h0m99-119h0m-121-7h0m212 80h0m-199-75h0m32-19h0m48 7h0m-42 62h0m0 15h0m-14 7h0m-7-65h0m-40 34h0m108-12h0m38 23h0m-55-85h0m-26 75h0m-52 41h0m77 1h0m-79 11h0m132-61h0m-87 54h0m-32-68h0m106 5h0m-98-39h0m17 89h0m163-83h0m-200 60h0m53-39h0m1 65h0m46-78h0m-13-17h0m31-30h0m-79 109h0m109-14h0m-186-27h0m146 31h0m-27-45h0m-117 4h0m105-7h0m-51 39h0m27-8h0m71-33h0m-4-16h0m-6 57h0m-19 12h0m-15-91h0m75 73h0m-75-7h0m9-10h0m-87-36h0m157 67h0m-144 37h0m69-101h0m-54 17h0m97 53h0m-70-38h0m-23 14h0m-17 28h0m48 3h0m84-24h0m-35-126h0m-91 124h0m2 31h0m28-47h0m-90 32h0m81 23h0m52-51h0m18-8h0m-86 9h0m30 42h0m-23-81h0m103 74h0m-87-29h0m-63 58h0m54-144h0m21 100h0m40-9h0m-21-16h0m-16-2h0m130 11h0m-119-80h0m-9 99h0m38-80h0m-40 118h0m-6-67h0m40 4h0m-57-21h0m-61 31h0m117 16h0m-67-7h0m-15-77h0m85 14h0m-103 35h0m54 71h0m69 20h0m-43-140h0m-74 72h0m-5 6h0m123 6h0m-139 20h0m173-4h0m33-69h0m-127 63h0m58 24h0m-59-82h0m-2-2h0m15 15h0m34-14h0m8-3h0m15 75h0m-63-54h0m19 25h0m-70 10h0m-42-71h0m33 52h0m19-97h0m97 68h0m-72 34h0m35 10h0m-83-11h0m114 17h0m26-83h0m-14 0h0m-118 62h0m176 38h0m-126-42h0m63-50h0m-74 24h0m79 44h0m-45 25h0m-28-81h0m59-35h0m-32 69h0m-96 8h0m37 44h0m83-17h0m11-34h0m7 23h0m-28 17h0m72-104h0m-124 8h0m-40 82h0m14-34h0m21 45h0m110-33h0m-116-26h0m25-40h0m-52 69h0m74-1h0m5-34h0m-23-10h0m18-38h0m14 85h0m-47-4h0m73-3h0m45 43h0m-91-53h0m-66-33h0m70 45h0m8 59h0m3-48h0m-33-56h0m-11 37h0m59 30h0m-87-30h0m89-50h0m-50-1h0m-23 98h0m54 39h0m-71-48h0m44-94h0m18 68h0m-24 37h0m-2-17h0m16-48h0m20 60h0m53 5h0m-158-95h0m72 95h0m-82-40h0m35 25h0m112-40h0m17 38h0m-76 27h0m114-58h0m-94 16h0m29-28h0m-53 60h0m5 5h0m20 15h0m61-108h0m-39 34h0m-65 42h0m83-13h0m2 42h0m-37-38h0m6 33h0m-68-59h0m-17-19h0m79 8h0m-56 5h0m95 87h0m-50-106h0m3 4h0m7 49h0m80-54h0m-103-3h0m60-4h0m11 104h0m-150-27h0m200-37h0m-117 72h0m-8-80h0m-35 28h0m112-54h0m-25 49h0m37-23h0m-117 13h0m62-19h0m-70 34h0m-33-68h0m74-7h0m31-10h0m-35 77h0m77-48h0m-53 77h0m-55-31h0m97 28h0m-60-28h0m-32 7h0m57-41h0m99 44h0m-162-23h0m66-40h0m-70 67h0m42-30h0m56-8h0m-127-32h0m67 35h0m-12-26h0m-68 24h0m109 20h0m10 101h0m-90-135h0m67-68h0m27 87h0m124 1h0m-165 3h0m-6-25h0m67 38h0m-39-23h0m-112-8h0m-18-6h0m131 14h0m-14 70h0m24-22h0m-44-51h0m-54 69h0m127-59h0m-33 12h0m45 10h0m-74-59h0m-118-49h0m111 134h0m-24-54h0m67 70h0m-149-67h0m93 37h0m5-97h0m-99 2h0m98 23h0m-48 116h0m-7-87h0m137 12h0m-163 0h0m100 51h0m-40-110h0m22 16h0m30 67h0m-14-26h0m-58-51h0m77 106h0m25 39h0m-91-174h0m48 91h0m-40-82h0m111 0h0m-43 104h0m41-34h0m-19-7h0m-10 60h0m-39-117h0m23-48h0m49 91h0m-99 61h0m73-19h0m-74 9h0m36-41h0m-47 31h0m2 32h0m-53-88h0m101-27h0m85 12h0m-126 37h0m40 69h0m-31-72h0m88 19h0m-26 2h0m-66-25h0m-24-7h0m59 28h0m31 6h0m-19-37h0m-104 72h0m174-50h0m-47-23h0m-90 49h0m90 7h0m12-19h0m-63 1h0m-38-18h0m-40-31h0m125 24h0m-156-22h0m156 40h0m-44 25h0m63-34h0m-47 88h0m19-97h0m-73 3h0m101-60h0m-27 62h0m0 23h0m-112-26h0m-21 13h0m62 41h0m-54-24h0m43-30h0m-36 89h0m74-67h0m129-69h0m-122 31h0m-9 19h0m40 44h0m-23 17h0m-20-94h0m-70 81h0m69-14h0m54-53h0m30 63h0m18-1h0m-142-5h0m65-77h0m38 45h0m-24 73h0m46-79h0m-30 55h0m-29 2h0m22-58h0m42 8h0m-96-5h0m-67 55h0m30-111h0m78-13h0m-32 111h0m33-14h0m-33-50h0m30 66h0m-18 7h0m-120-72h0m-11 19h0m142-32h0m-36 45h0m-14-6h0m91 9h0m4 17h0m-79-14h0m73-24h0m-80 68h0m76-22h0m-70-32h0m47 23h0m25-58h0m1 4h0m-95 20h0m22 58h0m88 41h0m-96-75h0m102-72h0m-26 138h0m9-100h0m-54 34h0m-30-45h0m93 6h0m-5-8h0m-94-46h0m-87 158h0m94-86h0m76-40h0m-43 98h0m41 14h0m-48-115h0m8 78h0m-53-32h0m51 96h0m-32-114h0m23 6h0m13 4h0m-66-7h0m-35 92h0m168-69h0m-59 30h0m6-60h0m-61 65h0m31-15h0m-7 18h0m13-25h0m37-86h0m17 128h0m-71-113h0m44 28h0m-70 94h0m45-101h0m-60 56h0m82 0h0m-75-41h0m57 11h0m5 2h0m-6 20h0m35 42h0m-35-127h0m75 20h0m-60 104h0m19 5h0m-31 34h0m26-148h0m10 51h0m18-15h0m-12-22h0m-57 45h0m72-27h0m-41 74h0m-108 17h0m87-52h0m103-10h0m-62 50h0m38-1h0m-105-32h0m-43-62h0m58 35h0m-13-17h0m115-21h0m-60 2h0m-11 15h0m-102-45h0m146 126h0m-74-55h0m32-53h0m15 175h0m-56-179h0m-6 64h0m13 67h0m48-89h0m-20 5h0m-52 76h0m31-81h0m81 11h0m-21-91h0m-16 58h0m-54 79h0m108-124h0m-21 77h0m-92 52h0m18-62h0m-5 13h0m-15 51h0m110-77h0m-117 30h0m-6 9h0m47-4h0m-45 12h0m-27-27h0m56 17h0m50-9h0m-93 23h0m44 14h0m91 29h0m-85-97h0m13 30h0m-50-51h0m96 21h0m-6 79h0m-99-26h0m43-71h0m-28 61h0m80-33h0m-59 68h0m-10-67h0m-56 43h0m41-54h0m12 9h0m171 7h0m-109-28h0m5 63h0m-62 73h0m-29-129h0m-97-47h0m109 87h0m75-1h0m-78-34h0m121 20h0m6 14h0m-107-11h0m44 46h0m-44-12h0m-46-83h0m-16 45h0m47 46h0m16-44h0m2-40h0m-47 131h0m92-130h0m-91 69h0m-49-103h0m87 67h0m63-19h0m-104 58h0m16-11h0m-47-20h0m187-41h0m-95 51h0m10-1h0m31-21h0m-85 34h0m59-78h0m26 56h0m12 15h0m-112-15h0m97 55h0m-43-16h0m75-13h0m6 14h0m-120-74h0m6 115h0m101-102h0m-61 116h0m-40-80h0m24 33h0m-77-20h0m104 31h0m12-29h0m-69-4h0m22 59h0m42-69h0m-8 2h0m-28 22h0m19-60h0m46 64h0m12-45h0m-10 75h0m-14-43h0m-35-76h0m-49 58h0m104 23h0m-80-12h0m21-37h0m4 61h0m-55-49h0m55-23h0m-45 57h0m155-15h0m-134 59h0m34-135h0m-35-1h0m11 131h0m118 70h0m-52-139h0m-82-3h0m-22-20h0m72 41h0m-8-12h0m-84 28h0m75 10h0m7-70h0m40 69h0m-61-3h0m36-46h0m-11-11h0m56 12h0m-20 87h0m-45-43h0m71-99h0m33 96h0m-167-17h0m168-2h0m-38 37h0m-102-27h0m120-44h0m-82 9h0m-32 13h0m-80-17h0m21-12h0m57 77h0m-26-6h0m34-64h0m-64 36h0m80 24h0m-26-110h0m58 132h0m-26-47h0m23 5h0m105-14h0m-104 39h0m1-100h0m-6 52h0m-70 49h0m17-20h0m-2 7h0m101-55h0m-106 68h0m-5 5h0m64-76h0m-47 86h0m70-45h0m-31 36h0m-42-28h0m54 38h0m-42-59h0m32-1h0m-26 30h0m-12-32h0m38 15h0m-32-8h0m-42-25h0m25-13h0m111 122h0m-87-84h0m5-10h0m-21 48h0m54-84h0m-16 18h0m21 2h0m-16 1h0m-25 43h0m44-67h0m-62 21h0m-57 41h0m74-21h0m-30 80h0m-4-169h0m27 112h0m-36-17h0m-61-4h0m117-27h0m-57-4h0m28 81h0m31-64h0m-29 53h0m-9-64h0m72 34h0m27-9h0m-81 26h0m25-15h0m-57-27h0m9 6h0m102-15h0m-41 51h0m-100 22h0m89-25h0m-2 24h0m10-63h0m-51-8h0m-8 0h0m51 70h0m-22 2h0m66-13h0m-138-125h0m136 118h0m-124-47h0m81 27h0m-75-1h0m-9-8h0m104 20h0m-60 14h0m125-35h0m-89-44h0m32-7h0m-50 97h0m40-160h0m-69 32h0m25 37h0m127 101h0m-161-57h0m52 49h0m66-12h0m-132-146h0m-14 76h0m115-6h0m26 81h0m-60 1h0m-40 9h0m41-63h0m-44-57h0m23 100h0m-4-38h0m106 128h0m-154-63h0m67-48h0m-40-10h0m56 27h0m-44-37h0m61 78h0m-53-38h0m58-6h0m-83-12h0m50-44h0m-1 42h0m-38 64h0m50-96h0m45 21h0m-110-34h0m104 0h0m-37 63h0m-45 11h0m80-31h0m-52 28h0m4 25h0m34-47h0m-26-19h0m21-13h0m-35-20h0m122 60h0m-117 6h0"/>
<path transform="scale(.1)" stroke="#000" stroke-opacity="0.65" stroke-width="8" stroke-linecap="square" fill="none" d="M4979 749h0m1-71h0m35 11h0m29-43h0m10-49h0m-21 0h0m-26-66h0m30 241h0m-34-190h0m4 76h0m-37-20h0m36-101h0m27 104h0m1 88h0m-47-9h0m78-52h0m-93-22h0m97 50h0m-45-178h0m4-21h0m-24 92h0m34-20h0m-14 53h0m10 55h0m6-78h0m-9-29h0m-39 4h0m34-125h0m22 206h0m-66-121h0m19-108h0m-24 234h0m-7 154h0m96-55h0m-26-34h0m23-186h0m8 16h0m-55-159h0m1 79h0m45 181h0m-46-14h0m-15 2h0m37 106h0m-41-203h0m48 65h0m12-67h0m-35 71h0m38 47h0m-25-43h0m33 50h0m-79-157h0m70 144h0m-51-3h0m58-121h0m-17-47h0m-90 68h0m111 134h0m-52 34h0m40-174h0m-36-52h0m-23 252h0m14-151h0m19 62h0m-21-16h0m3-38h0m17-152h0m3 106h0m-17-11h0m-3 107h0m20-120h0m-1 153h0m1 33h0m34-345h0m-13 373h0m-25-162h0m-20-69h0m4 89h0m40-44h0m-48 55h0m14 117h0m7 14h0m2-356h0m-8 132h0m6 17h0m25 56h0m-36 209h0m1-225h0m-1 106h0m17-62h0m27-56h0m-13 126h0m-12-117h0m-13 143h0m-73 35h0m51-50h0m41-46h0m0-80h0m32 48h0m-23-23h0m-33 113h0m-18-98h0m4-139h0m52 143h0m-81-8h0m97 100h0m-22-49h0m0-14h0m1-18h0m-57 61h0m62-138h0m-21 10h0m17 193h0m-16-226h0m-8 59h0m12-27h0m-24 67h0m46-138h0m0 176h0m-29 42h0m-72-165h0m53 84h0m-20 30h0m71-32h0m-57-45h0m-2 87h0m39-75h0m1-134h0m9 68h0m-2 33h0m-8 119h0m-58 102h0m1-202h0m59 93h0m-13-82h0m16 61h0m-32 66h0m54-151h0m-56-41h0m-23 109h0m62-142h0m-34 156h0m-10 47h0m34-81h0m16 36h0m-2 23h0m-39 79h0m-12-99h0m10-107h0m-27 176h0m75-6h0m-94-39h0m59-4h0m4-1h0m6 43h0m-9-143h0m-67 74h0m3-78h0m59 40h0m-21 166h0m-19-48h0m32-118h0m11 53h0m-52 2h0m45-47h0m5-8h0m31-67h0m-53 123h0m16 36h0m-76-103h0m84 179h0m27-239h0m1 8h0m-21 41h0m-49 105h0m56-100h0m-40-40h0m20 166h0m-9-104h0m1-103h0m1 53h0m44 71h0m3-22h0m-32 130h0m9-116h0m0 23h0m19-84h0m-46-25h0m48 136h0m-43-7h0m47 19h0m-52-28h0m55-71h0m-86 115h0m21-120h0m69-1h0m-11 11h0m-12 3h0m-17-32h0m3 111h0m-17 13h0m30-172h0m26 116h0m-44-79h0m35 31h0m-56-14h0m24 19h0m10-69h0m-41 143h0m56-32h0m-59-3h0m38 95h0m-30-89h0m21 34h0m42-32h0m-27 97h0m-26-89h0m18 105h0m-25-36h0m59 9h0m-37-163h0m13 34h0m-43-144h0m15 137h0m42-79h0m-50 2h0m39 131h0m-32 30h0m15-96h0m-6 95h0m28 100h0m-19-147h0m-5-77h0m-7 120h0m-7-75h0m-25 79h0m66-52h0m-25 17h0m-3-36h0m26 213h0m1-168h0m-39-133h0m39 89h0m-13-27h0m-85 225h0m35-129h0m67-194h0m-28 133h0m-48 160h0m30-105h0m14 117h0m-26-196h0m33 95h0m-8 37h0m33-63h0m-71-117h0m-7 40h0m71 181h0m-20-64h0m-17-100h0m32-118h0m-26 68h0m12 125h0m-1 68h0m-3-10h0m4-284h0m-7 99h0m-10-130h0m3 177h0m-24 9h0m54 27h0m-4-83h0m29-3h0m-82 97h0m51 95h0m4-29h0m-64-67h0m26-203h0m59 85h0m-24 174h0m-26-158h0m45 86h0m-32 11h0m5 42h0m-5 31h0m-6-201h0m-21 165h0m-3-29h0m46-76h0m-22-52h0m-34 151h0m41-138h0m-18 36h0m3 4h0m-5 248h0m0-307h0m3 220h0m5-49h0m-3-93h0m50 59h0m-57 38h0m-23-189h0m31 92h0m11-70h0m9 89h0m-19 45h0m-3 62h0m-14-64h0m20-223h0m-24 154h0m40-68h0m-28 68h0m-24-4h0m66 127h0m-55-147h0m9-118h0m58 120h0m-14 179h0m-31-216h0m-19 127h0m6 35h0m35 88h0m-79-262h0m-8 96h0m84 7h0m-51-11h0m64-24h0m-23-19h0m-20 133h0m0-106h0m21 55h0m25 132h0m-14-207h0m-41 83h0m8-49h0m54 52h0m6-65h0m-20 97h0m-104-51h0m51-101h0m-14 117h0m86-66h0m-86 131h0m67-86h0m-60-109h0m31 234h0m50-211h0m-92 71h0m72-56h0m-20 144h0m-50 80h0m87-151h0m-32 41h0m-28 17h0m23-130h0m-5 41h0m-11 86h0m35 20h0m-34-24h0m5 88h0m-23-56h0m15-238h0m36 35h0m-45 108h0m36-5h0m-1 35h0m-57 82h0m86-157h0m-20 26h0m-43 0h0m-31-30h0m73 142h0m-6-67h0m-31 63h0m69-53h0m-47-100h0m-36 190h0m64-101h0m-5 97h0m-28-174h0m7 11h0m5 89h0m-66 59h0m50-11h0m-47-127h0m60 111h0m34 86h0m-42-260h0m-22 189h0m6-28h0m13-90h0m18 61h0m2-33h0m-42 41h0m-16-16h0m35-186h0m-19 57h0m9 201h0m61-77h0m-64-109h0m1 57h0m14-23h0m30-5h0m-19 50h0m4 19h0m-22-9h0m-3-10h0m46 83h0m6-142h0m-5 108h0m-15-60h0m31-52h0m-42-39h0m-14 147h0m14-10h0m30-111h0m-84 175h0m6-114h0m88 89h0m-65-1h0m-21-36h0m36 86h0m-16-101h0m26-52h0m-25 9h0m22-34h0m-20-7h0m-11 9h0m-15 109h0m46-67h0m27 65h0m-27-182h0m-10 64h0m-29 57h0m69 91h0m0-55h0m-63 16h0m55-144h0m-51 53h0m8-54h0m17 202h0m35 81h0m-68-131h0m56-101h0m-30 75h0m-18-1h0m-15-57h0m20 27h0m54-82h0m-17 262h0m-27-147h0m-20-67h0m-3-26h0m10 245h0m30-160h0m-6-54h0m-15 18h0m0 91h0m0-70h0m-10-84h0m18 95h0m35-28h0m-71-40h0m64-55h0m14 21h0m-58 70h0m1 130h0m15-221h0m27 147h0m-59 50h0m2-154h0m77 34h0m-39-28h0m-9-101h0m-1 105h0m34 29h0m-48-4h0m-29 74h0m3-137h0m56 76h0m40-90h0m-34-4h0m-24 80h0m31-13h0m-27 58h0m31 189h0m-42 0h0m32-63h0m-53-85h0m77-40h0m-61 4h0m13-48h0m8 73h0m-6-68h0m55-107h0m-44 134h0m-23-122h0m31 17h0m8 259h0m-16-225h0m-21 129h0m15-87h0m10-61h0m-35 130h0m8 19h0m7-45h0m9 100h0m-4-100h0m-23 5h0m26 14h0m-50 26h0m57-26h0m9 59h0m-38-129h0m34-80h0m30-43h0m-33 221h0m-15-254h0m39 84h0m-27 214h0m-36-168h0m1-5h0m43 167h0m-22-84h0m30 104h0m-47-87h0m72-96h0m-79-29h0m75 84h0m-50 22h0m12-32h0m-5 80h0m31-145h0m-30 85h0m22 68h0m-21-16h0m36 55h0m-55-86h0m32-104h0m-19 51h0m33 42h0m20 41h0m-8 52h0m-39 53h0m-35-256h0m75 201h0m-18 100h0m-18-209h0m-3 203h0m-24-228h0m17 13h0m-21 20h0m33 6h0m-23-65h0m-7 128h0m28-117h0m-21-40h0m48 149h0m-56-106h0m36 135h0m-23 45h0m20-89h0m-5 74h0m12-104h0m-25 44h0m35-165h0m-48 63h0m35 125h0m33-124h0m-32-57h0m-11 85h0m43-132h0m-56-3h0m1 128h0m13 112h0m-25-131h0m65 49h0m-66-2h0m-4-73h0m15-52h0m64 91h0m-43 12h0m-9-46h0m14 31h0m-34 110h0m64-38h0m-27-63h0m-11 85h0m-2 50h0m37-89h0m-32-88h0m-18 15h0m2-20h0m20 100h0m-14 106h0m11-137h0m-2-44h0m15-26h0m-21 236h0m8-248h0m-38 180h0m-20 41h0m87-172h0m-29-1h0m-33 74h0m7 13h0m28-99h0m-7 54h0m-7-22h0m38-41h0m-29 143h0m7-117h0m-42 11h0m-22-14h0m52 143h0m18-22h0m-5-65h0m-55-66h0m37 39h0m-28-117h0m39 102h0m-5 4h0m-7-75h0m30 125h0m-24 107h0m-19-72h0m18-65h0m25-2h0m-24-96h0m8 128h0m-19-126h0m38 106h0m5-17h0m19-92h0m-39 272h0m5-161h0m-49 89h0m23-72h0m-17-79h0m17 51h0m3-89h0m38 206h0m-68-75h0m57-12h0m-53-80h0m48-14h0m-48-24h0m55 98h0m-25-28h0m20-78h0m-38 155h0m33-121h0m-49 107h0m21 37h0m56-188h0m-10 55h0m-45 75h0m20-41h0m-11-96h0m5 101h0m27 75h0m-28-3h0m22-110h0m-12 97h0m-9 25h0m-2-103h0m-26-50h0m8-13h0m55 107h0m-46 80h0m-1-183h0m-17 32h0m72 17h0m-65-45h0m32 104h0m-26-75h0m9 116h0m8 26h0m18-39h0m-27-17h0m50-148h0m2 93h0m-44-47h0m26-59h0m-28 184h0m-28-16h0m2-65h0m38 138h0m33-191h0m-27-110h0m22 207h0m-40-38h0m39 43h0m-70 64h0m20-77h0m47-55h0m-40 47h0m8 134h0m37-187h0m-4-70h0m-53 64h0m2 70h0m24-85h0m3 19h0m4 76h0m-45-96h0m57 66h0m-19-20h0m34 62h0m-60-19h0m-11-49h0m20-49h0m-14 166h0m-1-103h0m-9 117h0m8-40h0m43-16h0m-31-217h0m-11 156h0m-15-74h0m48 92h0m20 36h0m6-14h0m-38-7h0m27 61h0m-6-113h0m-46 117h0m57-160h0m-27 3h0m1 246h0m-12-202h0m8-3h0m12-89h0m10 65h0m-19 258h0m32-182h0m-37 23h0m49 78h0m-52-196h0m45 100h0m-31-2h0m29 131h0m-49-46h0m-3-40h0m20-56h0m1-72h0m5 53h0m21-118h0m-13 44h0m25 138h0m-35-108h0m-7 35h0m-2 19h0m24 67h0m20-164h0m-44 72h0m18 6h0m-37-60h0m3 151h0m19-129h0m44-43h0m-101 76h0m46 22h0m-5-22h0m18-22h0m-26 30h0m-19-165h0m39 104h0m-38 67h0m40 113h0m-15-103h0m9-48h0m-30-106h0m-14 68h0m25 45h0m-26 63h0m60-120h0m-29 63h0m36 130h0m0-38h0m18-2h0m-29-11h0m21-30h0m1-56h0m-57 40h0m45 167h0m-20-246h0m-44 9h0m39 40h0m19 35h0m-25-24h0m-19-29h0m42-87h0m-16 77h0m10 109h0m-4 28h0m-12-49h0m-11-158h0m-3 107h0m42 171h0m-2-97h0m-35 85h0m6-145h0m54 84h0m6-158h0m-94 57h0m54 57h0m-30-91h0m32-35h0m-9 266h0m-5-235h0m22 170h0m-32-53h0m-34-51h0m39-21h0m26-56h0m2 103h0m-14-17h0m24-63h0m19 110h0m-40-83h0m-17 137h0m-17-109h0m28-33h0m49 90h0m-77-54h0m74 105h0m-42 42h0m-26-197h0m15 209h0m-69-140h0m81-97h0m10-86h0m-5 81h0m-26 100h0m17-64h0m3-17h0m35 87h0m-27 85h0m30-234h0m-96 128h0m49 99h0m16 72h0m-43-321h0m62 195h0m12 26h0m-33-47h0m-47-53h0m57 51h0m-13-109h0m-12 126h0m-10 29h0m31 54h0m-54-131h0m0-88h0m81 148h0m-57-32h0m64 66h0m-4-150h0m-53 67h0m59-40h0m-33 45h0m5-61h0m-28 75h0m33 3h0m19-76h0m-66 90h0m34-91h0m-39 164h0m-10-186h0m34 166h0m-24-61h0m26 114h0m27-76h0m-33-37h0m-32-174h0m19 66h0m11 130h0m34 73h0m-37-179h0m-10-41h0m70 96h0m-52-40h0m1 217h0m-25-98h0m-5-109h0m77 34h0m-63-107h0m6 163h0m38-67h0m6 33h0m-42 18h0m-22-111h0m39 59h0m-23-28h0m-11-37h0m77 112h0m-65-122h0m16-52h0m-10 36h0m20 125h0m-21-84h0m-21 53h0m45-49h0m26 3h0m2 30h0m8 82h0m-74-107h0m-52-61h0m72 59h0m-36-1h0m26 50h0m31-44h0m1-29h0m-32 88h0m5 31h0m33-107h0m18 106h0m-69-96h0m40 45h0m4 146h0m-24-249h0m49 287h0m-39-38h0m-4-143h0m-30 21h0m8-74h0m61 92h0m0-147h0m-39 8h0m1 181h0m48-16h0m-50-6h0m-37-80h0m21-159h0m11 67h0m41 31h0m0 54h0m-4 71h0m9-125h0m-73 88h0m82 85h0m-64-57h0m26-38h0m-36-17h0m43 18h0m-15-29h0m-9-54h0m-32 43h0m27 167h0m18-32h0m-31-117h0m-22-3h0m36 10h0m31 80h0m-49-137h0m69 169h0m-16-142h0m-27 98h0m2-66h0m51 192h0m-97-159h0m77-41h0m-26-13h0m-55 46h0m83-138h0m-62 44h0m-6 219h0m27-159h0m-4 20h0m20 12h0m-17-15h0m3 79h0m57-152h0m-31-3h0m-21-19h0m1 184h0m-32-172h0m50 30h0m35-19h0m-67 85h0m5 1h0m59-108h0m-25 165h0m-23-141h0m-24-46h0m35 206h0m5-107h0m-45 55h0m76 91h0m-96-243h0m98 116h0m-111-91h0m62 41h0m45 86h0m-62-60h0m-7-46h0m46 45h0m-3 1h0m-8-30h0m32 4h0m-28 197h0m29-203h0m-61 76h0m26 83h0m-19-56h0m7-96h0m44 169h0m-22-94h0m-27 121h0m-15-53h0m8-42h0m21-82h0m-10 49h0m-6-77h0m49-6h0m-34-29h0m-37 51h0m81 56h0m-86 16h0m19-63h0m-15 137h0m-12-101h0m32-146h0m-21 73h0m60-18h0m-69 228h0m17-40h0m56 21h0m1-70h0m-81-55h0m54-87h0m28-8h0m-42 198h0m-16-269h0m7 159h0m67-111h0m-78 221h0m59-127h0m-6 73h0m23 29h0m-41-12h0m-9-149h0m-3 49h0m41 44h0m-18-72h0m6 18h0m-62 98h0m48 65h0m40-117h0m-83-177h0m38 67h0m35 153h0m-69-201h0m74 249h0m-13 35h0m-14-184h0m-9 62h0m-22-13h0m-60-85h0m70-93h0m12 134h0m30 171h0m-60-30h0m45-122h0m-47 103h0m34-89h0m-37-33h0m15 90h0m-21 2h0m67 59h0m-58-88h0m7 100h0m28 9h0m-18-108h0m9 20h0m17 6h0m0 64h0m-20-18h0m3-94h0m1 63h0m-2-10h0m-27 80h0m41-118h0m-31-8h0m-15 14h0m35 74h0m-3-90h0m10 112h0m17-52h0m-13-59h0m-22 114h0m-4-11h0m44-18h0m-96-18h0m75-101h0m2 65h0m-7-98h0m-2 102h0m-28 62h0m49-103h0m3-203h0m-41 247h0m35-18h0m-13 98h0m-29 10h0m-13-169h0m19-27h0m9 49h0m-24 52h0m-16 15h0m39-60h0m-43 16h0m71-36h0m1 1h0m0-114h0m-18 272h0m-49-124h0m61-15h0m-10 17h0m29 14h0m-25 56h0m-45-75h0m33 50h0m30-141h0m4-72h0m-10 96h0m23 139h0m-55-103h0m-22 119h0m19-69h0m-7 56h0m57-126h0m2 62h0m-8 18h0m-6-66h0m-47 17h0m47 15h0m-3 140h0m-65-219h0m26 33h0m32-38h0m-40 83h0m23 19h0m1-141h0m-14 172h0m23-5h0m-39-91h0m-19 34h0m22 76h0m19 42h0m47-72h0m-78-76h0m62 34h0m-6 1h0m-46-60h0m74 149h0m-32-38h0m-13 93h0m38-158h0m-9 66h0m-29-61h0m-21-41h0m5 6h0m5 38h0m23 47h0m-62 91h0m71-118h0m-29 154h0m52-177h0m-72 172h0m24-82h0m20-13h0m14-22h0m6-28h0m-61 120h0m27-56h0m-42-277h0m44 235h0m39-128h0m-66 128h0m57 1h0m-19 46h0m25 54h0m-43-225h0m12 9h0m-36 205h0m39-126h0m-51 45h0m39-48h0m-27-83h0m7 141h0m21-140h0m1 211h0m21-60h0m-19-112h0m-3 167h0m-76 37h0m102-247h0m-40 30h0m0 191h0m10-68h0m15-104h0m28 34h0m-19 118h0m-8-158h0m20 34h0m-51 32h0m46 56h0m3-106h0m-64 26h0m64-76h0m-49 86h0m68 73h0m-70-139h0m-17-7h0m53 173h0m-12-265h0m-37 58h0m-6 17h0m11-125h0m-23 347h0m14-114h0m44-102h0m-32 129h0m11 89h0m39-39h0m-17-33h0m-35-106h0m39 89h0m-11-158h0m-9 53h0m-12 29h0m1 79h0m56 134h0m-8-122h0m-11 142h0m29-242h0m-84 38h0m61-95h0m-55 167h0m-7 37h0m69-157h0m-26 156h0m20-268h0m-66 178h0m72 124h0m-20-142h0m-35 70h0m25 106h0m42-98h0m-44-43h0m-52 24h0m51 46h0m41-164h0m-32-85h0m32 69h0m-35 100h0m7-63h0m3 63h0m-46-97h0m79 105h0m-34 151h0m-30-69h0m50-164h0m-37 89h0m-39-171h0m27 253h0m10 23h0m-41-160h0m57 122h0m12-5h0m-2-76h0m24 55h0m-61 5h0m35-57h0m0-39h0m-28-112h0m-1 252h0m-60-150h0m89 87h0m-61-58h0m51 94h0m-5-145h0m14 64h0m-47-8h0m39-8h0m-21 4h0m15 62h0m-33-101h0m48 5h0m-43-70h0m-14 25h0m38 135h0m6-41h0m13-19h0m-54 14h0m41 167h0m-4 2h0m-5-290h0m-3 92h0m5-6h0m45 53h0m-21-19h0m-41 19h0m2 50h0m-2-29h0m56-30h0m-61-72h0m14-233h0m-23 263h0m2-108h0m48 54h0m11 114h0m-18-2h0m1 3h0m-41-101h0m46-14h0m32 110h0m-73-16h0m41-48h0m21 104h0m-30-90h0m-10 135h0m1-235h0m-30 11h0m64 58h0m-64 34h0m-6 53h0m41-18h0m29-51h0m-6-106h0m1 289h0m-50-85h0m-5-56h0m43-54h0m-45 36h0m28 41h0m4-176h0m29 183h0m-72-52h0m71 188h0m-34-220h0m39 40h0m-35-127h0m-29 165h0m70-2h0m-5 22h0m-36-109h0m27-48h0m-43 196h0m15-256h0m14 102h0m-75 10h0m64-2h0m42 203h0m-28-146h0m23 21h0m-16-10h0m-3-44h0m-43 56h0m25-46h0m-9 31h0m45-57h0m-100 109h0m64-116h0m-30 99h0m52 47h0m-24-128h0m-38-45h0m77-30h0m-41 70h0m-17-67h0m8 147h0m4-13h0m-12-113h0m42 76h0m-30 54h0m35-91h0m-26 28h0m36-92h0m-58 105h0m-48-121h0m82 219h0m33-117h0m-32 29h0m-36 16h0m20 87h0m-6-225h0"/>
<path transform="scale(.1)" stroke="#000" stroke-opacity="0.35" stroke-width="8" stroke-linecap="square" fill="none" d="M4938 618h0m-4 59h0m-57-123h0m64 148h0m-29-52h0m33-31h0m-17 5h0m33 28h0m-60 15h0m7-32h0m-15 5h0m61 54h0m-6-91h0m-18 48h0m-7-15h0m-38 127h0m23-102h0m28-72h0m-24 86h0m17 9h0m-29-36h0m2 6h0m8-31h0m38 95h0m-20-51h0m-26-43h0m15 53h0m65-132h0m-17 190h0m-17-101h0m5-66h0m-63 95h0m22 33h0m-9-151h0m22 142h0m-39-29h0m47 20h0m21-9h0m-44-93h0m39 62h0m9 86h0m-46-103h0m56 44h0m-71-22h0m21 83h0m-26-111h0m63 88h0m-18-80h0m-35-121h0m49 168h0m-19-92h0m-55 51h0m40 95h0m83-150h0m-93 128h0m53-2h0m-34-76h0m-9-51h0m-7 35h0m55 128h0m-26-174h0m-14 61h0m42-28h0m-24 55h0m13-30h0m24 53h0m-55-32h0m-9 76h0m39-78h0m60 42h0m-56 66h0m5-67h0m-63-80h0m53 48h0m-32 79h0m30 11h0m-30-142h0m5 109h0m-29-54h0m51 15h0m-5-158h0m2 203h0m-43-38h0m27-21h0m100-17h0m-137-27h0m17 49h0m33-32h0m60 56h0m-71-49h0m5-29h0m-12 19h0m29-15h0m-58 21h0m68 48h0m-46-29h0m-11-42h0m33 8h0m-35 20h0m27 52h0m-16-20h0m27 90h0m-8-232h0m5 69h0m1 70h0m-42-147h0m47 90h0m16-35h0m-70-4h0m46 173h0m-2-157h0m12-14h0m-16 173h0m-4-173h0m2 106h0m-46 7h0m48-163h0m14 72h0m-30 130h0m34-101h0m2 153h0m25-151h0m8 16h0m-88-41h0m-24 21h0m53 140h0m-5-162h0m22 61h0m22-67h0m-12 2h0m-37 118h0m-2-28h0m3 27h0m23-28h0m40-96h0m-27 81h0m-54-16h0m42-64h0m-25 143h0m4-157h0m82 182h0m-86-76h0m5-1h0m31 108h0m7-12h0m-22-161h0m3 30h0m-87 94h0m57 27h0m-21-135h0"/>
<path transform="scale(.1)" stroke="#000" stroke-opacity="0.5" stroke-width="8" stroke-linecap="square" fill="none" d="M5085 729h0m-32 44h0m-22-11h0m25-34h0m-4 26h0m36 36h0m-31-57h0m1 16h0m-28-32h0m5 24h0m14 17h0m-4-17h0m30-23h0m-60 53h0m56-44h0m5 22h0m-39 27h0m-18-48h0m34 30h0m0 4h0m-24-24h0m50-1h0m-39-6h0m11 7h0m-47-30h0m78 61h0m-33-8h0m-13-6h0m35-21h0m-25 15h0m27-16h0m-8 9h0m-26 23h0m41-46h0m-25 17h0m-28 9h0m23-14h0m-26 27h0m49-14h0m-64 12h0m75-14h0m-66-24h0m31 17h0m-4 7h0m20 32h0m-5-35h0m-20-27h0m40 24h0m-32-20h0m11 25h0m-24 11h0m63-14h0m-51 17h0m-10-18h0m44 1h0m-27-13h0m-29 12h0m23-18h0m-8 31h0m15 26h0m-19-56h0m23 15h0m4-7h0m-49 51h0m27-24h0m41-21h0m-59 14h0m41 5h0m-47-16h0m78-19h0m-18-5h0m-39 5h0m35 44h0m-11-36h0m-1 26h0m22-34h0m-35 37h0m0-32h0m-5 62h0m25-20h0m-8-24h0m-16-3h0m1 0h0m-19-4h0m27-11h0m27 51h0m-47-54h0m-28 23h0m32-4h0m-17 9h0m10-1h0m15 11h0m-6-1h0m3-39h0m28 26h0m13-1h0m-35 39h0m-14-63h0m24-2h0m-10-9h0"/>
<path transform="scale(.1)" stroke="#000" stroke-opacity="0.25" stroke-width="8" stroke-linecap="square" fill="none" d="M4863 712h0m-56-78h0m-113 121h0m127-101h0m-109 20h0m34-21h0m-52 99h0m96 39h0m15-123h0m16-20h0m9 72h0m32-48h0m-92 79h0m2-113h0m71 10h0m-9 94h0m-102-71h0m57-6h0m-25 88h0m25-69h0m-6-45h0m20 90h0m-84-26h0m152 19h0m-5-42h0m-117-37h0m25 166h0m1-184h0m86 112h0m-53-37h0m-53-101h0m18 48h0m-10-28h0m6 78h0m17 59h0m-13 10h0m5-88h0m17-1h0m-66-104h0m-46 66h0m65 22h0m40 69h0m-109-101h0m133-8h0m-8 6h0m-102 0h0m50-46h0m16 48h0m73-34h0"/>
<rect x="463.1" y="29.3" width="54.9" height="54" fill="none" stroke="#000" stroke-width="1.5"/>
<path d="M487.8 29.3V83.3M463.1 56.3H518" stroke="#000" stroke-width="1.5"/>
<path d="M462.5 71.9h-1.5M462.5 61.4h-1.5M462.5 46.5h-1.5M462.5 34.7h-1.5M467.23 83.9v1.3M472.69 83.9v1.3M476.83 83.9v1.3M480.96 83.9v1.3M486.42 83.9v1.3M490.55 83.9v1.3M494.68 83.9v1.3M500.14 83.9v1.3M504.28 83.9v1.3M508.41 83.9v1.3M513.87 83.9v1.3" stroke="#000" stroke-width="1.1" stroke-opacity=".8"/>
<text x="465.5" y="36.8" font-size="7.8" style="stroke:#222;stroke-width:.08px;fill:#222">8</text>
<text x="516.8" y="36.8" font-size="7.8" text-anchor="end" style="stroke:#222;stroke-width:.08px;fill:#222">48</text>
<text x="465.5" y="81.6" font-size="7.8" style="stroke:#222;stroke-width:.08px;fill:#222">1</text>
<text x="516.8" y="81.6" font-size="7.8" text-anchor="end" style="stroke:#222;stroke-width:.08px;fill:#222">43</text>
<text x="103.5" y="54.3" font-size="10" text-anchor="middle" transform="rotate(-90 103.5 54.3)">CD27</text>
<path d="M110 95H298M333 95H517" stroke="#000" stroke-width="2"/>
<text x="300.5" y="97.2" font-size="9.9">CD11b</text>
<text x="161.5" y="138.0" font-size="9.9" text-anchor="middle">DN</text>
<text x="263.7" y="138.0" font-size="9.9" text-anchor="middle">CD11b</text>
<text x="368" y="138.0" font-size="9.9" text-anchor="middle">DP</text>
<text x="467.6" y="138.0" font-size="9.9" text-anchor="middle">CD27</text>
<text x="278.6" y="133.4" font-size="6">low</text>
<text x="481.2" y="132.6" font-size="6">low</text>
<text x="5" y="164.4" font-size="9.8">Bone Marrow</text>
<text x="108.3" y="146" font-size="6.9" text-anchor="end" letter-spacing="-0.35">100</text>
<text x="108.3" y="155.1" font-size="6.9" text-anchor="end">75</text>
<text x="108.3" y="165.3" font-size="6.9" text-anchor="end">50</text>
<text x="108.3" y="175.1" font-size="6.9" text-anchor="end">25</text>
<rect x="113.3" y="143" width="96.6" height="39" fill="none" stroke="#000" stroke-width="1.7"/>
<path d="M112.8 152.6h-2.1M112.8 162.8h-2.1M112.8 172.6h-2.1" stroke="#000" stroke-width="1.4"/>
<rect x="215.7" y="143" width="96.6" height="39" fill="none" stroke="#000" stroke-width="1.7"/>
<path d="M215.2 152.6h-2.1M215.2 162.8h-2.1M215.2 172.6h-2.1" stroke="#000" stroke-width="1.4"/>
<rect x="318" y="143" width="96.6" height="39" fill="none" stroke="#000" stroke-width="1.7"/>
<path d="M317.5 152.6h-2.1M317.5 162.8h-2.1M317.5 172.6h-2.1" stroke="#000" stroke-width="1.4"/>
<rect x="420.6" y="143" width="96.6" height="39" fill="none" stroke="#000" stroke-width="1.7"/>
<path d="M420.1 152.6h-2.1M420.1 162.8h-2.1M420.1 172.6h-2.1" stroke="#000" stroke-width="1.4"/>
<text x="4" y="210.4" font-size="9.8">Spleen</text>
<text x="108.3" y="190.8" font-size="6.9" text-anchor="end" letter-spacing="-0.35">100</text>
<text x="108.3" y="200.7" font-size="6.9" text-anchor="end">75</text>
<text x="108.3" y="211" font-size="6.9" text-anchor="end">50</text>
<text x="108.3" y="220.8" font-size="6.9" text-anchor="end">25</text>
<rect x="113.3" y="187.8" width="96.6" height="39.2" fill="none" stroke="#000" stroke-width="1.7"/>
<path d="M112.8 198.2h-2.1M112.8 208.5h-2.1M112.8 218.3h-2.1" stroke="#000" stroke-width="1.4"/>
<rect x="215.7" y="187.8" width="96.6" height="39.2" fill="none" stroke="#000" stroke-width="1.7"/>
<path d="M215.2 198.2h-2.1M215.2 208.5h-2.1M215.2 218.3h-2.1" stroke="#000" stroke-width="1.4"/>
<rect x="318" y="187.8" width="96.6" height="39.2" fill="none" stroke="#000" stroke-width="1.7"/>
<path d="M317.5 198.2h-2.1M317.5 208.5h-2.1M317.5 218.3h-2.1" stroke="#000" stroke-width="1.4"/>
<rect x="420.6" y="187.8" width="96.6" height="39.2" fill="none" stroke="#000" stroke-width="1.7"/>
<path d="M420.1 198.2h-2.1M420.1 208.5h-2.1M420.1 218.3h-2.1" stroke="#000" stroke-width="1.4"/>
<text x="4.4" y="254.4" font-size="9.8">Liver</text>
<text x="108.3" y="235.4" font-size="6.9" text-anchor="end" letter-spacing="-0.35">100</text>
<text x="108.3" y="245.4" font-size="6.9" text-anchor="end">75</text>
<text x="108.3" y="255.6" font-size="6.9" text-anchor="end">50</text>
<text x="108.3" y="265.6" font-size="6.9" text-anchor="end">25</text>
<rect x="113.3" y="232.4" width="96.6" height="39.4" fill="none" stroke="#000" stroke-width="1.7"/>
<path d="M112.8 242.9h-2.1M112.8 253.1h-2.1M112.8 263.1h-2.1" stroke="#000" stroke-width="1.4"/>
<rect x="215.7" y="232.4" width="96.6" height="39.4" fill="none" stroke="#000" stroke-width="1.7"/>
<path d="M215.2 242.9h-2.1M215.2 253.1h-2.1M215.2 263.1h-2.1" stroke="#000" stroke-width="1.4"/>
<rect x="318" y="232.4" width="96.6" height="39.4" fill="none" stroke="#000" stroke-width="1.7"/>
<path d="M317.5 242.9h-2.1M317.5 253.1h-2.1M317.5 263.1h-2.1" stroke="#000" stroke-width="1.4"/>
<rect x="420.6" y="232.4" width="96.6" height="39.4" fill="none" stroke="#000" stroke-width="1.7"/>
<path d="M420.1 242.9h-2.1M420.1 253.1h-2.1M420.1 263.1h-2.1" stroke="#000" stroke-width="1.4"/>
<text x="5.6" y="298" font-size="9.8">Lymph nodes</text>
<text x="108.3" y="280.8" font-size="6.9" text-anchor="end" letter-spacing="-0.35">100</text>
<text x="108.3" y="287.4" font-size="6.9" text-anchor="end">75</text>
<text x="108.3" y="297.9" font-size="6.9" text-anchor="end">50</text>
<text x="108.3" y="307.8" font-size="6.9" text-anchor="end">25</text>
<rect x="113.3" y="277.8" width="96.6" height="34.7" fill="none" stroke="#000" stroke-width="1.7"/>
<path d="M112.8 284.9h-2.1M112.8 295.4h-2.1M112.8 305.3h-2.1" stroke="#000" stroke-width="1.4"/>
<rect x="215.7" y="277.8" width="96.6" height="34.7" fill="none" stroke="#000" stroke-width="1.7"/>
<path d="M215.2 284.9h-2.1M215.2 295.4h-2.1M215.2 305.3h-2.1" stroke="#000" stroke-width="1.4"/>
<rect x="318" y="277.8" width="96.6" height="34.7" fill="none" stroke="#000" stroke-width="1.7"/>
<path d="M317.5 284.9h-2.1M317.5 295.4h-2.1M317.5 305.3h-2.1" stroke="#000" stroke-width="1.4"/>
<rect x="420.6" y="277.8" width="96.6" height="34.7" fill="none" stroke="#000" stroke-width="1.7"/>
<path d="M420.1 284.9h-2.1M420.1 295.4h-2.1M420.1 305.3h-2.1" stroke="#000" stroke-width="1.4"/>
<text x="5" y="340" font-size="9.8">Peripheral Blood</text>
<text x="108.3" y="322.7" font-size="6.9" text-anchor="end" letter-spacing="-0.35">100</text>
<text x="108.3" y="330" font-size="6.9" text-anchor="end">75</text>
<text x="108.3" y="340.1" font-size="6.9" text-anchor="end">50</text>
<text x="108.3" y="350.3" font-size="6.9" text-anchor="end">25</text>
<rect x="113.3" y="319.7" width="96.6" height="39" fill="none" stroke="#000" stroke-width="1.7"/>
<path d="M112.8 327.5h-2.1M112.8 337.6h-2.1M112.8 347.8h-2.1" stroke="#000" stroke-width="1.4"/>
<rect x="215.7" y="319.7" width="96.6" height="39" fill="none" stroke="#000" stroke-width="1.7"/>
<path d="M215.2 327.5h-2.1M215.2 337.6h-2.1M215.2 347.8h-2.1" stroke="#000" stroke-width="1.4"/>
<rect x="318" y="319.7" width="96.6" height="39" fill="none" stroke="#000" stroke-width="1.7"/>
<path d="M317.5 327.5h-2.1M317.5 337.6h-2.1M317.5 347.8h-2.1" stroke="#000" stroke-width="1.4"/>
<rect x="420.6" y="319.7" width="96.6" height="39" fill="none" stroke="#000" stroke-width="1.7"/>
<path d="M420.1 327.5h-2.1M420.1 337.6h-2.1M420.1 347.8h-2.1" stroke="#000" stroke-width="1.4"/>
<path d="M116.6 179.5h6.2v2.5h-6.2zM128.7 181.5h6.2v0.5h-6.2zM140.8 175.5h6.2v6.5h-6.2zM152.9 180.9h6.2v1.1h-6.2zM177.1 181.5h6.2v0.5h-6.2zM189.2 180.5h6.2v1.5h-6.2zM201.3 179.9h6.2v2.1h-6.2zM219 167.9h6.2v14.1h-6.2zM231.1 154.5h6.2v27.5h-6.2zM243.2 155.2h6.2v26.8h-6.2zM255.3 165.3h6.2v16.7h-6.2zM267.4 170.7h6.2v11.3h-6.2zM279.5 169.9h6.2v12.1h-6.2zM291.6 169.9h6.2v12.1h-6.2zM303.7 164.2h6.2v17.8h-6.2zM321.3 168.5h6.2v13.5h-6.2zM333.4 171.9h6.2v10.1h-6.2zM345.5 176.5h6.2v5.5h-6.2zM357.6 163h6.2v19h-6.2zM369.7 159.8h6.2v22.2h-6.2zM381.8 163.8h6.2v18.2h-6.2zM393.9 165.8h6.2v16.2h-6.2zM406 170.1h6.2v11.9h-6.2zM423.9 171.5h6.2v10.5h-6.2zM436 181.9h6.2v0.1h-6.2zM448.1 180.3h6.2v1.7h-6.2zM460.2 177.6h6.2v4.4h-6.2zM472.3 175.5h6.2v6.5h-6.2zM484.4 172.9h6.2v9.1h-6.2zM496.5 173.1h6.2v8.9h-6.2zM508.6 172.9h6.2v9.1h-6.2zM116.6 224.6h6.2v2.4h-6.2zM128.7 222.2h6.2v4.8h-6.2zM140.8 219.1h6.2v7.9h-6.2zM152.9 226.5h6.2v0.5h-6.2zM177.1 226.9h6.2v0.1h-6.2zM189.2 225.1h6.2v1.9h-6.2zM201.3 226.5h6.2v0.5h-6.2zM219 222h6.2v5h-6.2zM231.1 209.8h6.2v17.2h-6.2zM243.2 212.1h6.2v14.9h-6.2zM255.3 220.5h6.2v6.5h-6.2zM267.4 223.1h6.2v3.9h-6.2zM279.5 222.2h6.2v4.8h-6.2zM291.6 222.6h6.2v4.4h-6.2zM303.7 221.1h6.2v5.9h-6.2zM321.3 212.1h6.2v14.9h-6.2zM333.4 210.8h6.2v16.2h-6.2zM345.5 212.9h6.2v14.1h-6.2zM357.6 203.4h6.2v23.6h-6.2zM369.7 205.4h6.2v21.6h-6.2zM381.8 212.5h6.2v14.5h-6.2zM393.9 217.5h6.2v9.5h-6.2zM406 215.1h6.2v11.9h-6.2zM423.9 209.4h6.2v17.6h-6.2zM436 225.5h6.2v1.5h-6.2zM448.1 223.9h6.2v3.1h-6.2zM460.2 218.5h6.2v8.5h-6.2zM472.3 212.1h6.2v14.9h-6.2zM484.4 206.8h6.2v20.2h-6.2zM496.5 202.8h6.2v24.2h-6.2zM508.6 206h6.2v21h-6.2zM116.6 271.3h6.2v0.5h-6.2zM128.7 268.1h6.2v3.7h-6.2zM140.8 268.1h6.2v3.7h-6.2zM152.9 271.7h6.2v0.1h-6.2zM177.1 271.7h6.2v0.1h-6.2zM201.3 271.5h6.2v0.3h-6.2zM219 266h6.2v5.8h-6.2zM231.1 252.6h6.2v19.2h-6.2zM243.2 259.3h6.2v12.5h-6.2zM255.3 266.6h6.2v5.2h-6.2zM267.4 269.1h6.2v2.7h-6.2zM279.5 268.7h6.2v3.1h-6.2zM291.6 269.3h6.2v2.5h-6.2zM303.7 269.3h6.2v2.5h-6.2zM321.3 259.7h6.2v12.1h-6.2zM333.4 258.7h6.2v13.1h-6.2zM345.5 259.3h6.2v12.5h-6.2zM357.6 249.6h6.2v22.2h-6.2zM369.7 253.2h6.2v18.6h-6.2zM381.8 259.3h6.2v12.5h-6.2zM393.9 265.3h6.2v6.5h-6.2zM406 262.7h6.2v9.1h-6.2zM423.9 252h6.2v19.8h-6.2zM436 268.7h6.2v3.1h-6.2zM448.1 261.3h6.2v10.5h-6.2zM460.2 260.7h6.2v11.1h-6.2zM472.3 254.2h6.2v17.6h-6.2zM484.4 248.6h6.2v23.2h-6.2zM496.5 242.5h6.2v29.3h-6.2zM508.6 245.9h6.2v25.9h-6.2zM116.6 312.4h6.2v0.1h-6.2zM128.7 309.8h6.2v2.7h-6.2zM140.8 307.7h6.2v4.8h-6.2zM152.9 309.8h6.2v2.7h-6.2zM165 310.8h6.2v1.7h-6.2zM177.1 311.6h6.2v0.9h-6.2zM189.2 311.2h6.2v1.3h-6.2zM201.3 311.6h6.2v0.9h-6.2zM219 299.4h6.2v13.1h-6.2zM231.1 289.3h6.2v23.2h-6.2zM243.2 291.7h6.2v20.8h-6.2zM255.3 297.8h6.2v14.7h-6.2zM267.4 302.4h6.2v10.1h-6.2zM279.5 302.4h6.2v10.1h-6.2zM291.6 303h6.2v9.5h-6.2zM303.7 304h6.2v8.5h-6.2zM321.3 295.3h6.2v17.2h-6.2zM333.4 302.4h6.2v10.1h-6.2zM345.5 300h6.2v12.5h-6.2zM357.6 293.3h6.2v19.2h-6.2zM369.7 294.3h6.2v18.2h-6.2zM381.8 294.3h6.2v18.2h-6.2zM393.9 296.3h6.2v16.2h-6.2zM406 293.9h6.2v18.6h-6.2zM423.9 302.4h6.2v10.1h-6.2zM436 309.4h6.2v3.1h-6.2zM448.1 309.8h6.2v2.7h-6.2zM460.2 309.4h6.2v3.1h-6.2zM472.3 303.8h6.2v8.7h-6.2zM484.4 302.4h6.2v10.1h-6.2zM496.5 300.8h6.2v11.7h-6.2zM508.6 299.8h6.2v12.7h-6.2zM128.7 357.6h6.2v1.1h-6.2zM140.8 357.6h6.2v1.1h-6.2zM152.9 358.2h6.2v0.5h-6.2zM189.2 358h6.2v0.7h-6.2zM219 357.6h6.2v1.1h-6.2zM231.1 344.6h6.2v14.1h-6.2zM243.2 349h6.2v9.7h-6.2zM255.3 354.3h6.2v4.4h-6.2zM267.4 357.2h6.2v1.5h-6.2zM279.5 356.2h6.2v2.5h-6.2zM291.6 357.6h6.2v1.1h-6.2zM303.7 357.6h6.2v1.1h-6.2zM321.3 345.6h6.2v13.1h-6.2zM333.4 335.9h6.2v22.8h-6.2zM345.5 343.5h6.2v15.2h-6.2zM357.6 336.5h6.2v22.2h-6.2zM369.7 340.9h6.2v17.8h-6.2zM381.8 348h6.2v10.7h-6.2zM393.9 354.7h6.2v4h-6.2zM406 345.6h6.2v13.1h-6.2zM423.9 334.1h6.2v24.6h-6.2zM436 358.6h6.2v0.1h-6.2zM448.1 345.2h6.2v13.5h-6.2zM460.2 347h6.2v11.7h-6.2zM472.3 339.5h6.2v19.2h-6.2zM484.4 333.4h6.2v25.3h-6.2zM496.5 325.8h6.2v32.9h-6.2zM508.6 334.1h6.2v24.6h-6.2z" fill="#000"/>
<path d="M117.7 178.8h4M129.8 180.8h4M143.9 175.5V173.3M141.9 173.4h4M154 180.2h4M166.1 181.6h4M178.2 180.8h4M190.3 179.8h4M202.4 179.2h4M222.1 167.9V163.7M220.1 163.8h4M234.2 154.5V152.2M232.2 152.3h4M246.3 155.2V151M244.3 151.1h4M258.4 165.3V163.1M256.4 163.2h4M270.5 170.7V168.8M268.5 168.9h4M282.6 169.9V167.4M280.6 167.5h4M294.7 169.9V166.8M292.7 166.9h4M306.8 164.2V162.7M304.8 162.8h4M324.4 168.5V163.9M322.4 164h4M336.5 171.9V169.6M334.5 169.7h4M348.6 176.5V174.4M346.6 174.5h4M360.7 163V160.9M358.7 161h4M372.8 159.8V156.4M370.8 156.5h4M384.9 163.8V161.5M382.9 161.6h4M397 165.8V159.9M395 160h4M437.1 181.2h4M449.2 179.6h4M463.3 177.6V177M461.3 177.1h4M475.4 175.5V172.6M473.4 172.7h4M487.5 172.9V171.6M485.5 171.7h4M499.6 173.1V170M497.6 170.1h4M511.7 172.9V171.4M509.7 171.5h4M119.7 224.6V223.7M117.7 223.8h4M131.8 222.2V221M129.8 221.1h4M143.9 219.1V214M141.9 214.1h4M154 225.8h4M166.1 226.8h4M178.2 226.2h4M190.3 224.4h4M202.4 225.8h4M220.1 221.3h4M246.3 212.1V210.9M244.3 211h4M258.4 220.5V218.6M256.4 218.7h4M268.5 222.4h4M282.6 222.2V221M280.6 221.1h4M294.7 222.6V221M292.7 221.1h4M306.8 221.1V220M304.8 220.1h4M324.4 212.1V205.5M322.4 205.6h4M348.6 212.9V207.9M346.6 208h4M360.7 203.4V197.8M358.7 197.9h4M372.8 205.4V203.3M370.8 203.4h4M384.9 212.5V210.3M382.9 210.4h4M397 217.5V215M395 215.1h4M409.1 215.1V214M407.1 214.1h4M427 209.4V204.9M425 205h4M437.1 224.8h4M449.2 223.2h4M463.3 218.5V214M461.3 214.1h4M475.4 212.1V208.3M473.4 208.4h4M487.5 206.8V204.3M485.5 204.4h4M499.6 202.8V198.2M497.6 198.3h4M511.7 206V202.9M509.7 203h4M117.7 270.6h4M129.8 267.4h4M141.9 267.4h4M154 271h4M166.1 271.4h4M178.2 271h4M190.3 271.2h4M202.4 270.8h4M220.1 265.3h4M234.2 252.6V249.5M232.2 249.6h4M246.3 259.3V255.5M244.3 255.6h4M256.4 265.9h4M268.5 268.4h4M280.6 268h4M292.7 268.6h4M304.8 268.6h4M324.4 259.7V255.7M322.4 255.8h4M336.5 258.7V258.2M334.5 258.3h4M348.6 259.3V255.1M346.6 255.2h4M360.7 249.6V245M358.7 245.1h4M372.8 253.2V251.1M370.8 251.2h4M384.9 259.3V257.1M382.9 257.2h4M397 265.3V262.2M395 262.3h4M409.1 262.7V262.2M407.1 262.3h4M427 252V247.5M425 247.6h4M437.1 268h4M451.2 261.3V256.1M449.2 256.2h4M463.3 260.7V256.1M461.3 256.2h4M475.4 254.2V251.1M473.4 251.2h4M487.5 248.6V246M485.5 246.1h4M499.6 242.5V238.4M497.6 238.5h4M511.7 245.9V244.4M509.7 244.5h4M117.7 311.7h4M129.8 309.1h4M141.9 307h4M154 309.1h4M166.1 310.1h4M178.2 310.9h4M190.3 310.5h4M202.4 310.9h4M234.2 289.3V287.3M232.2 287.4h4M246.3 291.7V288.2M244.3 288.3h4M258.4 297.8V293.8M256.4 293.9h4M270.5 302.4V298.9M268.5 299h4M282.6 302.4V297.8M280.6 297.9h4M294.7 303V301.9M292.7 302h4M306.8 304V302.5M304.8 302.6h4M324.4 295.3V294.8M322.4 294.9h4M336.5 302.4V300.9M334.5 301h4M348.6 300V296.4M346.6 296.5h4M360.7 293.3V289.2M358.7 289.3h4M372.8 294.3V289.4M370.8 289.5h4M384.9 294.3V291.8M382.9 291.9h4M397 296.3V290.2M395 290.3h4M427 302.4V299.9M425 300h4M437.1 308.7h4M449.2 309.1h4M461.3 308.7h4M475.4 303.8V301.9M473.4 302h4M487.5 302.4V299.3M485.5 299.4h4M499.6 300.8V295.8M497.6 295.9h4M511.7 299.8V298.5M509.7 298.6h4M117.7 358.5h4M129.8 356.9h4M141.9 356.9h4M154 357.5h4M166.1 358.6h4M178.2 358.4h4M190.3 357.3h4M202.4 358.3h4M220.1 356.9h4M234.2 344.6V337M232.2 337.1h4M246.3 349V343M244.3 343.1h4M258.4 354.3V353.7M256.4 353.8h4M268.5 356.5h4M280.6 355.5h4M292.7 356.9h4M304.8 356.9h4M336.5 335.9V326.5M334.5 326.6h4M348.6 343.5V340M346.6 340.1h4M360.7 336.5V329.9M358.7 330h4M372.8 340.9V335.6M370.8 335.7h4M384.9 348V346.1M382.9 346.2h4M397 354.7V352.7M395 352.8h4M437.1 357.9h4M451.2 345.2V338M449.2 338.1h4M463.3 347V341M461.3 341.1h4M475.4 339.5V332.9M473.4 333h4M487.5 333.4V331.3M485.5 331.4h4M499.6 325.8V323.2M497.6 323.3h4" stroke="#000" stroke-width="1.3" fill="none"/>
<text x="119.1" y="371.2" font-size="7.7" text-anchor="middle">0</text>
<text x="129.7" y="371.2" font-size="7.7" text-anchor="middle">4</text>
<text x="143.6" y="371.2" font-size="7.7" text-anchor="middle">5</text>
<text x="155.2" y="371.2" font-size="7.7" text-anchor="middle">7</text>
<text x="166.9" y="371.2" font-size="7.7" text-anchor="middle">10</text>
<text x="178.4" y="371.2" font-size="7.7" text-anchor="middle">14</text>
<text x="191.3" y="371.2" font-size="7.7" text-anchor="middle">21</text>
<text x="204.9" y="371.2" font-size="7.7" text-anchor="middle">28</text>
<text x="221.5" y="371.2" font-size="7.7" text-anchor="middle">0</text>
<text x="232.1" y="371.2" font-size="7.7" text-anchor="middle">4</text>
<text x="246" y="371.2" font-size="7.7" text-anchor="middle">5</text>
<text x="257.6" y="371.2" font-size="7.7" text-anchor="middle">7</text>
<text x="269.3" y="371.2" font-size="7.7" text-anchor="middle">10</text>
<text x="280.8" y="371.2" font-size="7.7" text-anchor="middle">14</text>
<text x="293.7" y="371.2" font-size="7.7" text-anchor="middle">21</text>
<text x="307.3" y="371.2" font-size="7.7" text-anchor="middle">28</text>
<text x="323.8" y="371.2" font-size="7.7" text-anchor="middle">0</text>
<text x="334.4" y="371.2" font-size="7.7" text-anchor="middle">4</text>
<text x="348.3" y="371.2" font-size="7.7" text-anchor="middle">5</text>
<text x="359.9" y="371.2" font-size="7.7" text-anchor="middle">7</text>
<text x="371.6" y="371.2" font-size="7.7" text-anchor="middle">10</text>
<text x="383.1" y="371.2" font-size="7.7" text-anchor="middle">14</text>
<text x="396" y="371.2" font-size="7.7" text-anchor="middle">21</text>
<text x="409.6" y="371.2" font-size="7.7" text-anchor="middle">28</text>
<text x="426.4" y="371.2" font-size="7.7" text-anchor="middle">0</text>
<text x="437" y="371.2" font-size="7.7" text-anchor="middle">4</text>
<text x="450.9" y="371.2" font-size="7.7" text-anchor="middle">5</text>
<text x="462.5" y="371.2" font-size="7.7" text-anchor="middle">7</text>
<text x="474.2" y="371.2" font-size="7.7" text-anchor="middle">10</text>
<text x="485.7" y="371.2" font-size="7.7" text-anchor="middle">14</text>
<text x="498.6" y="371.2" font-size="7.7" text-anchor="middle">21</text>
<text x="512.2" y="371.2" font-size="7.7" text-anchor="middle">28</text>
<path d="M85.5 143V220.5M85.5 283V359.6" stroke="#000" stroke-width="2"/>
<text x="88" y="252" font-size="9.8" text-anchor="middle" transform="rotate(-90 88 252)">% in NK cells</text>
<path d="M112.3 382.9H252.2M385.3 382.9H520" stroke="#000" stroke-width="2"/>
<text x="254.8" y="385.6" font-size="9.85">days following DT injection</text>
<text x="149.6" y="426.5" font-size="9.9">DN</text>
<rect x="114.3" y="432.5" width="86.9" height="40.9" fill="none" stroke="#000" stroke-width="1.7"/>
<path d="M113.8 465.22h-2M113.8 457.04h-2M113.8 448.86h-2M113.8 440.68h-2" stroke="#000" stroke-width="1.2"/>
<text x="108.4" y="477.2" font-size="6.2" text-anchor="end" style="stroke:none;fill:#222">0</text>
<text x="108.4" y="468.02" font-size="6.2" text-anchor="end" style="stroke:none;fill:#222">2</text>
<text x="108.4" y="459.84" font-size="6.2" text-anchor="end" style="stroke:none;fill:#222">4</text>
<text x="108.4" y="451.66" font-size="6.2" text-anchor="end" style="stroke:none;fill:#222">6</text>
<text x="108.4" y="443.48" font-size="6.2" text-anchor="end" style="stroke:none;fill:#222">8</text>
<text x="108.4" y="433.9" font-size="6.2" text-anchor="end" style="stroke:none;fill:#222">10</text>
<text x="121.6" y="484" font-size="8" text-anchor="middle">3</text>
<text x="136.05" y="484" font-size="8" text-anchor="middle">4</text>
<text x="150.5" y="484" font-size="8" text-anchor="middle">8</text>
<text x="164.95" y="484" font-size="8" text-anchor="middle">12</text>
<text x="179.4" y="484" font-size="8" text-anchor="middle">28</text>
<text x="193.85" y="484" font-size="8" text-anchor="middle">50</text>
<text x="246.3" y="426.5" font-size="9.9">CD11b</text>
<text x="275.8" y="421.8" font-size="6.3">low</text>
<rect x="220.7" y="432.5" width="85.8" height="40.9" fill="none" stroke="#000" stroke-width="1.7"/>
<path d="M220.2 467.56h-2M220.2 461.71h-2M220.2 455.87h-2M220.2 450.03h-2M220.2 444.19h-2M220.2 438.34h-2" stroke="#000" stroke-width="1.2"/>
<text x="216.3" y="477.2" font-size="6.4" text-anchor="end" style="stroke:none;fill:#333">0</text>
<text x="216.3" y="469.56" font-size="6.4" text-anchor="end" style="stroke:none;fill:#333">10</text>
<text x="216.3" y="457.87" font-size="6.4" text-anchor="end" style="stroke:none;fill:#333">30</text>
<text x="216.3" y="446.19" font-size="6.4" text-anchor="end" style="stroke:none;fill:#333">50</text>
<text x="216.3" y="434.5" font-size="6.4" text-anchor="end" style="stroke:none;fill:#333">70</text>
<text x="228" y="484" font-size="8" text-anchor="middle">3</text>
<text x="242.45" y="484" font-size="8" text-anchor="middle">4</text>
<text x="256.9" y="484" font-size="8" text-anchor="middle">8</text>
<text x="271.35" y="484" font-size="8" text-anchor="middle">12</text>
<text x="285.8" y="484" font-size="8" text-anchor="middle">28</text>
<text x="300.25" y="484" font-size="8" text-anchor="middle">50</text>
<text x="362" y="426.5" font-size="9.9">DP</text>
<rect x="326.1" y="432.5" width="86.2" height="40.9" fill="none" stroke="#000" stroke-width="1.7"/>
<path d="M325.6 467.56h-2M325.6 461.71h-2M325.6 455.87h-2M325.6 450.03h-2M325.6 444.19h-2M325.6 438.34h-2" stroke="#000" stroke-width="1.2"/>
<text x="321.7" y="477.2" font-size="6.4" text-anchor="end" style="stroke:none;fill:#333">0</text>
<text x="321.7" y="469.56" font-size="6.4" text-anchor="end" style="stroke:none;fill:#333">10</text>
<text x="321.7" y="457.87" font-size="6.4" text-anchor="end" style="stroke:none;fill:#333">30</text>
<text x="321.7" y="446.19" font-size="6.4" text-anchor="end" style="stroke:none;fill:#333">50</text>
<text x="321.7" y="434.5" font-size="6.4" text-anchor="end" style="stroke:none;fill:#333">70</text>
<text x="333.4" y="484" font-size="8" text-anchor="middle">3</text>
<text x="347.85" y="484" font-size="8" text-anchor="middle">4</text>
<text x="362.3" y="484" font-size="8" text-anchor="middle">8</text>
<text x="376.75" y="484" font-size="8" text-anchor="middle">12</text>
<text x="391.2" y="484" font-size="8" text-anchor="middle">28</text>
<text x="405.65" y="484" font-size="8" text-anchor="middle">50</text>
<text x="462.6" y="426.5" font-size="9.9">CD27</text>
<text x="488" y="419.8" font-size="6.3">low</text>
<rect x="431.6" y="432.5" width="85.5" height="40.9" fill="none" stroke="#000" stroke-width="1.7"/>
<path d="M431.1 467.56h-2M431.1 461.71h-2M431.1 455.87h-2M431.1 450.03h-2M431.1 444.19h-2M431.1 438.34h-2" stroke="#000" stroke-width="1.2"/>
<text x="427.2" y="477.2" font-size="6.4" text-anchor="end" style="stroke:none;fill:#333">0</text>
<text x="427.2" y="469.56" font-size="6.4" text-anchor="end" style="stroke:none;fill:#333">10</text>
<text x="427.2" y="457.87" font-size="6.4" text-anchor="end" style="stroke:none;fill:#333">30</text>
<text x="427.2" y="446.19" font-size="6.4" text-anchor="end" style="stroke:none;fill:#333">50</text>
<text x="427.2" y="434.5" font-size="6.4" text-anchor="end" style="stroke:none;fill:#333">70</text>
<text x="438.9" y="484" font-size="8" text-anchor="middle">3</text>
<text x="453.35" y="484" font-size="8" text-anchor="middle">4</text>
<text x="467.8" y="484" font-size="8" text-anchor="middle">8</text>
<text x="482.25" y="484" font-size="8" text-anchor="middle">12</text>
<text x="496.7" y="484" font-size="8" text-anchor="middle">28</text>
<text x="511.15" y="484" font-size="8" text-anchor="middle">50</text>
<path d="M118.3 445.18h6.6v28.22h-6.6zM132.75 456.22h6.6v17.18h-6.6zM147.2 458.27h6.6v15.13h-6.6zM161.65 458.27h6.6v15.13h-6.6zM176.1 459.08h6.6v14.31h-6.6zM190.55 460.72h6.6v12.68h-6.6zM224.7 448.68h6.6v24.72h-6.6zM239.15 458.44h6.6v14.96h-6.6zM253.6 465.92h6.6v7.48h-6.6zM268.05 464.93h6.6v8.47h-6.6zM282.5 462.94h6.6v10.46h-6.6zM296.95 462.94h6.6v10.46h-6.6zM330.1 452.19h6.6v21.21h-6.6zM344.55 452.95h6.6v20.45h-6.6zM359 458.68h6.6v14.72h-6.6zM373.45 462.18h6.6v11.22h-6.6zM387.9 463.41h6.6v9.99h-6.6zM402.35 464.69h6.6v8.71h-6.6zM435.6 467.44h6.6v5.96h-6.6zM450.05 452.42h6.6v20.98h-6.6zM464.5 438.46h6.6v34.94h-6.6zM478.95 436.47h6.6v36.93h-6.6zM493.4 437.88h6.6v35.52h-6.6zM507.85 436.47h6.6v36.93h-6.6z" fill="#000"/>
<path d="M121.6 445.18V442.41M119.6 442.51h4M136.05 456.22V452.22M134.05 452.32h4M150.5 458.27V453.04M148.5 453.14h4M164.95 458.27V454.27M162.95 454.37h4M179.4 459.08V454.27M177.4 454.37h4M193.85 460.72V458.15M191.85 458.25h4M228 448.68V446.73M226 446.83h4M242.45 458.44V454.68M240.45 454.78h4M271.35 464.93V464.2M269.35 464.3h4M285.8 462.94V462.21M283.8 462.31h4M300.25 462.94V460.93M298.25 461.03h4M333.4 452.19V450.47M331.4 450.57h4M347.85 452.95V451.46M345.85 451.56h4M362.3 458.68V455.96M360.3 456.06h4M376.75 462.18V460.93M374.75 461.03h4M391.2 463.41V462.45M389.2 462.55h4M438.9 467.44V466.42M436.9 466.52h4M453.35 452.42V449.71M451.35 449.81h4M467.8 438.46V435.22M465.8 435.32h4M482.25 436.47V435.22M480.25 435.32h4M496.7 437.88V436.39M494.7 436.49h4M511.15 436.47V435.34M509.15 435.44h4" stroke="#000" stroke-width="1.4" fill="none"/>
<text x="93.2" y="451.4" font-size="9.6" text-anchor="middle" transform="rotate(-90 93.2 451.4)">% in NK cells</text>
<path d="M111.7 493.9H287.8M346 493.9H518.6" stroke="#000" stroke-width="2"/>
<text x="290.6" y="496.4" font-size="9">age (weeks)</text>
</svg>
</body></html>
